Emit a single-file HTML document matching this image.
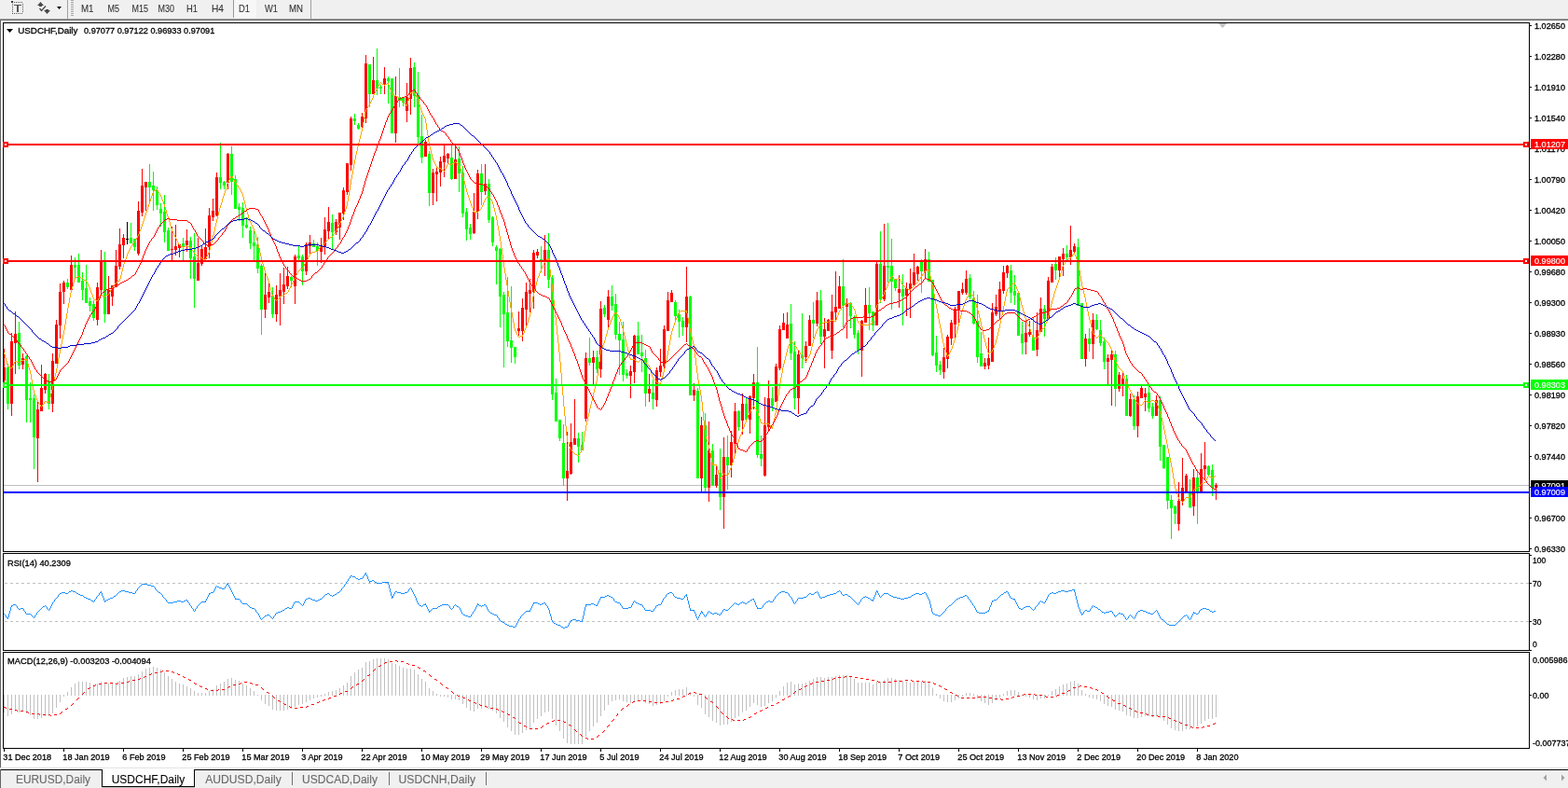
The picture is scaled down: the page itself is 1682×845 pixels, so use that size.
<!DOCTYPE html>
<html><head><meta charset="utf-8"><title>USDCHF,Daily</title>
<style>html,body{margin:0;padding:0;background:#fff;width:1682px;height:845px;overflow:hidden}svg{display:block}</style>
</head><body>
<svg width="1682" height="845" viewBox="0 0 1682 845" font-family="Liberation Sans, Arial, sans-serif">
<rect x="0" y="0" width="1682" height="845" fill="#fff"/>
<g shape-rendering="crispEdges">
<rect x="0" y="0" width="1682" height="20" fill="#f0f0f0"/>
<rect x="0" y="20" width="1682" height="1" fill="#a0a0a0"/>
<rect x="0" y="21" width="1682" height="1" fill="#6a6a6a"/>
<rect x="72" y="0" width="1" height="20" fill="#a0a0a0"/>
<rect x="333" y="0" width="1" height="20" fill="#a0a0a0"/>
<rect x="76" y="0" width="3" height="1" fill="#a8a8a8"/>
<rect x="76" y="2" width="3" height="1" fill="#a8a8a8"/>
<rect x="76" y="4" width="3" height="1" fill="#a8a8a8"/>
<rect x="76" y="6" width="3" height="1" fill="#a8a8a8"/>
<rect x="76" y="8" width="3" height="1" fill="#a8a8a8"/>
<rect x="76" y="10" width="3" height="1" fill="#a8a8a8"/>
<rect x="76" y="12" width="3" height="1" fill="#a8a8a8"/>
<rect x="76" y="14" width="3" height="1" fill="#a8a8a8"/>
<rect x="76" y="16" width="3" height="1" fill="#a8a8a8"/>
<rect x="250" y="0" width="25" height="19" fill="#f7f7f7"/>
<rect x="250" y="0" width="1" height="19" fill="#9a9a9a"/>
</g>
<g shape-rendering="crispEdges" fill="#555">
<rect x="13" y="2" width="1" height="1"/>
<rect x="13" y="14" width="1" height="1"/>
<rect x="15" y="2" width="1" height="1"/>
<rect x="15" y="14" width="1" height="1"/>
<rect x="17" y="2" width="1" height="1"/>
<rect x="17" y="14" width="1" height="1"/>
<rect x="19" y="2" width="1" height="1"/>
<rect x="19" y="14" width="1" height="1"/>
<rect x="21" y="2" width="1" height="1"/>
<rect x="21" y="14" width="1" height="1"/>
<rect x="23" y="2" width="1" height="1"/>
<rect x="23" y="14" width="1" height="1"/>
<rect x="13" y="4" width="1" height="1"/>
<rect x="24" y="4" width="1" height="1"/>
<rect x="13" y="6" width="1" height="1"/>
<rect x="24" y="6" width="1" height="1"/>
<rect x="13" y="8" width="1" height="1"/>
<rect x="24" y="8" width="1" height="1"/>
<rect x="13" y="10" width="1" height="1"/>
<rect x="24" y="10" width="1" height="1"/>
<rect x="13" y="12" width="1" height="1"/>
<rect x="24" y="12" width="1" height="1"/>
<rect x="12" y="1" width="2" height="2" fill="#333"/>
<rect x="15" y="5" width="8" height="1"/><rect x="18" y="5" width="2" height="8"/>
</g>
<g fill="#4a4a4a"><polygon points="40,6 43.5,2 47,6"/><rect x="42" y="6" width="3" height="1"/><polygon points="47,11 50.5,15 54,11"/><rect x="49" y="10" width="3" height="1"/></g>
<polyline points="42.5,9 44.5,11.5 49,6.5" fill="none" stroke="#4a4a4a" stroke-width="1.3"/>
<polygon points="61,7 66,7 63.5,10" fill="#000"/>
<text x="87" y="12.5" font-size="11" fill="#333" stroke="#333" stroke-width="0.1" textLength="13.5" lengthAdjust="spacingAndGlyphs">M1</text>
<text x="115.5" y="12.5" font-size="11" fill="#333" stroke="#333" stroke-width="0.1" textLength="12.5" lengthAdjust="spacingAndGlyphs">M5</text>
<text x="141.5" y="12.5" font-size="11" fill="#333" stroke="#333" stroke-width="0.1" textLength="17.5" lengthAdjust="spacingAndGlyphs">M15</text>
<text x="169.5" y="12.5" font-size="11" fill="#333" stroke="#333" stroke-width="0.1" textLength="17.5" lengthAdjust="spacingAndGlyphs">M30</text>
<text x="200" y="12.5" font-size="11" fill="#333" stroke="#333" stroke-width="0.1" textLength="12.0" lengthAdjust="spacingAndGlyphs">H1</text>
<text x="227" y="12.5" font-size="11" fill="#333" stroke="#333" stroke-width="0.1" textLength="13.0" lengthAdjust="spacingAndGlyphs">H4</text>
<text x="256" y="12.5" font-size="11" fill="#333" stroke="#333" stroke-width="0.1" textLength="12.0" lengthAdjust="spacingAndGlyphs">D1</text>
<text x="284" y="12.5" font-size="11" fill="#333" stroke="#333" stroke-width="0.1" textLength="14.0" lengthAdjust="spacingAndGlyphs">W1</text>
<text x="310" y="12.5" font-size="11" fill="#333" stroke="#333" stroke-width="0.1" textLength="15.0" lengthAdjust="spacingAndGlyphs">MN</text>
<g shape-rendering="crispEdges">
<rect x="0" y="22" width="1" height="801" fill="#646464"/>
<rect x="3" y="24" width="1638" height="1" fill="#000"/>
<rect x="3" y="591" width="1638" height="1" fill="#000"/>
<rect x="3" y="24" width="1" height="568" fill="#000"/>
<rect x="1640" y="24" width="1" height="568" fill="#000"/>
<rect x="3" y="593" width="1638" height="1" fill="#000"/>
<rect x="3" y="697" width="1638" height="1" fill="#000"/>
<rect x="3" y="593" width="1" height="105" fill="#000"/>
<rect x="1640" y="593" width="1" height="105" fill="#000"/>
<rect x="3" y="699" width="1638" height="1" fill="#000"/>
<rect x="3" y="802" width="1638" height="1" fill="#000"/>
<rect x="3" y="699" width="1" height="104" fill="#000"/>
<rect x="1640" y="699" width="1" height="104" fill="#000"/>
</g>
<polygon points="1307,25 1316,25 1311.5,30" fill="#c0c0c0"/>
<defs><clipPath id="cm"><rect x="3" y="25" width="1637" height="566"/></clipPath><clipPath id="cr"><rect x="4" y="594" width="1636" height="103"/></clipPath><clipPath id="cd"><rect x="4" y="700" width="1636" height="102"/></clipPath></defs>
<g clip-path="url(#cm)">
<rect x="4" y="520" width="1636" height="1" fill="#c0c0c0" shape-rendering="crispEdges"/>
<g shape-rendering="crispEdges">
<rect x="4" y="374" width="1" height="37" fill="#ff0000"/>
<rect x="4" y="394" width="2" height="14" fill="#ff0000"/>
<rect x="8" y="390" width="1" height="49" fill="#00ff00"/>
<rect x="7" y="394" width="3" height="39" fill="#00ff00"/>
<rect x="12" y="357" width="1" height="89" fill="#ff0000"/>
<rect x="11" y="366" width="3" height="67" fill="#ff0000"/>
<rect x="16" y="334" width="1" height="67" fill="#ff0000"/>
<rect x="15" y="358" width="3" height="10" fill="#ff0000"/>
<rect x="20" y="345" width="1" height="51" fill="#00ff00"/>
<rect x="19" y="357" width="3" height="35" fill="#00ff00"/>
<rect x="24" y="379" width="1" height="17" fill="#ff0000"/>
<rect x="23" y="384" width="3" height="7" fill="#ff0000"/>
<rect x="28" y="381" width="1" height="72" fill="#00ff00"/>
<rect x="27" y="382" width="3" height="47" fill="#00ff00"/>
<rect x="32" y="410" width="1" height="43" fill="#00ff00"/>
<rect x="31" y="427" width="3" height="2" fill="#00ff00"/>
<rect x="36" y="423" width="1" height="80" fill="#00ff00"/>
<rect x="35" y="427" width="3" height="42" fill="#00ff00"/>
<rect x="40" y="431" width="1" height="86" fill="#ff0000"/>
<rect x="39" y="439" width="3" height="31" fill="#ff0000"/>
<rect x="44" y="391" width="1" height="50" fill="#ff0000"/>
<rect x="43" y="416" width="3" height="25" fill="#ff0000"/>
<rect x="48" y="400" width="1" height="22" fill="#ff0000"/>
<rect x="47" y="401" width="3" height="17" fill="#ff0000"/>
<rect x="52" y="401" width="1" height="38" fill="#00ff00"/>
<rect x="51" y="409" width="3" height="24" fill="#00ff00"/>
<rect x="56" y="379" width="1" height="63" fill="#ff0000"/>
<rect x="55" y="387" width="3" height="46" fill="#ff0000"/>
<rect x="60" y="343" width="1" height="47" fill="#ff0000"/>
<rect x="59" y="348" width="3" height="42" fill="#ff0000"/>
<rect x="64" y="304" width="1" height="59" fill="#ff0000"/>
<rect x="63" y="313" width="3" height="36" fill="#ff0000"/>
<rect x="68" y="301" width="1" height="25" fill="#ff0000"/>
<rect x="67" y="303" width="3" height="10" fill="#ff0000"/>
<rect x="72" y="299" width="1" height="11" fill="#00ff00"/>
<rect x="71" y="303" width="3" height="5" fill="#00ff00"/>
<rect x="76" y="274" width="1" height="37" fill="#ff0000"/>
<rect x="75" y="284" width="3" height="27" fill="#ff0000"/>
<rect x="80" y="276" width="1" height="22" fill="#00ff00"/>
<rect x="79" y="284" width="3" height="3" fill="#00ff00"/>
<rect x="84" y="272" width="1" height="31" fill="#00ff00"/>
<rect x="83" y="284" width="3" height="19" fill="#00ff00"/>
<rect x="88" y="292" width="1" height="30" fill="#00ff00"/>
<rect x="87" y="301" width="3" height="10" fill="#00ff00"/>
<rect x="92" y="284" width="1" height="41" fill="#00ff00"/>
<rect x="91" y="309" width="3" height="16" fill="#00ff00"/>
<rect x="96" y="319" width="1" height="15" fill="#00ff00"/>
<rect x="95" y="323" width="3" height="5" fill="#00ff00"/>
<rect x="100" y="322" width="1" height="22" fill="#00ff00"/>
<rect x="99" y="326" width="3" height="15" fill="#00ff00"/>
<rect x="104" y="303" width="1" height="46" fill="#ff0000"/>
<rect x="103" y="308" width="3" height="35" fill="#ff0000"/>
<rect x="108" y="268" width="1" height="47" fill="#ff0000"/>
<rect x="107" y="279" width="3" height="32" fill="#ff0000"/>
<rect x="112" y="270" width="1" height="76" fill="#00ff00"/>
<rect x="111" y="281" width="3" height="56" fill="#00ff00"/>
<rect x="116" y="296" width="1" height="41" fill="#ff0000"/>
<rect x="115" y="311" width="3" height="26" fill="#ff0000"/>
<rect x="120" y="306" width="1" height="22" fill="#ff0000"/>
<rect x="119" y="306" width="3" height="12" fill="#ff0000"/>
<rect x="124" y="268" width="1" height="40" fill="#ff0000"/>
<rect x="123" y="285" width="3" height="23" fill="#ff0000"/>
<rect x="128" y="245" width="1" height="44" fill="#ff0000"/>
<rect x="127" y="262" width="3" height="24" fill="#ff0000"/>
<rect x="132" y="251" width="1" height="26" fill="#ff0000"/>
<rect x="131" y="255" width="3" height="8" fill="#ff0000"/>
<rect x="136" y="238" width="1" height="24" fill="#000000"/>
<rect x="135" y="256" width="3" height="1" fill="#000000"/>
<rect x="140" y="239" width="1" height="22" fill="#00ff00"/>
<rect x="139" y="255" width="3" height="6" fill="#00ff00"/>
<rect x="144" y="256" width="1" height="13" fill="#00ff00"/>
<rect x="143" y="256" width="3" height="9" fill="#00ff00"/>
<rect x="148" y="216" width="1" height="58" fill="#ff0000"/>
<rect x="147" y="226" width="3" height="46" fill="#ff0000"/>
<rect x="152" y="181" width="1" height="51" fill="#ff0000"/>
<rect x="151" y="199" width="3" height="29" fill="#ff0000"/>
<rect x="156" y="195" width="1" height="31" fill="#ff0000"/>
<rect x="155" y="195" width="3" height="6" fill="#ff0000"/>
<rect x="160" y="176" width="1" height="41" fill="#00ff00"/>
<rect x="159" y="195" width="3" height="6" fill="#00ff00"/>
<rect x="164" y="184" width="1" height="42" fill="#00ff00"/>
<rect x="163" y="199" width="3" height="5" fill="#00ff00"/>
<rect x="168" y="200" width="1" height="25" fill="#00ff00"/>
<rect x="167" y="204" width="3" height="16" fill="#00ff00"/>
<rect x="172" y="218" width="1" height="25" fill="#00ff00"/>
<rect x="171" y="224" width="3" height="5" fill="#00ff00"/>
<rect x="176" y="209" width="1" height="51" fill="#00ff00"/>
<rect x="175" y="227" width="3" height="22" fill="#00ff00"/>
<rect x="180" y="244" width="1" height="25" fill="#00ff00"/>
<rect x="179" y="247" width="3" height="22" fill="#00ff00"/>
<rect x="184" y="243" width="1" height="37" fill="#ff0000"/>
<rect x="183" y="267" width="3" height="1" fill="#ff0000"/>
<rect x="188" y="241" width="1" height="33" fill="#ff0000"/>
<rect x="187" y="264" width="3" height="4" fill="#ff0000"/>
<rect x="192" y="262" width="1" height="14" fill="#ff0000"/>
<rect x="191" y="262" width="3" height="4" fill="#ff0000"/>
<rect x="196" y="255" width="1" height="24" fill="#00ff00"/>
<rect x="195" y="261" width="3" height="3" fill="#00ff00"/>
<rect x="200" y="246" width="1" height="24" fill="#ff0000"/>
<rect x="199" y="258" width="3" height="5" fill="#ff0000"/>
<rect x="204" y="254" width="1" height="45" fill="#00ff00"/>
<rect x="203" y="258" width="3" height="19" fill="#00ff00"/>
<rect x="208" y="250" width="1" height="80" fill="#00ff00"/>
<rect x="207" y="275" width="3" height="24" fill="#00ff00"/>
<rect x="212" y="255" width="1" height="46" fill="#ff0000"/>
<rect x="211" y="282" width="3" height="19" fill="#ff0000"/>
<rect x="216" y="264" width="1" height="21" fill="#ff0000"/>
<rect x="215" y="267" width="3" height="16" fill="#ff0000"/>
<rect x="220" y="245" width="1" height="35" fill="#ff0000"/>
<rect x="219" y="265" width="3" height="13" fill="#ff0000"/>
<rect x="224" y="223" width="1" height="54" fill="#ff0000"/>
<rect x="223" y="231" width="3" height="34" fill="#ff0000"/>
<rect x="228" y="213" width="1" height="24" fill="#ff0000"/>
<rect x="227" y="226" width="3" height="7" fill="#ff0000"/>
<rect x="232" y="185" width="1" height="47" fill="#ff0000"/>
<rect x="231" y="190" width="3" height="41" fill="#ff0000"/>
<rect x="236" y="153" width="1" height="50" fill="#00ff00"/>
<rect x="235" y="190" width="3" height="6" fill="#00ff00"/>
<rect x="240" y="194" width="1" height="9" fill="#00ff00"/>
<rect x="239" y="195" width="3" height="4" fill="#00ff00"/>
<rect x="244" y="164" width="1" height="39" fill="#ff0000"/>
<rect x="243" y="165" width="3" height="31" fill="#ff0000"/>
<rect x="248" y="157" width="1" height="52" fill="#00ff00"/>
<rect x="247" y="165" width="3" height="30" fill="#00ff00"/>
<rect x="252" y="188" width="1" height="36" fill="#00ff00"/>
<rect x="251" y="192" width="3" height="32" fill="#00ff00"/>
<rect x="256" y="218" width="1" height="19" fill="#00ff00"/>
<rect x="255" y="222" width="3" height="3" fill="#00ff00"/>
<rect x="260" y="217" width="1" height="38" fill="#00ff00"/>
<rect x="259" y="223" width="3" height="19" fill="#00ff00"/>
<rect x="264" y="233" width="1" height="12" fill="#00ff00"/>
<rect x="263" y="241" width="3" height="3" fill="#00ff00"/>
<rect x="268" y="243" width="1" height="24" fill="#00ff00"/>
<rect x="267" y="247" width="3" height="14" fill="#00ff00"/>
<rect x="272" y="248" width="1" height="31" fill="#00ff00"/>
<rect x="271" y="260" width="3" height="4" fill="#00ff00"/>
<rect x="276" y="254" width="1" height="39" fill="#00ff00"/>
<rect x="275" y="262" width="3" height="26" fill="#00ff00"/>
<rect x="280" y="283" width="1" height="76" fill="#00ff00"/>
<rect x="279" y="285" width="3" height="47" fill="#00ff00"/>
<rect x="284" y="293" width="1" height="48" fill="#ff0000"/>
<rect x="283" y="316" width="3" height="16" fill="#ff0000"/>
<rect x="288" y="303" width="1" height="22" fill="#ff0000"/>
<rect x="287" y="313" width="3" height="6" fill="#ff0000"/>
<rect x="292" y="308" width="1" height="33" fill="#00ff00"/>
<rect x="291" y="317" width="3" height="20" fill="#00ff00"/>
<rect x="296" y="306" width="1" height="39" fill="#ff0000"/>
<rect x="295" y="316" width="3" height="21" fill="#ff0000"/>
<rect x="300" y="293" width="1" height="56" fill="#ff0000"/>
<rect x="299" y="311" width="3" height="7" fill="#ff0000"/>
<rect x="304" y="287" width="1" height="39" fill="#ff0000"/>
<rect x="303" y="305" width="3" height="8" fill="#ff0000"/>
<rect x="308" y="286" width="1" height="24" fill="#ff0000"/>
<rect x="307" y="296" width="3" height="11" fill="#ff0000"/>
<rect x="312" y="296" width="1" height="12" fill="#00ff00"/>
<rect x="311" y="297" width="3" height="4" fill="#00ff00"/>
<rect x="316" y="273" width="1" height="53" fill="#ff0000"/>
<rect x="315" y="275" width="3" height="32" fill="#ff0000"/>
<rect x="320" y="264" width="1" height="15" fill="#00ff00"/>
<rect x="319" y="274" width="3" height="3" fill="#00ff00"/>
<rect x="324" y="273" width="1" height="33" fill="#00ff00"/>
<rect x="323" y="275" width="3" height="16" fill="#00ff00"/>
<rect x="328" y="260" width="1" height="35" fill="#ff0000"/>
<rect x="327" y="262" width="3" height="29" fill="#ff0000"/>
<rect x="332" y="252" width="1" height="21" fill="#ff0000"/>
<rect x="331" y="260" width="3" height="4" fill="#ff0000"/>
<rect x="336" y="257" width="1" height="8" fill="#00ff00"/>
<rect x="335" y="261" width="3" height="4" fill="#00ff00"/>
<rect x="340" y="260" width="1" height="25" fill="#00ff00"/>
<rect x="339" y="264" width="3" height="5" fill="#00ff00"/>
<rect x="344" y="255" width="1" height="27" fill="#ff0000"/>
<rect x="343" y="263" width="3" height="7" fill="#ff0000"/>
<rect x="348" y="233" width="1" height="40" fill="#ff0000"/>
<rect x="347" y="246" width="3" height="18" fill="#ff0000"/>
<rect x="352" y="222" width="1" height="34" fill="#ff0000"/>
<rect x="351" y="238" width="3" height="10" fill="#ff0000"/>
<rect x="356" y="230" width="1" height="37" fill="#00ff00"/>
<rect x="355" y="239" width="3" height="10" fill="#00ff00"/>
<rect x="360" y="235" width="1" height="17" fill="#ff0000"/>
<rect x="359" y="238" width="3" height="11" fill="#ff0000"/>
<rect x="364" y="228" width="1" height="29" fill="#ff0000"/>
<rect x="363" y="228" width="3" height="16" fill="#ff0000"/>
<rect x="368" y="201" width="1" height="35" fill="#ff0000"/>
<rect x="367" y="204" width="3" height="25" fill="#ff0000"/>
<rect x="372" y="175" width="1" height="34" fill="#ff0000"/>
<rect x="371" y="175" width="3" height="31" fill="#ff0000"/>
<rect x="376" y="125" width="1" height="58" fill="#ff0000"/>
<rect x="375" y="127" width="3" height="50" fill="#ff0000"/>
<rect x="380" y="122" width="1" height="12" fill="#00ff00"/>
<rect x="379" y="127" width="3" height="3" fill="#00ff00"/>
<rect x="384" y="132" width="1" height="7" fill="#00ff00"/>
<rect x="383" y="134" width="3" height="4" fill="#00ff00"/>
<rect x="388" y="121" width="1" height="19" fill="#ff0000"/>
<rect x="387" y="125" width="3" height="11" fill="#ff0000"/>
<rect x="392" y="59" width="1" height="73" fill="#ff0000"/>
<rect x="391" y="68" width="3" height="59" fill="#ff0000"/>
<rect x="396" y="69" width="1" height="46" fill="#00ff00"/>
<rect x="395" y="69" width="3" height="32" fill="#00ff00"/>
<rect x="400" y="61" width="1" height="40" fill="#ff0000"/>
<rect x="399" y="86" width="3" height="15" fill="#ff0000"/>
<rect x="404" y="52" width="1" height="50" fill="#00ff00"/>
<rect x="403" y="86" width="3" height="9" fill="#00ff00"/>
<rect x="408" y="91" width="1" height="10" fill="#00ff00"/>
<rect x="407" y="93" width="3" height="2" fill="#00ff00"/>
<rect x="412" y="72" width="1" height="29" fill="#ff0000"/>
<rect x="411" y="84" width="3" height="7" fill="#ff0000"/>
<rect x="416" y="82" width="1" height="29" fill="#00ff00"/>
<rect x="415" y="84" width="3" height="3" fill="#00ff00"/>
<rect x="420" y="84" width="1" height="59" fill="#00ff00"/>
<rect x="419" y="84" width="3" height="59" fill="#00ff00"/>
<rect x="424" y="82" width="1" height="71" fill="#ff0000"/>
<rect x="423" y="103" width="3" height="40" fill="#ff0000"/>
<rect x="428" y="73" width="1" height="42" fill="#00ff00"/>
<rect x="427" y="104" width="3" height="4" fill="#00ff00"/>
<rect x="432" y="104" width="1" height="10" fill="#00ff00"/>
<rect x="431" y="105" width="3" height="5" fill="#00ff00"/>
<rect x="436" y="89" width="1" height="42" fill="#ff0000"/>
<rect x="435" y="104" width="3" height="15" fill="#ff0000"/>
<rect x="440" y="62" width="1" height="61" fill="#ff0000"/>
<rect x="439" y="73" width="3" height="33" fill="#ff0000"/>
<rect x="444" y="67" width="1" height="48" fill="#00ff00"/>
<rect x="443" y="72" width="3" height="31" fill="#00ff00"/>
<rect x="448" y="77" width="1" height="78" fill="#00ff00"/>
<rect x="447" y="102" width="3" height="45" fill="#00ff00"/>
<rect x="452" y="123" width="1" height="52" fill="#00ff00"/>
<rect x="451" y="146" width="3" height="23" fill="#00ff00"/>
<rect x="456" y="150" width="1" height="18" fill="#ff0000"/>
<rect x="455" y="152" width="3" height="16" fill="#ff0000"/>
<rect x="460" y="162" width="1" height="59" fill="#00ff00"/>
<rect x="459" y="165" width="3" height="42" fill="#00ff00"/>
<rect x="464" y="181" width="1" height="39" fill="#ff0000"/>
<rect x="463" y="185" width="3" height="22" fill="#ff0000"/>
<rect x="468" y="179" width="1" height="37" fill="#ff0000"/>
<rect x="467" y="184" width="3" height="3" fill="#ff0000"/>
<rect x="472" y="168" width="1" height="32" fill="#ff0000"/>
<rect x="471" y="173" width="3" height="12" fill="#ff0000"/>
<rect x="476" y="156" width="1" height="34" fill="#ff0000"/>
<rect x="475" y="167" width="3" height="7" fill="#ff0000"/>
<rect x="480" y="164" width="1" height="12" fill="#ff0000"/>
<rect x="479" y="165" width="3" height="5" fill="#ff0000"/>
<rect x="484" y="156" width="1" height="37" fill="#00ff00"/>
<rect x="483" y="169" width="3" height="23" fill="#00ff00"/>
<rect x="488" y="155" width="1" height="37" fill="#ff0000"/>
<rect x="487" y="171" width="3" height="21" fill="#ff0000"/>
<rect x="492" y="157" width="1" height="49" fill="#00ff00"/>
<rect x="491" y="170" width="3" height="16" fill="#00ff00"/>
<rect x="496" y="178" width="1" height="55" fill="#00ff00"/>
<rect x="495" y="185" width="3" height="44" fill="#00ff00"/>
<rect x="500" y="223" width="1" height="35" fill="#00ff00"/>
<rect x="499" y="227" width="3" height="19" fill="#00ff00"/>
<rect x="504" y="240" width="1" height="17" fill="#00ff00"/>
<rect x="503" y="244" width="3" height="7" fill="#00ff00"/>
<rect x="508" y="207" width="1" height="44" fill="#ff0000"/>
<rect x="507" y="227" width="3" height="23" fill="#ff0000"/>
<rect x="512" y="182" width="1" height="53" fill="#ff0000"/>
<rect x="511" y="186" width="3" height="41" fill="#ff0000"/>
<rect x="516" y="176" width="1" height="44" fill="#00ff00"/>
<rect x="515" y="186" width="3" height="20" fill="#00ff00"/>
<rect x="520" y="176" width="1" height="33" fill="#ff0000"/>
<rect x="519" y="197" width="3" height="8" fill="#ff0000"/>
<rect x="524" y="192" width="1" height="47" fill="#00ff00"/>
<rect x="523" y="197" width="3" height="39" fill="#00ff00"/>
<rect x="528" y="232" width="1" height="32" fill="#00ff00"/>
<rect x="527" y="233" width="3" height="27" fill="#00ff00"/>
<rect x="532" y="263" width="1" height="42" fill="#00ff00"/>
<rect x="531" y="265" width="3" height="4" fill="#00ff00"/>
<rect x="536" y="266" width="1" height="85" fill="#00ff00"/>
<rect x="535" y="267" width="3" height="51" fill="#00ff00"/>
<rect x="540" y="313" width="1" height="81" fill="#00ff00"/>
<rect x="539" y="316" width="3" height="21" fill="#00ff00"/>
<rect x="544" y="297" width="1" height="75" fill="#00ff00"/>
<rect x="543" y="335" width="3" height="31" fill="#00ff00"/>
<rect x="548" y="307" width="1" height="82" fill="#00ff00"/>
<rect x="547" y="365" width="3" height="8" fill="#00ff00"/>
<rect x="552" y="372" width="1" height="18" fill="#00ff00"/>
<rect x="551" y="372" width="3" height="11" fill="#00ff00"/>
<rect x="556" y="334" width="1" height="26" fill="#ff0000"/>
<rect x="555" y="352" width="3" height="3" fill="#ff0000"/>
<rect x="560" y="320" width="1" height="46" fill="#ff0000"/>
<rect x="559" y="330" width="3" height="25" fill="#ff0000"/>
<rect x="564" y="303" width="1" height="47" fill="#ff0000"/>
<rect x="563" y="313" width="3" height="19" fill="#ff0000"/>
<rect x="568" y="299" width="1" height="36" fill="#ff0000"/>
<rect x="567" y="311" width="3" height="4" fill="#ff0000"/>
<rect x="572" y="268" width="1" height="63" fill="#ff0000"/>
<rect x="571" y="271" width="3" height="42" fill="#ff0000"/>
<rect x="576" y="267" width="1" height="10" fill="#ff0000"/>
<rect x="575" y="270" width="3" height="4" fill="#ff0000"/>
<rect x="580" y="264" width="1" height="28" fill="#00ff00"/>
<rect x="579" y="278" width="3" height="2" fill="#00ff00"/>
<rect x="584" y="252" width="1" height="44" fill="#ff0000"/>
<rect x="583" y="268" width="3" height="13" fill="#ff0000"/>
<rect x="588" y="250" width="1" height="59" fill="#00ff00"/>
<rect x="587" y="268" width="3" height="32" fill="#00ff00"/>
<rect x="592" y="295" width="1" height="134" fill="#00ff00"/>
<rect x="591" y="298" width="3" height="125" fill="#00ff00"/>
<rect x="596" y="406" width="1" height="46" fill="#00ff00"/>
<rect x="595" y="421" width="3" height="31" fill="#00ff00"/>
<rect x="600" y="450" width="1" height="23" fill="#00ff00"/>
<rect x="599" y="450" width="3" height="20" fill="#00ff00"/>
<rect x="604" y="455" width="1" height="66" fill="#00ff00"/>
<rect x="603" y="475" width="3" height="38" fill="#00ff00"/>
<rect x="608" y="463" width="1" height="74" fill="#ff0000"/>
<rect x="607" y="505" width="3" height="8" fill="#ff0000"/>
<rect x="612" y="454" width="1" height="55" fill="#ff0000"/>
<rect x="611" y="474" width="3" height="34" fill="#ff0000"/>
<rect x="616" y="428" width="1" height="49" fill="#ff0000"/>
<rect x="615" y="470" width="3" height="7" fill="#ff0000"/>
<rect x="620" y="464" width="1" height="32" fill="#00ff00"/>
<rect x="619" y="470" width="3" height="9" fill="#00ff00"/>
<rect x="624" y="463" width="1" height="20" fill="#00ff00"/>
<rect x="623" y="477" width="3" height="6" fill="#00ff00"/>
<rect x="628" y="378" width="1" height="74" fill="#ff0000"/>
<rect x="627" y="384" width="3" height="65" fill="#ff0000"/>
<rect x="632" y="362" width="1" height="30" fill="#00ff00"/>
<rect x="631" y="384" width="3" height="5" fill="#00ff00"/>
<rect x="636" y="376" width="1" height="36" fill="#ff0000"/>
<rect x="635" y="383" width="3" height="6" fill="#ff0000"/>
<rect x="640" y="376" width="1" height="24" fill="#00ff00"/>
<rect x="639" y="383" width="3" height="13" fill="#00ff00"/>
<rect x="644" y="323" width="1" height="82" fill="#ff0000"/>
<rect x="643" y="331" width="3" height="65" fill="#ff0000"/>
<rect x="648" y="327" width="1" height="13" fill="#00ff00"/>
<rect x="647" y="330" width="3" height="7" fill="#00ff00"/>
<rect x="652" y="311" width="1" height="41" fill="#ff0000"/>
<rect x="651" y="318" width="3" height="25" fill="#ff0000"/>
<rect x="656" y="306" width="1" height="27" fill="#00ff00"/>
<rect x="655" y="318" width="3" height="10" fill="#00ff00"/>
<rect x="660" y="315" width="1" height="49" fill="#00ff00"/>
<rect x="659" y="326" width="3" height="33" fill="#00ff00"/>
<rect x="664" y="345" width="1" height="57" fill="#00ff00"/>
<rect x="663" y="358" width="3" height="7" fill="#00ff00"/>
<rect x="668" y="345" width="1" height="64" fill="#00ff00"/>
<rect x="667" y="364" width="3" height="38" fill="#00ff00"/>
<rect x="672" y="396" width="1" height="10" fill="#00ff00"/>
<rect x="671" y="400" width="3" height="3" fill="#00ff00"/>
<rect x="676" y="392" width="1" height="35" fill="#ff0000"/>
<rect x="675" y="398" width="3" height="5" fill="#ff0000"/>
<rect x="680" y="359" width="1" height="52" fill="#ff0000"/>
<rect x="679" y="360" width="3" height="39" fill="#ff0000"/>
<rect x="684" y="345" width="1" height="35" fill="#00ff00"/>
<rect x="683" y="360" width="3" height="20" fill="#00ff00"/>
<rect x="688" y="359" width="1" height="40" fill="#00ff00"/>
<rect x="687" y="378" width="3" height="4" fill="#00ff00"/>
<rect x="692" y="375" width="1" height="61" fill="#00ff00"/>
<rect x="691" y="384" width="3" height="38" fill="#00ff00"/>
<rect x="696" y="401" width="1" height="30" fill="#ff0000"/>
<rect x="695" y="417" width="3" height="5" fill="#ff0000"/>
<rect x="700" y="407" width="1" height="32" fill="#00ff00"/>
<rect x="699" y="421" width="3" height="7" fill="#00ff00"/>
<rect x="704" y="394" width="1" height="42" fill="#ff0000"/>
<rect x="703" y="397" width="3" height="32" fill="#ff0000"/>
<rect x="708" y="374" width="1" height="30" fill="#ff0000"/>
<rect x="707" y="392" width="3" height="7" fill="#ff0000"/>
<rect x="712" y="349" width="1" height="47" fill="#ff0000"/>
<rect x="711" y="353" width="3" height="40" fill="#ff0000"/>
<rect x="716" y="313" width="1" height="42" fill="#ff0000"/>
<rect x="715" y="322" width="3" height="33" fill="#ff0000"/>
<rect x="720" y="311" width="1" height="13" fill="#ff0000"/>
<rect x="719" y="314" width="3" height="10" fill="#ff0000"/>
<rect x="724" y="322" width="1" height="21" fill="#00ff00"/>
<rect x="723" y="324" width="3" height="15" fill="#00ff00"/>
<rect x="728" y="332" width="1" height="30" fill="#00ff00"/>
<rect x="727" y="337" width="3" height="8" fill="#00ff00"/>
<rect x="732" y="340" width="1" height="20" fill="#00ff00"/>
<rect x="731" y="344" width="3" height="7" fill="#00ff00"/>
<rect x="736" y="286" width="1" height="81" fill="#ff0000"/>
<rect x="735" y="318" width="3" height="33" fill="#ff0000"/>
<rect x="740" y="317" width="1" height="107" fill="#00ff00"/>
<rect x="739" y="318" width="3" height="106" fill="#00ff00"/>
<rect x="744" y="411" width="1" height="19" fill="#ff0000"/>
<rect x="743" y="418" width="3" height="6" fill="#ff0000"/>
<rect x="748" y="416" width="1" height="97" fill="#00ff00"/>
<rect x="747" y="419" width="3" height="94" fill="#00ff00"/>
<rect x="752" y="447" width="1" height="81" fill="#ff0000"/>
<rect x="751" y="456" width="3" height="57" fill="#ff0000"/>
<rect x="756" y="443" width="1" height="85" fill="#00ff00"/>
<rect x="755" y="456" width="3" height="67" fill="#00ff00"/>
<rect x="760" y="452" width="1" height="86" fill="#ff0000"/>
<rect x="759" y="483" width="3" height="40" fill="#ff0000"/>
<rect x="764" y="476" width="1" height="45" fill="#00ff00"/>
<rect x="763" y="483" width="3" height="38" fill="#00ff00"/>
<rect x="768" y="500" width="1" height="23" fill="#ff0000"/>
<rect x="767" y="509" width="3" height="12" fill="#ff0000"/>
<rect x="772" y="481" width="1" height="66" fill="#00ff00"/>
<rect x="771" y="507" width="3" height="26" fill="#00ff00"/>
<rect x="776" y="469" width="1" height="98" fill="#ff0000"/>
<rect x="775" y="490" width="3" height="43" fill="#ff0000"/>
<rect x="780" y="467" width="1" height="58" fill="#00ff00"/>
<rect x="779" y="490" width="3" height="9" fill="#00ff00"/>
<rect x="784" y="462" width="1" height="50" fill="#ff0000"/>
<rect x="783" y="474" width="3" height="25" fill="#ff0000"/>
<rect x="788" y="432" width="1" height="55" fill="#ff0000"/>
<rect x="787" y="441" width="3" height="35" fill="#ff0000"/>
<rect x="792" y="440" width="1" height="22" fill="#00ff00"/>
<rect x="791" y="441" width="3" height="17" fill="#00ff00"/>
<rect x="796" y="422" width="1" height="44" fill="#ff0000"/>
<rect x="795" y="433" width="3" height="18" fill="#ff0000"/>
<rect x="800" y="426" width="1" height="27" fill="#00ff00"/>
<rect x="799" y="433" width="3" height="17" fill="#00ff00"/>
<rect x="804" y="424" width="1" height="41" fill="#ff0000"/>
<rect x="803" y="425" width="3" height="25" fill="#ff0000"/>
<rect x="808" y="401" width="1" height="38" fill="#ff0000"/>
<rect x="807" y="410" width="3" height="17" fill="#ff0000"/>
<rect x="812" y="372" width="1" height="119" fill="#00ff00"/>
<rect x="811" y="410" width="3" height="78" fill="#00ff00"/>
<rect x="816" y="467" width="1" height="33" fill="#00ff00"/>
<rect x="815" y="487" width="3" height="5" fill="#00ff00"/>
<rect x="820" y="426" width="1" height="85" fill="#ff0000"/>
<rect x="819" y="456" width="3" height="54" fill="#ff0000"/>
<rect x="824" y="408" width="1" height="55" fill="#ff0000"/>
<rect x="823" y="427" width="3" height="31" fill="#ff0000"/>
<rect x="828" y="415" width="1" height="26" fill="#00ff00"/>
<rect x="827" y="427" width="3" height="8" fill="#00ff00"/>
<rect x="832" y="390" width="1" height="41" fill="#ff0000"/>
<rect x="831" y="393" width="3" height="38" fill="#ff0000"/>
<rect x="836" y="349" width="1" height="48" fill="#ff0000"/>
<rect x="835" y="353" width="3" height="42" fill="#ff0000"/>
<rect x="840" y="336" width="1" height="18" fill="#ff0000"/>
<rect x="839" y="346" width="3" height="8" fill="#ff0000"/>
<rect x="844" y="335" width="1" height="28" fill="#ff0000"/>
<rect x="843" y="348" width="3" height="15" fill="#ff0000"/>
<rect x="848" y="326" width="1" height="60" fill="#00ff00"/>
<rect x="847" y="347" width="3" height="32" fill="#00ff00"/>
<rect x="852" y="366" width="1" height="73" fill="#00ff00"/>
<rect x="851" y="377" width="3" height="50" fill="#00ff00"/>
<rect x="856" y="376" width="1" height="68" fill="#ff0000"/>
<rect x="855" y="380" width="3" height="47" fill="#ff0000"/>
<rect x="860" y="336" width="1" height="59" fill="#00ff00"/>
<rect x="859" y="381" width="3" height="3" fill="#00ff00"/>
<rect x="864" y="366" width="1" height="23" fill="#ff0000"/>
<rect x="863" y="371" width="3" height="12" fill="#ff0000"/>
<rect x="868" y="338" width="1" height="33" fill="#ff0000"/>
<rect x="867" y="343" width="3" height="28" fill="#ff0000"/>
<rect x="872" y="324" width="1" height="39" fill="#00ff00"/>
<rect x="871" y="343" width="3" height="4" fill="#00ff00"/>
<rect x="876" y="313" width="1" height="37" fill="#ff0000"/>
<rect x="875" y="322" width="3" height="25" fill="#ff0000"/>
<rect x="880" y="311" width="1" height="58" fill="#00ff00"/>
<rect x="879" y="322" width="3" height="39" fill="#00ff00"/>
<rect x="884" y="341" width="1" height="54" fill="#ff0000"/>
<rect x="883" y="353" width="3" height="8" fill="#ff0000"/>
<rect x="888" y="342" width="1" height="13" fill="#ff0000"/>
<rect x="887" y="343" width="3" height="12" fill="#ff0000"/>
<rect x="892" y="316" width="1" height="69" fill="#ff0000"/>
<rect x="891" y="334" width="3" height="42" fill="#ff0000"/>
<rect x="896" y="291" width="1" height="52" fill="#ff0000"/>
<rect x="895" y="329" width="3" height="6" fill="#ff0000"/>
<rect x="900" y="296" width="1" height="35" fill="#ff0000"/>
<rect x="899" y="307" width="3" height="24" fill="#ff0000"/>
<rect x="904" y="278" width="1" height="73" fill="#00ff00"/>
<rect x="903" y="307" width="3" height="21" fill="#00ff00"/>
<rect x="908" y="320" width="1" height="43" fill="#ff0000"/>
<rect x="907" y="325" width="3" height="4" fill="#ff0000"/>
<rect x="912" y="324" width="1" height="28" fill="#00ff00"/>
<rect x="911" y="325" width="3" height="14" fill="#00ff00"/>
<rect x="916" y="338" width="1" height="25" fill="#00ff00"/>
<rect x="915" y="340" width="3" height="19" fill="#00ff00"/>
<rect x="920" y="354" width="1" height="26" fill="#00ff00"/>
<rect x="919" y="357" width="3" height="19" fill="#00ff00"/>
<rect x="924" y="343" width="1" height="61" fill="#ff0000"/>
<rect x="923" y="344" width="3" height="32" fill="#ff0000"/>
<rect x="928" y="309" width="1" height="37" fill="#ff0000"/>
<rect x="927" y="327" width="3" height="19" fill="#ff0000"/>
<rect x="932" y="308" width="1" height="46" fill="#00ff00"/>
<rect x="931" y="327" width="3" height="9" fill="#00ff00"/>
<rect x="936" y="334" width="1" height="21" fill="#00ff00"/>
<rect x="935" y="334" width="3" height="15" fill="#00ff00"/>
<rect x="940" y="281" width="1" height="68" fill="#ff0000"/>
<rect x="939" y="283" width="3" height="66" fill="#ff0000"/>
<rect x="944" y="248" width="1" height="77" fill="#00ff00"/>
<rect x="943" y="283" width="3" height="38" fill="#00ff00"/>
<rect x="948" y="240" width="1" height="83" fill="#ff0000"/>
<rect x="947" y="285" width="3" height="36" fill="#ff0000"/>
<rect x="952" y="239" width="1" height="64" fill="#00ff00"/>
<rect x="951" y="285" width="3" height="2" fill="#00ff00"/>
<rect x="956" y="256" width="1" height="76" fill="#00ff00"/>
<rect x="955" y="285" width="3" height="17" fill="#00ff00"/>
<rect x="960" y="299" width="1" height="13" fill="#00ff00"/>
<rect x="959" y="300" width="3" height="9" fill="#00ff00"/>
<rect x="964" y="295" width="1" height="35" fill="#ff0000"/>
<rect x="963" y="310" width="3" height="4" fill="#ff0000"/>
<rect x="968" y="294" width="1" height="55" fill="#00ff00"/>
<rect x="967" y="310" width="3" height="8" fill="#00ff00"/>
<rect x="972" y="303" width="1" height="36" fill="#ff0000"/>
<rect x="971" y="309" width="3" height="8" fill="#ff0000"/>
<rect x="976" y="288" width="1" height="53" fill="#ff0000"/>
<rect x="975" y="304" width="3" height="6" fill="#ff0000"/>
<rect x="980" y="272" width="1" height="34" fill="#ff0000"/>
<rect x="979" y="292" width="3" height="14" fill="#ff0000"/>
<rect x="984" y="285" width="1" height="16" fill="#ff0000"/>
<rect x="983" y="286" width="3" height="8" fill="#ff0000"/>
<rect x="988" y="278" width="1" height="36" fill="#00ff00"/>
<rect x="987" y="279" width="3" height="12" fill="#00ff00"/>
<rect x="992" y="267" width="1" height="31" fill="#ff0000"/>
<rect x="991" y="278" width="3" height="13" fill="#ff0000"/>
<rect x="996" y="270" width="1" height="32" fill="#00ff00"/>
<rect x="995" y="278" width="3" height="24" fill="#00ff00"/>
<rect x="1000" y="300" width="1" height="82" fill="#00ff00"/>
<rect x="999" y="300" width="3" height="81" fill="#00ff00"/>
<rect x="1004" y="360" width="1" height="39" fill="#00ff00"/>
<rect x="1003" y="378" width="3" height="14" fill="#00ff00"/>
<rect x="1008" y="387" width="1" height="15" fill="#00ff00"/>
<rect x="1007" y="391" width="3" height="6" fill="#00ff00"/>
<rect x="1012" y="373" width="1" height="33" fill="#ff0000"/>
<rect x="1011" y="383" width="3" height="16" fill="#ff0000"/>
<rect x="1016" y="359" width="1" height="36" fill="#ff0000"/>
<rect x="1015" y="361" width="3" height="24" fill="#ff0000"/>
<rect x="1020" y="343" width="1" height="27" fill="#ff0000"/>
<rect x="1019" y="346" width="3" height="17" fill="#ff0000"/>
<rect x="1024" y="329" width="1" height="33" fill="#ff0000"/>
<rect x="1023" y="331" width="3" height="17" fill="#ff0000"/>
<rect x="1028" y="312" width="1" height="34" fill="#ff0000"/>
<rect x="1027" y="312" width="3" height="20" fill="#ff0000"/>
<rect x="1032" y="303" width="1" height="13" fill="#ff0000"/>
<rect x="1031" y="310" width="3" height="4" fill="#ff0000"/>
<rect x="1036" y="290" width="1" height="26" fill="#ff0000"/>
<rect x="1035" y="299" width="3" height="15" fill="#ff0000"/>
<rect x="1040" y="294" width="1" height="27" fill="#00ff00"/>
<rect x="1039" y="298" width="3" height="21" fill="#00ff00"/>
<rect x="1044" y="312" width="1" height="36" fill="#00ff00"/>
<rect x="1043" y="320" width="3" height="27" fill="#00ff00"/>
<rect x="1048" y="316" width="1" height="73" fill="#00ff00"/>
<rect x="1047" y="344" width="3" height="39" fill="#00ff00"/>
<rect x="1052" y="356" width="1" height="37" fill="#00ff00"/>
<rect x="1051" y="379" width="3" height="14" fill="#00ff00"/>
<rect x="1056" y="384" width="1" height="12" fill="#ff0000"/>
<rect x="1055" y="389" width="3" height="4" fill="#ff0000"/>
<rect x="1060" y="362" width="1" height="34" fill="#ff0000"/>
<rect x="1059" y="384" width="3" height="8" fill="#ff0000"/>
<rect x="1064" y="325" width="1" height="63" fill="#ff0000"/>
<rect x="1063" y="335" width="3" height="53" fill="#ff0000"/>
<rect x="1068" y="316" width="1" height="23" fill="#ff0000"/>
<rect x="1067" y="329" width="3" height="8" fill="#ff0000"/>
<rect x="1072" y="302" width="1" height="41" fill="#ff0000"/>
<rect x="1071" y="310" width="3" height="23" fill="#ff0000"/>
<rect x="1076" y="285" width="1" height="30" fill="#ff0000"/>
<rect x="1075" y="292" width="3" height="20" fill="#ff0000"/>
<rect x="1080" y="284" width="1" height="14" fill="#ff0000"/>
<rect x="1079" y="285" width="3" height="8" fill="#ff0000"/>
<rect x="1084" y="284" width="1" height="41" fill="#00ff00"/>
<rect x="1083" y="290" width="3" height="24" fill="#00ff00"/>
<rect x="1088" y="295" width="1" height="32" fill="#00ff00"/>
<rect x="1087" y="312" width="3" height="5" fill="#00ff00"/>
<rect x="1092" y="313" width="1" height="47" fill="#00ff00"/>
<rect x="1091" y="314" width="3" height="46" fill="#00ff00"/>
<rect x="1096" y="345" width="1" height="35" fill="#00ff00"/>
<rect x="1095" y="358" width="3" height="10" fill="#00ff00"/>
<rect x="1100" y="343" width="1" height="37" fill="#ff0000"/>
<rect x="1099" y="357" width="3" height="10" fill="#ff0000"/>
<rect x="1104" y="344" width="1" height="17" fill="#ff0000"/>
<rect x="1103" y="356" width="3" height="3" fill="#ff0000"/>
<rect x="1108" y="340" width="1" height="36" fill="#00ff00"/>
<rect x="1107" y="362" width="3" height="14" fill="#00ff00"/>
<rect x="1112" y="335" width="1" height="47" fill="#ff0000"/>
<rect x="1111" y="354" width="3" height="21" fill="#ff0000"/>
<rect x="1116" y="319" width="1" height="37" fill="#ff0000"/>
<rect x="1115" y="331" width="3" height="25" fill="#ff0000"/>
<rect x="1120" y="327" width="1" height="34" fill="#00ff00"/>
<rect x="1119" y="331" width="3" height="11" fill="#00ff00"/>
<rect x="1124" y="297" width="1" height="45" fill="#ff0000"/>
<rect x="1123" y="301" width="3" height="41" fill="#ff0000"/>
<rect x="1128" y="283" width="1" height="20" fill="#ff0000"/>
<rect x="1127" y="286" width="3" height="17" fill="#ff0000"/>
<rect x="1132" y="276" width="1" height="24" fill="#00ff00"/>
<rect x="1131" y="283" width="3" height="7" fill="#00ff00"/>
<rect x="1136" y="275" width="1" height="23" fill="#ff0000"/>
<rect x="1135" y="275" width="3" height="15" fill="#ff0000"/>
<rect x="1140" y="266" width="1" height="30" fill="#ff0000"/>
<rect x="1139" y="272" width="3" height="6" fill="#ff0000"/>
<rect x="1144" y="263" width="1" height="17" fill="#00ff00"/>
<rect x="1143" y="272" width="3" height="4" fill="#00ff00"/>
<rect x="1148" y="242" width="1" height="42" fill="#ff0000"/>
<rect x="1147" y="268" width="3" height="8" fill="#ff0000"/>
<rect x="1152" y="261" width="1" height="11" fill="#ff0000"/>
<rect x="1151" y="264" width="3" height="6" fill="#ff0000"/>
<rect x="1156" y="256" width="1" height="72" fill="#00ff00"/>
<rect x="1155" y="265" width="3" height="63" fill="#00ff00"/>
<rect x="1160" y="325" width="1" height="60" fill="#00ff00"/>
<rect x="1159" y="325" width="3" height="60" fill="#00ff00"/>
<rect x="1164" y="358" width="1" height="35" fill="#ff0000"/>
<rect x="1163" y="363" width="3" height="22" fill="#ff0000"/>
<rect x="1168" y="352" width="1" height="25" fill="#00ff00"/>
<rect x="1167" y="363" width="3" height="6" fill="#00ff00"/>
<rect x="1172" y="336" width="1" height="49" fill="#ff0000"/>
<rect x="1171" y="343" width="3" height="26" fill="#ff0000"/>
<rect x="1176" y="337" width="1" height="17" fill="#00ff00"/>
<rect x="1175" y="343" width="3" height="10" fill="#00ff00"/>
<rect x="1180" y="343" width="1" height="28" fill="#00ff00"/>
<rect x="1179" y="354" width="3" height="14" fill="#00ff00"/>
<rect x="1184" y="362" width="1" height="34" fill="#00ff00"/>
<rect x="1183" y="366" width="3" height="22" fill="#00ff00"/>
<rect x="1188" y="380" width="1" height="33" fill="#ff0000"/>
<rect x="1187" y="384" width="3" height="4" fill="#ff0000"/>
<rect x="1192" y="375" width="1" height="60" fill="#ff0000"/>
<rect x="1191" y="380" width="3" height="6" fill="#ff0000"/>
<rect x="1196" y="376" width="1" height="60" fill="#00ff00"/>
<rect x="1195" y="380" width="3" height="37" fill="#00ff00"/>
<rect x="1200" y="399" width="1" height="21" fill="#ff0000"/>
<rect x="1199" y="402" width="3" height="15" fill="#ff0000"/>
<rect x="1204" y="398" width="1" height="27" fill="#ff0000"/>
<rect x="1203" y="406" width="3" height="8" fill="#ff0000"/>
<rect x="1208" y="402" width="1" height="44" fill="#00ff00"/>
<rect x="1207" y="406" width="3" height="40" fill="#00ff00"/>
<rect x="1212" y="422" width="1" height="25" fill="#ff0000"/>
<rect x="1211" y="428" width="3" height="18" fill="#ff0000"/>
<rect x="1216" y="424" width="1" height="37" fill="#00ff00"/>
<rect x="1215" y="428" width="3" height="29" fill="#00ff00"/>
<rect x="1220" y="420" width="1" height="49" fill="#ff0000"/>
<rect x="1219" y="425" width="3" height="32" fill="#ff0000"/>
<rect x="1224" y="414" width="1" height="13" fill="#ff0000"/>
<rect x="1223" y="416" width="3" height="11" fill="#ff0000"/>
<rect x="1228" y="416" width="1" height="25" fill="#ff0000"/>
<rect x="1227" y="422" width="3" height="4" fill="#ff0000"/>
<rect x="1232" y="414" width="1" height="28" fill="#00ff00"/>
<rect x="1231" y="421" width="3" height="17" fill="#00ff00"/>
<rect x="1236" y="432" width="1" height="17" fill="#00ff00"/>
<rect x="1235" y="436" width="3" height="10" fill="#00ff00"/>
<rect x="1240" y="424" width="1" height="22" fill="#ff0000"/>
<rect x="1239" y="429" width="3" height="17" fill="#ff0000"/>
<rect x="1244" y="425" width="1" height="69" fill="#00ff00"/>
<rect x="1243" y="429" width="3" height="50" fill="#00ff00"/>
<rect x="1248" y="477" width="1" height="26" fill="#00ff00"/>
<rect x="1247" y="477" width="3" height="25" fill="#00ff00"/>
<rect x="1252" y="490" width="1" height="56" fill="#00ff00"/>
<rect x="1251" y="490" width="3" height="47" fill="#00ff00"/>
<rect x="1256" y="531" width="1" height="47" fill="#00ff00"/>
<rect x="1255" y="536" width="3" height="9" fill="#00ff00"/>
<rect x="1260" y="542" width="1" height="20" fill="#00ff00"/>
<rect x="1259" y="543" width="3" height="8" fill="#00ff00"/>
<rect x="1264" y="517" width="1" height="52" fill="#ff0000"/>
<rect x="1263" y="537" width="3" height="25" fill="#ff0000"/>
<rect x="1268" y="491" width="1" height="51" fill="#ff0000"/>
<rect x="1267" y="523" width="3" height="15" fill="#ff0000"/>
<rect x="1272" y="508" width="1" height="19" fill="#ff0000"/>
<rect x="1271" y="510" width="3" height="17" fill="#ff0000"/>
<rect x="1276" y="514" width="1" height="31" fill="#00ff00"/>
<rect x="1275" y="527" width="3" height="17" fill="#00ff00"/>
<rect x="1280" y="503" width="1" height="50" fill="#ff0000"/>
<rect x="1279" y="512" width="3" height="31" fill="#ff0000"/>
<rect x="1284" y="504" width="1" height="58" fill="#00ff00"/>
<rect x="1283" y="512" width="3" height="16" fill="#00ff00"/>
<rect x="1288" y="486" width="1" height="42" fill="#ff0000"/>
<rect x="1287" y="503" width="3" height="25" fill="#ff0000"/>
<rect x="1292" y="474" width="1" height="41" fill="#ff0000"/>
<rect x="1291" y="499" width="3" height="4" fill="#ff0000"/>
<rect x="1296" y="499" width="1" height="12" fill="#00ff00"/>
<rect x="1295" y="500" width="3" height="9" fill="#00ff00"/>
<rect x="1300" y="498" width="1" height="34" fill="#00ff00"/>
<rect x="1299" y="504" width="3" height="19" fill="#00ff00"/>
<rect x="1304" y="518" width="1" height="18" fill="#ff0000"/>
<rect x="1303" y="520" width="3" height="3" fill="#ff0000"/>
</g>
<path d="M408 88h1v1h-1zM407 89h1v1h-1zM409 89h1v1h-1zM415 89h2v1h-2zM407 90h1v1h-1zM410 90h2v1h-2zM413 90h2v1h-2zM416 90h1v1h-1zM406 91h1v1h-1zM412 91h1v1h-1zM417 91h1v1h-1zM405 92h1v1h-1zM417 92h1v1h-1zM405 93h1v1h-1zM417 93h1v1h-1zM404 94h1v1h-1zM418 94h1v1h-1zM404 95h1v1h-1zM418 95h1v1h-1zM403 96h1v1h-1zM419 96h1v1h-1zM403 97h1v1h-1zM419 97h1v1h-1zM402 98h1v1h-1zM419 98h1v1h-1zM402 99h1v1h-1zM420 99h1v1h-1zM440 99h5v1h-5zM401 100h1v1h-1zM420 100h1v1h-1zM440 100h1v1h-1zM445 100h1v1h-1zM401 101h1v1h-1zM421 101h2v1h-2zM439 101h1v1h-1zM445 101h1v1h-1zM400 102h1v1h-1zM423 102h2v1h-2zM439 102h1v1h-1zM446 102h1v1h-1zM400 103h1v1h-1zM425 103h2v1h-2zM439 103h1v1h-1zM446 103h1v1h-1zM400 104h1v1h-1zM427 104h2v1h-2zM439 104h1v1h-1zM447 104h1v1h-1zM399 105h1v1h-1zM429 105h1v1h-1zM438 105h1v1h-1zM447 105h1v1h-1zM399 106h1v1h-1zM430 106h1v1h-1zM438 106h1v1h-1zM448 106h1v1h-1zM398 107h1v1h-1zM430 107h1v1h-1zM438 107h1v1h-1zM448 107h1v1h-1zM398 108h1v1h-1zM431 108h1v1h-1zM437 108h1v1h-1zM448 108h1v1h-1zM397 109h1v1h-1zM432 109h1v1h-1zM437 109h1v1h-1zM449 109h1v1h-1zM397 110h1v1h-1zM433 110h1v1h-1zM437 110h1v1h-1zM449 110h1v1h-1zM396 111h1v1h-1zM434 111h1v1h-1zM437 111h1v1h-1zM449 111h1v1h-1zM396 112h1v1h-1zM435 112h2v1h-2zM450 112h1v1h-1zM395 113h1v1h-1zM436 113h1v1h-1zM450 113h1v1h-1zM394 114h1v1h-1zM450 114h1v1h-1zM394 115h1v1h-1zM451 115h1v1h-1zM393 116h1v1h-1zM451 116h1v1h-1zM392 117h1v1h-1zM451 117h1v1h-1zM392 118h1v1h-1zM452 118h1v1h-1zM392 119h1v1h-1zM452 119h1v1h-1zM391 120h1v1h-1zM452 120h1v1h-1zM391 121h1v1h-1zM453 121h1v1h-1zM391 122h1v1h-1zM453 122h1v1h-1zM391 123h1v1h-1zM454 123h1v1h-1zM391 124h1v1h-1zM454 124h1v1h-1zM391 125h1v1h-1zM455 125h1v1h-1zM390 126h1v1h-1zM455 126h1v1h-1zM390 127h1v1h-1zM456 127h1v1h-1zM390 128h1v1h-1zM456 128h1v1h-1zM390 129h1v1h-1zM456 129h1v1h-1zM390 130h1v1h-1zM456 130h1v1h-1zM389 131h1v1h-1zM456 131h1v1h-1zM389 132h1v1h-1zM457 132h1v1h-1zM389 133h1v1h-1zM457 133h1v1h-1zM389 134h1v1h-1zM457 134h1v1h-1zM389 135h1v1h-1zM457 135h1v1h-1zM389 136h1v1h-1zM457 136h1v1h-1zM388 137h1v1h-1zM457 137h1v1h-1zM388 138h1v1h-1zM457 138h1v1h-1zM388 139h1v1h-1zM458 139h1v1h-1zM388 140h1v1h-1zM458 140h1v1h-1zM387 141h1v1h-1zM458 141h1v1h-1zM387 142h1v1h-1zM458 142h1v1h-1zM387 143h1v1h-1zM458 143h1v1h-1zM387 144h1v1h-1zM458 144h1v1h-1zM386 145h1v1h-1zM459 145h1v1h-1zM386 146h1v1h-1zM459 146h1v1h-1zM386 147h1v1h-1zM459 147h1v1h-1zM386 148h1v1h-1zM459 148h1v1h-1zM385 149h1v1h-1zM459 149h1v1h-1zM385 150h1v1h-1zM459 150h1v1h-1zM385 151h1v1h-1zM459 151h1v1h-1zM385 152h1v1h-1zM460 152h1v1h-1zM384 153h1v1h-1zM460 153h1v1h-1zM384 154h1v1h-1zM460 154h1v1h-1zM384 155h1v1h-1zM460 155h1v1h-1zM384 156h1v1h-1zM460 156h1v1h-1zM383 157h1v1h-1zM461 157h1v1h-1zM383 158h1v1h-1zM461 158h1v1h-1zM383 159h1v1h-1zM461 159h1v1h-1zM383 160h1v1h-1zM461 160h1v1h-1zM383 161h1v1h-1zM462 161h1v1h-1zM382 162h1v1h-1zM462 162h1v1h-1zM382 163h1v1h-1zM462 163h1v1h-1zM382 164h1v1h-1zM462 164h1v1h-1zM382 165h1v1h-1zM463 165h1v1h-1zM381 166h1v1h-1zM463 166h1v1h-1zM381 167h1v1h-1zM463 167h1v1h-1zM381 168h1v1h-1zM463 168h1v1h-1zM381 169h1v1h-1zM464 169h1v1h-1zM381 170h1v1h-1zM464 170h1v1h-1zM380 171h1v1h-1zM464 171h1v1h-1zM380 172h1v1h-1zM465 172h1v1h-1zM380 173h1v1h-1zM465 173h1v1h-1zM488 173h1v1h-1zM380 174h1v1h-1zM466 174h1v1h-1zM486 174h2v1h-2zM489 174h1v1h-1zM380 175h1v1h-1zM466 175h1v1h-1zM480 175h2v1h-2zM485 175h1v1h-1zM490 175h2v1h-2zM379 176h1v1h-1zM467 176h1v1h-1zM480 176h1v1h-1zM482 176h3v1h-3zM492 176h1v1h-1zM379 177h1v1h-1zM467 177h1v1h-1zM479 177h1v1h-1zM492 177h1v1h-1zM379 178h1v1h-1zM468 178h1v1h-1zM479 178h1v1h-1zM493 178h1v1h-1zM379 179h1v1h-1zM468 179h2v1h-2zM478 179h1v1h-1zM493 179h1v1h-1zM379 180h1v1h-1zM470 180h3v1h-3zM478 180h1v1h-1zM493 180h1v1h-1zM378 181h1v1h-1zM473 181h1v1h-1zM477 181h1v1h-1zM494 181h1v1h-1zM378 182h1v1h-1zM474 182h2v1h-2zM477 182h1v1h-1zM494 182h1v1h-1zM378 183h1v1h-1zM476 183h1v1h-1zM494 183h1v1h-1zM378 184h1v1h-1zM495 184h1v1h-1zM378 185h1v1h-1zM495 185h1v1h-1zM378 186h1v1h-1zM495 186h1v1h-1zM377 187h1v1h-1zM496 187h1v1h-1zM248 188h1v1h-1zM377 188h1v1h-1zM496 188h1v1h-1zM247 189h1v1h-1zM249 189h1v1h-1zM377 189h1v1h-1zM496 189h1v1h-1zM247 190h1v1h-1zM249 190h1v1h-1zM377 190h1v1h-1zM497 190h1v1h-1zM246 191h1v1h-1zM250 191h1v1h-1zM377 191h1v1h-1zM497 191h1v1h-1zM246 192h1v1h-1zM250 192h1v1h-1zM376 192h1v1h-1zM497 192h1v1h-1zM245 193h1v1h-1zM251 193h1v1h-1zM376 193h1v1h-1zM497 193h1v1h-1zM245 194h1v1h-1zM251 194h1v1h-1zM376 194h1v1h-1zM498 194h1v1h-1zM244 195h1v1h-1zM252 195h1v1h-1zM376 195h1v1h-1zM498 195h1v1h-1zM244 196h1v1h-1zM253 196h1v1h-1zM376 196h1v1h-1zM498 196h1v1h-1zM243 197h1v1h-1zM253 197h1v1h-1zM376 197h1v1h-1zM498 197h1v1h-1zM243 198h1v1h-1zM254 198h1v1h-1zM375 198h1v1h-1zM499 198h1v1h-1zM243 199h1v1h-1zM255 199h1v1h-1zM375 199h1v1h-1zM499 199h1v1h-1zM242 200h1v1h-1zM255 200h1v1h-1zM375 200h1v1h-1zM499 200h1v1h-1zM242 201h1v1h-1zM256 201h1v1h-1zM375 201h1v1h-1zM499 201h1v1h-1zM242 202h1v1h-1zM257 202h1v1h-1zM375 202h1v1h-1zM500 202h1v1h-1zM167 203h2v1h-2zM242 203h1v1h-1zM257 203h1v1h-1zM375 203h1v1h-1zM500 203h1v1h-1zM165 204h2v1h-2zM169 204h1v1h-1zM241 204h1v1h-1zM258 204h1v1h-1zM374 204h1v1h-1zM500 204h1v1h-1zM164 205h1v1h-1zM169 205h1v1h-1zM241 205h1v1h-1zM258 205h1v1h-1zM374 205h1v1h-1zM500 205h1v1h-1zM164 206h1v1h-1zM170 206h1v1h-1zM241 206h1v1h-1zM259 206h1v1h-1zM374 206h1v1h-1zM501 206h1v1h-1zM163 207h1v1h-1zM171 207h1v1h-1zM240 207h1v1h-1zM259 207h1v1h-1zM374 207h1v1h-1zM501 207h1v1h-1zM163 208h1v1h-1zM171 208h1v1h-1zM240 208h1v1h-1zM260 208h1v1h-1zM374 208h1v1h-1zM501 208h1v1h-1zM163 209h1v1h-1zM172 209h1v1h-1zM240 209h1v1h-1zM260 209h1v1h-1zM374 209h1v1h-1zM502 209h1v1h-1zM162 210h1v1h-1zM172 210h1v1h-1zM239 210h1v1h-1zM260 210h1v1h-1zM373 210h1v1h-1zM502 210h1v1h-1zM524 210h1v1h-1zM162 211h1v1h-1zM173 211h1v1h-1zM239 211h1v1h-1zM261 211h1v1h-1zM373 211h1v1h-1zM502 211h1v1h-1zM522 211h2v1h-2zM525 211h1v1h-1zM162 212h1v1h-1zM173 212h1v1h-1zM239 212h1v1h-1zM261 212h1v1h-1zM373 212h1v1h-1zM503 212h1v1h-1zM521 212h1v1h-1zM525 212h1v1h-1zM161 213h1v1h-1zM173 213h1v1h-1zM238 213h1v1h-1zM261 213h1v1h-1zM373 213h1v1h-1zM503 213h1v1h-1zM520 213h1v1h-1zM526 213h1v1h-1zM161 214h1v1h-1zM174 214h1v1h-1zM238 214h1v1h-1zM261 214h1v1h-1zM373 214h1v1h-1zM503 214h1v1h-1zM520 214h1v1h-1zM527 214h1v1h-1zM161 215h1v1h-1zM174 215h1v1h-1zM238 215h1v1h-1zM262 215h1v1h-1zM373 215h1v1h-1zM504 215h1v1h-1zM519 215h1v1h-1zM527 215h1v1h-1zM160 216h1v1h-1zM175 216h1v1h-1zM238 216h1v1h-1zM262 216h1v1h-1zM372 216h1v1h-1zM504 216h1v1h-1zM519 216h1v1h-1zM528 216h1v1h-1zM160 217h1v1h-1zM175 217h1v1h-1zM237 217h1v1h-1zM262 217h1v1h-1zM372 217h1v1h-1zM504 217h1v1h-1zM518 217h1v1h-1zM528 217h1v1h-1zM160 218h1v1h-1zM175 218h1v1h-1zM237 218h1v1h-1zM262 218h1v1h-1zM372 218h1v1h-1zM505 218h1v1h-1zM518 218h1v1h-1zM528 218h1v1h-1zM159 219h1v1h-1zM176 219h1v1h-1zM237 219h1v1h-1zM263 219h1v1h-1zM372 219h1v1h-1zM505 219h1v1h-1zM518 219h1v1h-1zM529 219h1v1h-1zM159 220h1v1h-1zM176 220h1v1h-1zM236 220h1v1h-1zM263 220h1v1h-1zM372 220h1v1h-1zM505 220h1v1h-1zM517 220h1v1h-1zM529 220h1v1h-1zM159 221h1v1h-1zM176 221h1v1h-1zM236 221h1v1h-1zM263 221h1v1h-1zM371 221h1v1h-1zM506 221h1v1h-1zM517 221h1v1h-1zM529 221h1v1h-1zM158 222h1v1h-1zM177 222h1v1h-1zM236 222h1v1h-1zM263 222h1v1h-1zM371 222h1v1h-1zM506 222h1v1h-1zM516 222h1v1h-1zM529 222h1v1h-1zM158 223h1v1h-1zM177 223h1v1h-1zM235 223h1v1h-1zM264 223h1v1h-1zM371 223h1v1h-1zM507 223h1v1h-1zM516 223h1v1h-1zM530 223h1v1h-1zM158 224h1v1h-1zM177 224h1v1h-1zM235 224h1v1h-1zM264 224h1v1h-1zM370 224h1v1h-1zM507 224h1v1h-1zM515 224h1v1h-1zM530 224h1v1h-1zM157 225h1v1h-1zM178 225h1v1h-1zM235 225h1v1h-1zM264 225h1v1h-1zM370 225h1v1h-1zM507 225h1v1h-1zM514 225h1v1h-1zM530 225h1v1h-1zM157 226h1v1h-1zM178 226h1v1h-1zM235 226h1v1h-1zM264 226h1v1h-1zM370 226h1v1h-1zM508 226h1v1h-1zM513 226h1v1h-1zM530 226h1v1h-1zM157 227h1v1h-1zM178 227h1v1h-1zM234 227h1v1h-1zM265 227h1v1h-1zM369 227h1v1h-1zM508 227h5v1h-5zM531 227h1v1h-1zM156 228h1v1h-1zM178 228h1v1h-1zM234 228h1v1h-1zM265 228h1v1h-1zM369 228h1v1h-1zM531 228h1v1h-1zM156 229h1v1h-1zM179 229h1v1h-1zM234 229h1v1h-1zM265 229h1v1h-1zM369 229h1v1h-1zM531 229h1v1h-1zM156 230h1v1h-1zM179 230h1v1h-1zM234 230h1v1h-1zM266 230h1v1h-1zM368 230h1v1h-1zM531 230h1v1h-1zM155 231h1v1h-1zM179 231h1v1h-1zM233 231h1v1h-1zM266 231h1v1h-1zM368 231h1v1h-1zM532 231h1v1h-1zM155 232h1v1h-1zM180 232h1v1h-1zM233 232h1v1h-1zM266 232h1v1h-1zM368 232h1v1h-1zM532 232h1v1h-1zM155 233h1v1h-1zM180 233h1v1h-1zM233 233h1v1h-1zM266 233h1v1h-1zM367 233h1v1h-1zM532 233h1v1h-1zM154 234h1v1h-1zM180 234h1v1h-1zM233 234h1v1h-1zM267 234h1v1h-1zM367 234h1v1h-1zM532 234h1v1h-1zM154 235h1v1h-1zM181 235h1v1h-1zM232 235h1v1h-1zM267 235h1v1h-1zM366 235h1v1h-1zM532 235h1v1h-1zM154 236h1v1h-1zM181 236h1v1h-1zM232 236h1v1h-1zM267 236h1v1h-1zM366 236h1v1h-1zM533 236h1v1h-1zM153 237h1v1h-1zM181 237h1v1h-1zM232 237h1v1h-1zM268 237h1v1h-1zM365 237h1v1h-1zM533 237h1v1h-1zM153 238h1v1h-1zM182 238h1v1h-1zM232 238h1v1h-1zM268 238h1v1h-1zM365 238h1v1h-1zM533 238h1v1h-1zM153 239h1v1h-1zM182 239h1v1h-1zM231 239h1v1h-1zM269 239h1v1h-1zM364 239h1v1h-1zM533 239h1v1h-1zM152 240h1v1h-1zM182 240h1v1h-1zM231 240h1v1h-1zM269 240h1v1h-1zM364 240h1v1h-1zM533 240h1v1h-1zM152 241h1v1h-1zM182 241h1v1h-1zM231 241h1v1h-1zM270 241h1v1h-1zM363 241h1v1h-1zM533 241h1v1h-1zM152 242h1v1h-1zM183 242h1v1h-1zM231 242h1v1h-1zM270 242h1v1h-1zM363 242h1v1h-1zM534 242h1v1h-1zM151 243h1v1h-1zM183 243h1v1h-1zM230 243h1v1h-1zM271 243h1v1h-1zM362 243h1v1h-1zM534 243h1v1h-1zM151 244h1v1h-1zM183 244h1v1h-1zM230 244h1v1h-1zM271 244h1v1h-1zM362 244h1v1h-1zM534 244h1v1h-1zM151 245h1v1h-1zM184 245h1v1h-1zM230 245h1v1h-1zM272 245h1v1h-1zM361 245h1v1h-1zM534 245h1v1h-1zM150 246h1v1h-1zM184 246h1v1h-1zM230 246h1v1h-1zM272 246h1v1h-1zM361 246h1v1h-1zM534 246h1v1h-1zM150 247h1v1h-1zM184 247h1v1h-1zM230 247h1v1h-1zM272 247h1v1h-1zM360 247h1v1h-1zM535 247h1v1h-1zM149 248h1v1h-1zM185 248h1v1h-1zM229 248h1v1h-1zM273 248h1v1h-1zM359 248h1v1h-1zM535 248h1v1h-1zM149 249h1v1h-1zM185 249h1v1h-1zM229 249h1v1h-1zM273 249h1v1h-1zM359 249h1v1h-1zM535 249h1v1h-1zM149 250h1v1h-1zM186 250h1v1h-1zM229 250h1v1h-1zM273 250h1v1h-1zM358 250h1v1h-1zM535 250h1v1h-1zM148 251h1v1h-1zM186 251h1v1h-1zM229 251h1v1h-1zM274 251h1v1h-1zM357 251h1v1h-1zM535 251h1v1h-1zM148 252h1v1h-1zM187 252h1v1h-1zM228 252h1v1h-1zM274 252h1v1h-1zM357 252h1v1h-1zM535 252h1v1h-1zM147 253h1v1h-1zM187 253h1v1h-1zM228 253h1v1h-1zM274 253h1v1h-1zM356 253h1v1h-1zM536 253h1v1h-1zM147 254h1v1h-1zM188 254h1v1h-1zM228 254h1v1h-1zM274 254h1v1h-1zM354 254h2v1h-2zM536 254h1v1h-1zM146 255h1v1h-1zM188 255h1v1h-1zM228 255h1v1h-1zM275 255h1v1h-1zM353 255h1v1h-1zM536 255h1v1h-1zM146 256h1v1h-1zM189 256h1v1h-1zM227 256h1v1h-1zM275 256h1v1h-1zM352 256h1v1h-1zM536 256h1v1h-1zM145 257h1v1h-1zM189 257h1v1h-1zM227 257h1v1h-1zM275 257h1v1h-1zM351 257h1v1h-1zM536 257h1v1h-1zM145 258h1v1h-1zM190 258h1v1h-1zM227 258h1v1h-1zM276 258h1v1h-1zM350 258h1v1h-1zM536 258h1v1h-1zM144 259h1v1h-1zM190 259h1v1h-1zM227 259h1v1h-1zM276 259h1v1h-1zM349 259h1v1h-1zM537 259h1v1h-1zM143 260h1v1h-1zM191 260h1v1h-1zM226 260h1v1h-1zM276 260h1v1h-1zM348 260h1v1h-1zM537 260h1v1h-1zM142 261h1v1h-1zM191 261h1v1h-1zM226 261h1v1h-1zM276 261h1v1h-1zM346 261h2v1h-2zM537 261h1v1h-1zM142 262h1v1h-1zM192 262h1v1h-1zM226 262h1v1h-1zM277 262h1v1h-1zM345 262h1v1h-1zM537 262h1v1h-1zM141 263h1v1h-1zM193 263h1v1h-1zM199 263h2v1h-2zM226 263h1v1h-1zM277 263h1v1h-1zM344 263h1v1h-1zM537 263h1v1h-1zM140 264h1v1h-1zM194 264h2v1h-2zM197 264h2v1h-2zM201 264h2v1h-2zM225 264h1v1h-1zM277 264h1v1h-1zM343 264h1v1h-1zM537 264h1v1h-1zM140 265h1v1h-1zM196 265h1v1h-1zM203 265h2v1h-2zM225 265h1v1h-1zM277 265h1v1h-1zM343 265h1v1h-1zM537 265h1v1h-1zM139 266h1v1h-1zM205 266h1v1h-1zM225 266h1v1h-1zM278 266h1v1h-1zM342 266h1v1h-1zM538 266h1v1h-1zM139 267h1v1h-1zM205 267h1v1h-1zM225 267h1v1h-1zM278 267h1v1h-1zM341 267h1v1h-1zM538 267h1v1h-1zM138 268h1v1h-1zM206 268h1v1h-1zM224 268h1v1h-1zM278 268h1v1h-1zM341 268h1v1h-1zM538 268h1v1h-1zM138 269h1v1h-1zM207 269h1v1h-1zM224 269h1v1h-1zM278 269h1v1h-1zM338 269h3v1h-3zM538 269h1v1h-1zM137 270h1v1h-1zM207 270h1v1h-1zM224 270h1v1h-1zM278 270h1v1h-1zM335 270h3v1h-3zM538 270h1v1h-1zM137 271h1v1h-1zM208 271h1v1h-1zM223 271h1v1h-1zM279 271h1v1h-1zM333 271h2v1h-2zM538 271h1v1h-1zM1152 271h1v1h-1zM136 272h1v1h-1zM209 272h1v1h-1zM223 272h1v1h-1zM279 272h1v1h-1zM332 272h1v1h-1zM538 272h1v1h-1zM1151 272h2v1h-2zM136 273h1v1h-1zM210 273h1v1h-1zM222 273h1v1h-1zM279 273h1v1h-1zM332 273h1v1h-1zM539 273h1v1h-1zM1150 273h1v1h-1zM1153 273h1v1h-1zM136 274h1v1h-1zM211 274h1v1h-1zM222 274h1v1h-1zM279 274h1v1h-1zM331 274h1v1h-1zM539 274h1v1h-1zM1150 274h1v1h-1zM1153 274h1v1h-1zM135 275h1v1h-1zM212 275h2v1h-2zM221 275h1v1h-1zM280 275h1v1h-1zM331 275h1v1h-1zM539 275h1v1h-1zM1149 275h1v1h-1zM1154 275h1v1h-1zM135 276h1v1h-1zM214 276h3v1h-3zM221 276h1v1h-1zM280 276h1v1h-1zM330 276h1v1h-1zM539 276h1v1h-1zM1148 276h1v1h-1zM1154 276h1v1h-1zM135 277h1v1h-1zM217 277h2v1h-2zM220 277h1v1h-1zM280 277h1v1h-1zM330 277h1v1h-1zM539 277h1v1h-1zM588 277h1v1h-1zM1146 277h2v1h-2zM1154 277h1v1h-1zM134 278h1v1h-1zM219 278h2v1h-2zM280 278h1v1h-1zM329 278h1v1h-1zM539 278h1v1h-1zM586 278h3v1h-3zM1145 278h1v1h-1zM1155 278h1v1h-1zM134 279h1v1h-1zM281 279h1v1h-1zM329 279h1v1h-1zM539 279h1v1h-1zM585 279h1v1h-1zM588 279h1v1h-1zM1144 279h1v1h-1zM1155 279h1v1h-1zM133 280h1v1h-1zM281 280h1v1h-1zM328 280h1v1h-1zM540 280h1v1h-1zM584 280h1v1h-1zM588 280h1v1h-1zM1143 280h1v1h-1zM1156 280h1v1h-1zM133 281h1v1h-1zM281 281h1v1h-1zM327 281h1v1h-1zM540 281h1v1h-1zM584 281h1v1h-1zM589 281h1v1h-1zM1142 281h1v1h-1zM1156 281h1v1h-1zM133 282h1v1h-1zM281 282h1v1h-1zM327 282h1v1h-1zM540 282h1v1h-1zM583 282h1v1h-1zM589 282h1v1h-1zM1142 282h1v1h-1zM1156 282h1v1h-1zM132 283h1v1h-1zM282 283h1v1h-1zM326 283h1v1h-1zM540 283h1v1h-1zM583 283h1v1h-1zM589 283h1v1h-1zM1141 283h1v1h-1zM1156 283h1v1h-1zM132 284h1v1h-1zM282 284h1v1h-1zM326 284h1v1h-1zM540 284h1v1h-1zM582 284h1v1h-1zM589 284h1v1h-1zM1140 284h1v1h-1zM1157 284h1v1h-1zM132 285h1v1h-1zM282 285h1v1h-1zM325 285h1v1h-1zM540 285h1v1h-1zM582 285h1v1h-1zM589 285h1v1h-1zM1140 285h1v1h-1zM1157 285h1v1h-1zM132 286h1v1h-1zM283 286h1v1h-1zM325 286h1v1h-1zM540 286h1v1h-1zM581 286h1v1h-1zM589 286h1v1h-1zM1139 286h1v1h-1zM1157 286h1v1h-1zM131 287h1v1h-1zM283 287h1v1h-1zM324 287h1v1h-1zM541 287h1v1h-1zM581 287h1v1h-1zM589 287h1v1h-1zM1139 287h1v1h-1zM1157 287h1v1h-1zM131 288h1v1h-1zM283 288h1v1h-1zM322 288h2v1h-2zM541 288h1v1h-1zM580 288h1v1h-1zM589 288h1v1h-1zM1139 288h1v1h-1zM1157 288h1v1h-1zM131 289h1v1h-1zM283 289h1v1h-1zM321 289h1v1h-1zM541 289h1v1h-1zM580 289h1v1h-1zM590 289h1v1h-1zM994 289h3v1h-3zM1139 289h1v1h-1zM1157 289h1v1h-1zM131 290h1v1h-1zM284 290h1v1h-1zM320 290h1v1h-1zM541 290h1v1h-1zM580 290h1v1h-1zM590 290h1v1h-1zM992 290h2v1h-2zM996 290h1v1h-1zM1138 290h1v1h-1zM1158 290h1v1h-1zM130 291h1v1h-1zM284 291h1v1h-1zM319 291h1v1h-1zM541 291h1v1h-1zM579 291h1v1h-1zM590 291h1v1h-1zM991 291h1v1h-1zM996 291h1v1h-1zM1138 291h1v1h-1zM1158 291h1v1h-1zM130 292h1v1h-1zM284 292h1v1h-1zM319 292h1v1h-1zM541 292h1v1h-1zM579 292h1v1h-1zM590 292h1v1h-1zM991 292h1v1h-1zM997 292h1v1h-1zM1138 292h1v1h-1zM1158 292h1v1h-1zM130 293h1v1h-1zM285 293h1v1h-1zM318 293h1v1h-1zM542 293h1v1h-1zM578 293h1v1h-1zM590 293h1v1h-1zM990 293h1v1h-1zM997 293h1v1h-1zM1137 293h1v1h-1zM1158 293h1v1h-1zM130 294h1v1h-1zM285 294h1v1h-1zM318 294h1v1h-1zM542 294h1v1h-1zM578 294h1v1h-1zM590 294h1v1h-1zM989 294h1v1h-1zM997 294h1v1h-1zM1137 294h1v1h-1zM1158 294h1v1h-1zM129 295h1v1h-1zM285 295h1v1h-1zM317 295h1v1h-1zM542 295h1v1h-1zM578 295h1v1h-1zM590 295h1v1h-1zM956 295h1v1h-1zM989 295h1v1h-1zM997 295h1v1h-1zM1137 295h1v1h-1zM1158 295h1v1h-1zM83 296h2v1h-2zM129 296h1v1h-1zM286 296h1v1h-1zM317 296h1v1h-1zM542 296h1v1h-1zM577 296h1v1h-1zM590 296h1v1h-1zM956 296h2v1h-2zM988 296h1v1h-1zM998 296h1v1h-1zM1137 296h1v1h-1zM1159 296h1v1h-1zM81 297h2v1h-2zM85 297h2v1h-2zM129 297h1v1h-1zM286 297h1v1h-1zM316 297h1v1h-1zM542 297h1v1h-1zM577 297h1v1h-1zM591 297h1v1h-1zM955 297h1v1h-1zM958 297h1v1h-1zM987 297h1v1h-1zM998 297h1v1h-1zM1136 297h1v1h-1zM1159 297h1v1h-1zM80 298h1v1h-1zM87 298h2v1h-2zM129 298h1v1h-1zM287 298h1v1h-1zM316 298h1v1h-1zM542 298h1v1h-1zM576 298h1v1h-1zM591 298h1v1h-1zM955 298h1v1h-1zM958 298h1v1h-1zM963 298h2v1h-2zM987 298h1v1h-1zM998 298h1v1h-1zM1136 298h1v1h-1zM1159 298h1v1h-1zM80 299h1v1h-1zM89 299h1v1h-1zM128 299h1v1h-1zM287 299h1v1h-1zM315 299h1v1h-1zM542 299h1v1h-1zM576 299h1v1h-1zM591 299h1v1h-1zM954 299h1v1h-1zM959 299h1v1h-1zM961 299h2v1h-2zM965 299h1v1h-1zM986 299h1v1h-1zM998 299h1v1h-1zM1136 299h1v1h-1zM1159 299h1v1h-1zM79 300h1v1h-1zM90 300h2v1h-2zM128 300h1v1h-1zM287 300h1v1h-1zM315 300h1v1h-1zM543 300h1v1h-1zM576 300h1v1h-1zM591 300h1v1h-1zM954 300h1v1h-1zM960 300h1v1h-1zM965 300h1v1h-1zM985 300h1v1h-1zM998 300h1v1h-1zM1135 300h1v1h-1zM1159 300h1v1h-1zM79 301h1v1h-1zM92 301h1v1h-1zM126 301h2v1h-2zM288 301h1v1h-1zM314 301h1v1h-1zM543 301h1v1h-1zM576 301h1v1h-1zM591 301h1v1h-1zM954 301h1v1h-1zM966 301h1v1h-1zM985 301h1v1h-1zM999 301h1v1h-1zM1135 301h1v1h-1zM1159 301h1v1h-1zM79 302h1v1h-1zM93 302h1v1h-1zM125 302h1v1h-1zM288 302h1v1h-1zM314 302h1v1h-1zM543 302h1v1h-1zM575 302h1v1h-1zM591 302h1v1h-1zM953 302h1v1h-1zM966 302h1v1h-1zM984 302h1v1h-1zM999 302h1v1h-1zM1135 302h1v1h-1zM1160 302h1v1h-1zM78 303h1v1h-1zM93 303h1v1h-1zM124 303h1v1h-1zM288 303h1v1h-1zM313 303h1v1h-1zM543 303h1v1h-1zM575 303h1v1h-1zM591 303h1v1h-1zM953 303h1v1h-1zM967 303h1v1h-1zM983 303h1v1h-1zM999 303h1v1h-1zM1088 303h1v1h-1zM1134 303h1v1h-1zM1160 303h1v1h-1zM78 304h1v1h-1zM94 304h1v1h-1zM123 304h1v1h-1zM289 304h1v1h-1zM313 304h1v1h-1zM543 304h1v1h-1zM575 304h1v1h-1zM591 304h1v1h-1zM952 304h1v1h-1zM967 304h1v1h-1zM982 304h1v1h-1zM999 304h1v1h-1zM1086 304h3v1h-3zM1134 304h1v1h-1zM1160 304h1v1h-1zM78 305h1v1h-1zM94 305h1v1h-1zM122 305h1v1h-1zM289 305h1v1h-1zM312 305h1v1h-1zM543 305h1v1h-1zM575 305h1v1h-1zM592 305h1v1h-1zM952 305h1v1h-1zM968 305h1v1h-1zM981 305h1v1h-1zM1000 305h1v1h-1zM1085 305h1v1h-1zM1089 305h1v1h-1zM1134 305h1v1h-1zM1160 305h1v1h-1zM78 306h1v1h-1zM95 306h1v1h-1zM122 306h1v1h-1zM289 306h1v1h-1zM312 306h1v1h-1zM544 306h1v1h-1zM574 306h1v1h-1zM592 306h1v1h-1zM952 306h1v1h-1zM969 306h1v1h-1zM980 306h1v1h-1zM1000 306h1v1h-1zM1084 306h1v1h-1zM1089 306h1v1h-1zM1133 306h1v1h-1zM1160 306h1v1h-1zM77 307h1v1h-1zM95 307h1v1h-1zM121 307h1v1h-1zM289 307h1v1h-1zM311 307h1v1h-1zM544 307h1v1h-1zM574 307h1v1h-1zM592 307h1v1h-1zM951 307h1v1h-1zM970 307h1v1h-1zM979 307h1v1h-1zM1000 307h1v1h-1zM1083 307h1v1h-1zM1090 307h1v1h-1zM1133 307h1v1h-1zM1161 307h1v1h-1zM77 308h1v1h-1zM96 308h1v1h-1zM120 308h1v1h-1zM290 308h1v1h-1zM311 308h1v1h-1zM544 308h1v1h-1zM574 308h1v1h-1zM592 308h1v1h-1zM951 308h1v1h-1zM971 308h1v1h-1zM978 308h1v1h-1zM1000 308h1v1h-1zM1082 308h1v1h-1zM1090 308h1v1h-1zM1133 308h1v1h-1zM1161 308h1v1h-1zM77 309h1v1h-1zM96 309h1v1h-1zM119 309h1v1h-1zM290 309h1v1h-1zM310 309h1v1h-1zM544 309h1v1h-1zM574 309h1v1h-1zM592 309h1v1h-1zM950 309h1v1h-1zM972 309h2v1h-2zM977 309h1v1h-1zM1000 309h1v1h-1zM1081 309h1v1h-1zM1090 309h1v1h-1zM1132 309h1v1h-1zM1161 309h1v1h-1zM76 310h1v1h-1zM96 310h1v1h-1zM119 310h1v1h-1zM290 310h1v1h-1zM310 310h1v1h-1zM544 310h1v1h-1zM573 310h1v1h-1zM592 310h1v1h-1zM950 310h1v1h-1zM974 310h3v1h-3zM1001 310h1v1h-1zM1080 310h1v1h-1zM1091 310h1v1h-1zM1132 310h1v1h-1zM1161 310h1v1h-1zM76 311h1v1h-1zM97 311h1v1h-1zM118 311h1v1h-1zM290 311h1v1h-1zM309 311h1v1h-1zM544 311h1v1h-1zM573 311h1v1h-1zM592 311h1v1h-1zM949 311h1v1h-1zM1001 311h1v1h-1zM1080 311h1v1h-1zM1091 311h1v1h-1zM1132 311h1v1h-1zM1162 311h1v1h-1zM76 312h1v1h-1zM97 312h1v1h-1zM118 312h1v1h-1zM291 312h1v1h-1zM309 312h1v1h-1zM545 312h1v1h-1zM573 312h1v1h-1zM592 312h1v1h-1zM949 312h1v1h-1zM1001 312h1v1h-1zM1080 312h1v1h-1zM1092 312h1v1h-1zM1131 312h1v1h-1zM1162 312h1v1h-1zM76 313h1v1h-1zM97 313h1v1h-1zM117 313h1v1h-1zM291 313h1v1h-1zM308 313h1v1h-1zM545 313h1v1h-1zM573 313h1v1h-1zM593 313h1v1h-1zM948 313h1v1h-1zM1001 313h1v1h-1zM1079 313h1v1h-1zM1092 313h1v1h-1zM1131 313h1v1h-1zM1162 313h1v1h-1zM75 314h1v1h-1zM98 314h1v1h-1zM117 314h1v1h-1zM291 314h1v1h-1zM306 314h2v1h-2zM545 314h1v1h-1zM572 314h1v1h-1zM593 314h1v1h-1zM948 314h1v1h-1zM1001 314h1v1h-1zM1040 314h1v1h-1zM1079 314h1v1h-1zM1092 314h1v1h-1zM1131 314h1v1h-1zM1162 314h1v1h-1zM75 315h1v1h-1zM98 315h1v1h-1zM108 315h1v1h-1zM116 315h1v1h-1zM291 315h1v1h-1zM305 315h1v1h-1zM545 315h1v1h-1zM572 315h1v1h-1zM593 315h1v1h-1zM948 315h1v1h-1zM1002 315h1v1h-1zM1039 315h1v1h-1zM1041 315h1v1h-1zM1079 315h1v1h-1zM1093 315h1v1h-1zM1130 315h1v1h-1zM1163 315h1v1h-1zM75 316h1v1h-1zM99 316h1v1h-1zM107 316h1v1h-1zM109 316h1v1h-1zM114 316h2v1h-2zM292 316h1v1h-1zM303 316h2v1h-2zM545 316h1v1h-1zM572 316h1v1h-1zM593 316h1v1h-1zM947 316h1v1h-1zM1002 316h1v1h-1zM1039 316h1v1h-1zM1042 316h2v1h-2zM1079 316h1v1h-1zM1093 316h1v1h-1zM1130 316h1v1h-1zM1163 316h1v1h-1zM75 317h1v1h-1zM99 317h1v1h-1zM107 317h1v1h-1zM110 317h2v1h-2zM113 317h1v1h-1zM292 317h1v1h-1zM301 317h2v1h-2zM545 317h1v1h-1zM572 317h1v1h-1zM593 317h1v1h-1zM947 317h1v1h-1zM1002 317h1v1h-1zM1038 317h1v1h-1zM1044 317h1v1h-1zM1079 317h1v1h-1zM1093 317h1v1h-1zM1130 317h1v1h-1zM1163 317h1v1h-1zM75 318h1v1h-1zM99 318h1v1h-1zM106 318h1v1h-1zM112 318h1v1h-1zM293 318h1v1h-1zM300 318h1v1h-1zM546 318h1v1h-1zM571 318h1v1h-1zM593 318h1v1h-1zM946 318h1v1h-1zM1002 318h1v1h-1zM1037 318h1v1h-1zM1044 318h1v1h-1zM1078 318h1v1h-1zM1093 318h1v1h-1zM1130 318h1v1h-1zM1163 318h1v1h-1zM74 319h1v1h-1zM100 319h1v1h-1zM106 319h1v1h-1zM294 319h1v1h-1zM299 319h1v1h-1zM546 319h1v1h-1zM571 319h1v1h-1zM593 319h1v1h-1zM946 319h1v1h-1zM1002 319h1v1h-1zM1037 319h1v1h-1zM1045 319h1v1h-1zM1078 319h1v1h-1zM1094 319h1v1h-1zM1129 319h1v1h-1zM1164 319h1v1h-1zM74 320h1v1h-1zM100 320h1v1h-1zM105 320h1v1h-1zM294 320h1v1h-1zM298 320h1v1h-1zM546 320h1v1h-1zM571 320h1v1h-1zM593 320h1v1h-1zM945 320h1v1h-1zM1002 320h1v1h-1zM1036 320h1v1h-1zM1045 320h1v1h-1zM1078 320h1v1h-1zM1094 320h1v1h-1zM1129 320h1v1h-1zM1164 320h1v1h-1zM74 321h1v1h-1zM101 321h2v1h-2zM105 321h1v1h-1zM295 321h1v1h-1zM297 321h1v1h-1zM546 321h1v1h-1zM571 321h1v1h-1zM593 321h1v1h-1zM945 321h1v1h-1zM1003 321h1v1h-1zM1036 321h1v1h-1zM1045 321h1v1h-1zM1078 321h1v1h-1zM1094 321h1v1h-1zM1129 321h1v1h-1zM1164 321h1v1h-1zM74 322h1v1h-1zM103 322h2v1h-2zM296 322h1v1h-1zM546 322h1v1h-1zM571 322h1v1h-1zM594 322h1v1h-1zM944 322h1v1h-1zM1003 322h1v1h-1zM1035 322h1v1h-1zM1045 322h1v1h-1zM1078 322h1v1h-1zM1094 322h1v1h-1zM1128 322h1v1h-1zM1164 322h1v1h-1zM74 323h1v1h-1zM546 323h1v1h-1zM571 323h1v1h-1zM594 323h1v1h-1zM944 323h1v1h-1zM1003 323h1v1h-1zM1035 323h1v1h-1zM1046 323h1v1h-1zM1077 323h1v1h-1zM1095 323h1v1h-1zM1128 323h1v1h-1zM1164 323h1v1h-1zM74 324h1v1h-1zM547 324h1v1h-1zM570 324h1v1h-1zM594 324h1v1h-1zM943 324h1v1h-1zM1003 324h1v1h-1zM1035 324h1v1h-1zM1046 324h1v1h-1zM1077 324h1v1h-1zM1095 324h1v1h-1zM1128 324h1v1h-1zM1165 324h1v1h-1zM73 325h1v1h-1zM547 325h1v1h-1zM570 325h1v1h-1zM594 325h1v1h-1zM908 325h5v1h-5zM942 325h1v1h-1zM1003 325h1v1h-1zM1034 325h1v1h-1zM1046 325h1v1h-1zM1077 325h1v1h-1zM1095 325h1v1h-1zM1128 325h1v1h-1zM1165 325h1v1h-1zM73 326h1v1h-1zM547 326h1v1h-1zM570 326h1v1h-1zM594 326h1v1h-1zM906 326h2v1h-2zM913 326h1v1h-1zM941 326h1v1h-1zM1004 326h1v1h-1zM1034 326h1v1h-1zM1047 326h1v1h-1zM1077 326h1v1h-1zM1095 326h1v1h-1zM1127 326h1v1h-1zM1165 326h1v1h-1zM73 327h1v1h-1zM547 327h1v1h-1zM570 327h1v1h-1zM594 327h1v1h-1zM905 327h1v1h-1zM913 327h1v1h-1zM940 327h1v1h-1zM1004 327h1v1h-1zM1034 327h1v1h-1zM1047 327h1v1h-1zM1077 327h1v1h-1zM1096 327h1v1h-1zM1127 327h1v1h-1zM1165 327h1v1h-1zM73 328h1v1h-1zM547 328h1v1h-1zM570 328h1v1h-1zM594 328h1v1h-1zM904 328h1v1h-1zM914 328h1v1h-1zM940 328h1v1h-1zM1004 328h1v1h-1zM1033 328h1v1h-1zM1047 328h1v1h-1zM1076 328h1v1h-1zM1096 328h1v1h-1zM1127 328h1v1h-1zM1165 328h1v1h-1zM73 329h1v1h-1zM547 329h1v1h-1zM570 329h1v1h-1zM594 329h1v1h-1zM903 329h1v1h-1zM915 329h1v1h-1zM940 329h1v1h-1zM1004 329h1v1h-1zM1033 329h1v1h-1zM1047 329h1v1h-1zM1076 329h1v1h-1zM1096 329h1v1h-1zM1127 329h1v1h-1zM1166 329h1v1h-1zM72 330h1v1h-1zM548 330h1v1h-1zM569 330h1v1h-1zM594 330h1v1h-1zM902 330h1v1h-1zM915 330h1v1h-1zM939 330h1v1h-1zM1004 330h1v1h-1zM1033 330h1v1h-1zM1048 330h1v1h-1zM1076 330h1v1h-1zM1097 330h1v1h-1zM1126 330h1v1h-1zM1166 330h1v1h-1zM72 331h1v1h-1zM548 331h1v1h-1zM569 331h1v1h-1zM595 331h1v1h-1zM902 331h1v1h-1zM916 331h1v1h-1zM939 331h1v1h-1zM1005 331h1v1h-1zM1032 331h1v1h-1zM1048 331h1v1h-1zM1076 331h1v1h-1zM1097 331h1v1h-1zM1126 331h1v1h-1zM1166 331h1v1h-1zM72 332h1v1h-1zM548 332h1v1h-1zM569 332h1v1h-1zM595 332h1v1h-1zM901 332h1v1h-1zM916 332h1v1h-1zM939 332h1v1h-1zM1005 332h1v1h-1zM1032 332h1v1h-1zM1048 332h1v1h-1zM1076 332h1v1h-1zM1097 332h1v1h-1zM1126 332h1v1h-1zM1166 332h1v1h-1zM72 333h1v1h-1zM548 333h1v1h-1zM569 333h1v1h-1zM595 333h1v1h-1zM730 333h7v1h-7zM900 333h1v1h-1zM917 333h1v1h-1zM939 333h1v1h-1zM1005 333h1v1h-1zM1032 333h1v1h-1zM1049 333h1v1h-1zM1075 333h1v1h-1zM1097 333h1v1h-1zM1126 333h1v1h-1zM1166 333h1v1h-1zM72 334h1v1h-1zM548 334h1v1h-1zM569 334h1v1h-1zM595 334h1v1h-1zM660 334h1v1h-1zM728 334h2v1h-2zM736 334h1v1h-1zM900 334h1v1h-1zM917 334h1v1h-1zM939 334h1v1h-1zM1005 334h1v1h-1zM1031 334h1v1h-1zM1049 334h1v1h-1zM1075 334h1v1h-1zM1098 334h1v1h-1zM1125 334h1v1h-1zM1167 334h1v1h-1zM72 335h1v1h-1zM549 335h1v1h-1zM569 335h1v1h-1zM595 335h1v1h-1zM659 335h1v1h-1zM661 335h1v1h-1zM728 335h1v1h-1zM736 335h1v1h-1zM899 335h1v1h-1zM917 335h1v1h-1zM938 335h1v1h-1zM1005 335h1v1h-1zM1031 335h1v1h-1zM1049 335h1v1h-1zM1075 335h1v1h-1zM1098 335h1v1h-1zM1125 335h1v1h-1zM1167 335h1v1h-1zM71 336h1v1h-1zM549 336h1v1h-1zM568 336h1v1h-1zM595 336h1v1h-1zM659 336h1v1h-1zM661 336h1v1h-1zM727 336h1v1h-1zM737 336h1v1h-1zM899 336h1v1h-1zM917 336h1v1h-1zM938 336h1v1h-1zM1006 336h1v1h-1zM1031 336h1v1h-1zM1049 336h1v1h-1zM1075 336h1v1h-1zM1098 336h1v1h-1zM1125 336h1v1h-1zM1167 336h1v1h-1zM71 337h1v1h-1zM549 337h1v1h-1zM568 337h1v1h-1zM595 337h1v1h-1zM658 337h1v1h-1zM662 337h1v1h-1zM727 337h1v1h-1zM737 337h1v1h-1zM899 337h1v1h-1zM918 337h1v1h-1zM938 337h1v1h-1zM1006 337h1v1h-1zM1031 337h1v1h-1zM1050 337h1v1h-1zM1075 337h1v1h-1zM1099 337h1v1h-1zM1125 337h1v1h-1zM1167 337h1v1h-1zM71 338h1v1h-1zM549 338h1v1h-1zM568 338h1v1h-1zM595 338h1v1h-1zM658 338h1v1h-1zM663 338h1v1h-1zM726 338h1v1h-1zM737 338h1v1h-1zM898 338h1v1h-1zM918 338h1v1h-1zM938 338h1v1h-1zM1006 338h1v1h-1zM1030 338h1v1h-1zM1050 338h1v1h-1zM1074 338h1v1h-1zM1099 338h1v1h-1zM1124 338h1v1h-1zM1167 338h1v1h-1zM71 339h1v1h-1zM549 339h1v1h-1zM568 339h1v1h-1zM595 339h1v1h-1zM657 339h1v1h-1zM663 339h1v1h-1zM726 339h1v1h-1zM737 339h1v1h-1zM898 339h1v1h-1zM918 339h1v1h-1zM937 339h1v1h-1zM1006 339h1v1h-1zM1030 339h1v1h-1zM1050 339h1v1h-1zM1074 339h1v1h-1zM1099 339h1v1h-1zM1124 339h1v1h-1zM1168 339h1v1h-1zM71 340h1v1h-1zM549 340h1v1h-1zM567 340h1v1h-1zM596 340h1v1h-1zM657 340h1v1h-1zM664 340h1v1h-1zM726 340h1v1h-1zM737 340h1v1h-1zM897 340h1v1h-1zM919 340h1v1h-1zM937 340h1v1h-1zM1006 340h1v1h-1zM1030 340h1v1h-1zM1050 340h1v1h-1zM1074 340h1v1h-1zM1099 340h1v1h-1zM1124 340h1v1h-1zM1168 340h1v1h-1zM71 341h1v1h-1zM550 341h1v1h-1zM567 341h1v1h-1zM596 341h1v1h-1zM656 341h1v1h-1zM664 341h1v1h-1zM725 341h1v1h-1zM738 341h1v1h-1zM897 341h1v1h-1zM919 341h1v1h-1zM937 341h1v1h-1zM1006 341h1v1h-1zM1030 341h1v1h-1zM1051 341h1v1h-1zM1074 341h1v1h-1zM1100 341h1v1h-1zM1124 341h1v1h-1zM1168 341h1v1h-1zM70 342h1v1h-1zM550 342h1v1h-1zM567 342h1v1h-1zM596 342h1v1h-1zM656 342h1v1h-1zM665 342h1v1h-1zM725 342h1v1h-1zM738 342h1v1h-1zM897 342h1v1h-1zM919 342h1v1h-1zM937 342h1v1h-1zM1007 342h1v1h-1zM1029 342h1v1h-1zM1051 342h1v1h-1zM1073 342h1v1h-1zM1100 342h1v1h-1zM1123 342h1v1h-1zM1168 342h1v1h-1zM70 343h1v1h-1zM550 343h1v1h-1zM566 343h1v1h-1zM596 343h1v1h-1zM655 343h1v1h-1zM665 343h1v1h-1zM724 343h1v1h-1zM738 343h1v1h-1zM891 343h3v1h-3zM896 343h1v1h-1zM919 343h1v1h-1zM937 343h1v1h-1zM1007 343h1v1h-1zM1029 343h1v1h-1zM1051 343h1v1h-1zM1073 343h1v1h-1zM1100 343h1v1h-1zM1123 343h1v1h-1zM1169 343h1v1h-1zM70 344h1v1h-1zM550 344h1v1h-1zM566 344h1v1h-1zM596 344h1v1h-1zM655 344h1v1h-1zM665 344h1v1h-1zM724 344h1v1h-1zM738 344h1v1h-1zM889 344h2v1h-2zM894 344h3v1h-3zM920 344h1v1h-1zM936 344h1v1h-1zM1007 344h1v1h-1zM1029 344h1v1h-1zM1051 344h1v1h-1zM1073 344h1v1h-1zM1101 344h1v1h-1zM1123 344h1v1h-1zM1169 344h1v1h-1zM70 345h1v1h-1zM550 345h1v1h-1zM566 345h1v1h-1zM596 345h1v1h-1zM655 345h1v1h-1zM666 345h1v1h-1zM724 345h1v1h-1zM738 345h1v1h-1zM884 345h5v1h-5zM920 345h1v1h-1zM936 345h1v1h-1zM1007 345h1v1h-1zM1029 345h1v1h-1zM1052 345h1v1h-1zM1073 345h1v1h-1zM1101 345h1v1h-1zM1122 345h1v1h-1zM1169 345h1v1h-1zM70 346h1v1h-1zM551 346h1v1h-1zM565 346h1v1h-1zM596 346h1v1h-1zM654 346h1v1h-1zM666 346h1v1h-1zM723 346h1v1h-1zM738 346h1v1h-1zM882 346h2v1h-2zM921 346h1v1h-1zM935 346h2v1h-2zM1007 346h1v1h-1zM1028 346h1v1h-1zM1052 346h1v1h-1zM1073 346h1v1h-1zM1102 346h1v1h-1zM1122 346h1v1h-1zM1169 346h1v1h-1zM70 347h1v1h-1zM551 347h1v1h-1zM565 347h1v1h-1zM596 347h1v1h-1zM654 347h1v1h-1zM666 347h1v1h-1zM723 347h1v1h-1zM739 347h1v1h-1zM881 347h1v1h-1zM922 347h2v1h-2zM933 347h2v1h-2zM1008 347h1v1h-1zM1028 347h1v1h-1zM1052 347h1v1h-1zM1072 347h1v1h-1zM1102 347h1v1h-1zM1121 347h1v1h-1zM1170 347h1v1h-1zM69 348h1v1h-1zM551 348h1v1h-1zM565 348h1v1h-1zM596 348h1v1h-1zM653 348h1v1h-1zM666 348h1v1h-1zM723 348h1v1h-1zM739 348h1v1h-1zM880 348h1v1h-1zM924 348h9v1h-9zM1008 348h1v1h-1zM1028 348h1v1h-1zM1052 348h1v1h-1zM1072 348h1v1h-1zM1103 348h1v1h-1zM1121 348h1v1h-1zM1170 348h1v1h-1zM69 349h1v1h-1zM551 349h1v1h-1zM564 349h1v1h-1zM597 349h1v1h-1zM653 349h1v1h-1zM667 349h1v1h-1zM722 349h1v1h-1zM739 349h1v1h-1zM879 349h1v1h-1zM1008 349h1v1h-1zM1028 349h1v1h-1zM1052 349h1v1h-1zM1072 349h1v1h-1zM1103 349h1v1h-1zM1121 349h1v1h-1zM1170 349h1v1h-1zM69 350h1v1h-1zM551 350h1v1h-1zM564 350h1v1h-1zM597 350h1v1h-1zM653 350h1v1h-1zM667 350h1v1h-1zM722 350h1v1h-1zM739 350h1v1h-1zM878 350h1v1h-1zM1008 350h1v1h-1zM1027 350h1v1h-1zM1053 350h1v1h-1zM1072 350h1v1h-1zM1104 350h1v1h-1zM1120 350h1v1h-1zM1170 350h1v1h-1zM69 351h1v1h-1zM551 351h1v1h-1zM564 351h1v1h-1zM597 351h1v1h-1zM652 351h1v1h-1zM667 351h1v1h-1zM722 351h1v1h-1zM739 351h1v1h-1zM878 351h1v1h-1zM1008 351h1v1h-1zM1027 351h1v1h-1zM1053 351h1v1h-1zM1072 351h1v1h-1zM1104 351h1v1h-1zM1120 351h1v1h-1zM1171 351h1v1h-1zM69 352h1v1h-1zM552 352h1v1h-1zM563 352h1v1h-1zM597 352h1v1h-1zM652 352h1v1h-1zM668 352h1v1h-1zM721 352h1v1h-1zM740 352h1v1h-1zM877 352h1v1h-1zM1009 352h1v1h-1zM1027 352h1v1h-1zM1053 352h1v1h-1zM1071 352h1v1h-1zM1104 352h1v1h-1zM1118 352h2v1h-2zM1171 352h1v1h-1zM69 353h1v1h-1zM552 353h1v1h-1zM563 353h1v1h-1zM597 353h1v1h-1zM652 353h1v1h-1zM668 353h1v1h-1zM721 353h1v1h-1zM740 353h1v1h-1zM876 353h1v1h-1zM1009 353h1v1h-1zM1027 353h1v1h-1zM1053 353h1v1h-1zM1071 353h1v1h-1zM1105 353h1v1h-1zM1117 353h1v1h-1zM1171 353h1v1h-1zM68 354h1v1h-1zM552 354h1v1h-1zM562 354h1v1h-1zM597 354h1v1h-1zM651 354h1v1h-1zM668 354h1v1h-1zM721 354h1v1h-1zM740 354h1v1h-1zM876 354h1v1h-1zM1009 354h1v1h-1zM1026 354h1v1h-1zM1054 354h1v1h-1zM1071 354h1v1h-1zM1105 354h1v1h-1zM1116 354h1v1h-1zM1171 354h1v1h-1zM68 355h1v1h-1zM553 355h1v1h-1zM562 355h1v1h-1zM597 355h1v1h-1zM651 355h1v1h-1zM668 355h1v1h-1zM720 355h1v1h-1zM740 355h1v1h-1zM875 355h1v1h-1zM1009 355h1v1h-1zM1026 355h1v1h-1zM1054 355h1v1h-1zM1071 355h1v1h-1zM1105 355h1v1h-1zM1116 355h1v1h-1zM1172 355h1v1h-1zM68 356h1v1h-1zM553 356h1v1h-1zM562 356h1v1h-1zM597 356h1v1h-1zM651 356h1v1h-1zM669 356h1v1h-1zM720 356h1v1h-1zM740 356h1v1h-1zM875 356h1v1h-1zM1009 356h1v1h-1zM1026 356h1v1h-1zM1054 356h1v1h-1zM1070 356h1v1h-1zM1106 356h1v1h-1zM1115 356h1v1h-1zM1172 356h1v1h-1zM68 357h1v1h-1zM554 357h1v1h-1zM561 357h1v1h-1zM597 357h1v1h-1zM651 357h1v1h-1zM669 357h1v1h-1zM720 357h1v1h-1zM741 357h1v1h-1zM875 357h1v1h-1zM1010 357h1v1h-1zM1026 357h1v1h-1zM1054 357h1v1h-1zM1070 357h1v1h-1zM1106 357h1v1h-1zM1115 357h1v1h-1zM1172 357h1v1h-1zM68 358h1v1h-1zM554 358h1v1h-1zM561 358h1v1h-1zM597 358h1v1h-1zM650 358h1v1h-1zM669 358h1v1h-1zM720 358h1v1h-1zM741 358h1v1h-1zM874 358h1v1h-1zM1010 358h1v1h-1zM1025 358h1v1h-1zM1054 358h1v1h-1zM1070 358h1v1h-1zM1106 358h1v1h-1zM1114 358h1v1h-1zM1173 358h1v1h-1zM67 359h1v1h-1zM555 359h1v1h-1zM560 359h1v1h-1zM598 359h1v1h-1zM650 359h1v1h-1zM669 359h1v1h-1zM719 359h1v1h-1zM741 359h1v1h-1zM874 359h1v1h-1zM1010 359h1v1h-1zM1025 359h1v1h-1zM1055 359h1v1h-1zM1070 359h1v1h-1zM1107 359h1v1h-1zM1114 359h1v1h-1zM1174 359h1v1h-1zM1180 359h1v1h-1zM67 360h1v1h-1zM555 360h1v1h-1zM558 360h3v1h-3zM598 360h1v1h-1zM650 360h1v1h-1zM670 360h1v1h-1zM719 360h1v1h-1zM741 360h1v1h-1zM874 360h1v1h-1zM1010 360h1v1h-1zM1025 360h1v1h-1zM1055 360h1v1h-1zM1069 360h1v1h-1zM1107 360h1v1h-1zM1113 360h1v1h-1zM1174 360h1v1h-1zM1178 360h2v1h-2zM1181 360h1v1h-1zM67 361h1v1h-1zM556 361h2v1h-2zM598 361h1v1h-1zM649 361h1v1h-1zM670 361h1v1h-1zM719 361h1v1h-1zM742 361h1v1h-1zM873 361h1v1h-1zM1010 361h1v1h-1zM1025 361h1v1h-1zM1055 361h1v1h-1zM1069 361h1v1h-1zM1107 361h1v1h-1zM1113 361h1v1h-1zM1175 361h1v1h-1zM1177 361h1v1h-1zM1182 361h1v1h-1zM67 362h1v1h-1zM598 362h1v1h-1zM649 362h1v1h-1zM670 362h1v1h-1zM719 362h1v1h-1zM742 362h1v1h-1zM873 362h1v1h-1zM1010 362h1v1h-1zM1024 362h1v1h-1zM1055 362h1v1h-1zM1069 362h1v1h-1zM1108 362h1v1h-1zM1110 362h3v1h-3zM1176 362h1v1h-1zM1183 362h1v1h-1zM67 363h1v1h-1zM598 363h1v1h-1zM649 363h1v1h-1zM670 363h1v1h-1zM719 363h1v1h-1zM742 363h1v1h-1zM873 363h1v1h-1zM1011 363h1v1h-1zM1024 363h1v1h-1zM1056 363h1v1h-1zM1069 363h1v1h-1zM1108 363h2v1h-2zM1184 363h1v1h-1zM66 364h1v1h-1zM598 364h1v1h-1zM649 364h1v1h-1zM671 364h1v1h-1zM719 364h1v1h-1zM742 364h1v1h-1zM848 364h1v1h-1zM872 364h1v1h-1zM1011 364h1v1h-1zM1024 364h1v1h-1zM1056 364h1v1h-1zM1068 364h1v1h-1zM1185 364h1v1h-1zM66 365h1v1h-1zM598 365h1v1h-1zM648 365h1v1h-1zM671 365h1v1h-1zM718 365h1v1h-1zM743 365h1v1h-1zM848 365h2v1h-2zM872 365h1v1h-1zM1011 365h1v1h-1zM1023 365h1v1h-1zM1056 365h1v1h-1zM1068 365h1v1h-1zM1186 365h1v1h-1zM66 366h1v1h-1zM598 366h1v1h-1zM648 366h1v1h-1zM671 366h1v1h-1zM718 366h1v1h-1zM743 366h1v1h-1zM847 366h1v1h-1zM849 366h1v1h-1zM872 366h1v1h-1zM1011 366h1v1h-1zM1023 366h1v1h-1zM1056 366h1v1h-1zM1068 366h1v1h-1zM1187 366h1v1h-1zM66 367h1v1h-1zM598 367h1v1h-1zM648 367h1v1h-1zM671 367h1v1h-1zM718 367h1v1h-1zM743 367h1v1h-1zM847 367h1v1h-1zM850 367h1v1h-1zM872 367h1v1h-1zM1011 367h1v1h-1zM1023 367h1v1h-1zM1057 367h1v1h-1zM1068 367h1v1h-1zM1188 367h1v1h-1zM66 368h1v1h-1zM599 368h1v1h-1zM647 368h1v1h-1zM672 368h1v1h-1zM718 368h1v1h-1zM743 368h1v1h-1zM847 368h1v1h-1zM851 368h1v1h-1zM871 368h1v1h-1zM1012 368h1v1h-1zM1022 368h1v1h-1zM1057 368h1v1h-1zM1067 368h1v1h-1zM1189 368h1v1h-1zM65 369h1v1h-1zM599 369h1v1h-1zM647 369h1v1h-1zM672 369h1v1h-1zM718 369h1v1h-1zM744 369h1v1h-1zM846 369h1v1h-1zM851 369h1v1h-1zM871 369h1v1h-1zM1012 369h1v1h-1zM1022 369h1v1h-1zM1057 369h1v1h-1zM1067 369h1v1h-1zM1189 369h1v1h-1zM65 370h1v1h-1zM599 370h1v1h-1zM646 370h1v1h-1zM672 370h1v1h-1zM717 370h1v1h-1zM744 370h1v1h-1zM846 370h1v1h-1zM852 370h1v1h-1zM871 370h1v1h-1zM1012 370h1v1h-1zM1022 370h1v1h-1zM1057 370h1v1h-1zM1066 370h1v1h-1zM1190 370h1v1h-1zM65 371h1v1h-1zM599 371h1v1h-1zM646 371h1v1h-1zM672 371h1v1h-1zM717 371h1v1h-1zM744 371h1v1h-1zM845 371h1v1h-1zM853 371h1v1h-1zM871 371h1v1h-1zM1012 371h1v1h-1zM1021 371h1v1h-1zM1058 371h1v1h-1zM1066 371h1v1h-1zM1190 371h1v1h-1zM65 372h1v1h-1zM599 372h1v1h-1zM646 372h1v1h-1zM673 372h1v1h-1zM717 372h1v1h-1zM744 372h1v1h-1zM845 372h1v1h-1zM854 372h1v1h-1zM870 372h1v1h-1zM1013 372h1v1h-1zM1021 372h1v1h-1zM1058 372h1v1h-1zM1066 372h1v1h-1zM1191 372h1v1h-1zM65 373h1v1h-1zM599 373h1v1h-1zM645 373h1v1h-1zM673 373h1v1h-1zM717 373h1v1h-1zM744 373h1v1h-1zM845 373h1v1h-1zM854 373h1v1h-1zM870 373h1v1h-1zM1013 373h1v1h-1zM1021 373h1v1h-1zM1058 373h1v1h-1zM1065 373h1v1h-1zM1191 373h1v1h-1zM64 374h1v1h-1zM599 374h1v1h-1zM645 374h1v1h-1zM673 374h1v1h-1zM717 374h1v1h-1zM744 374h1v1h-1zM844 374h1v1h-1zM855 374h1v1h-1zM870 374h1v1h-1zM1013 374h1v1h-1zM1020 374h1v1h-1zM1059 374h1v1h-1zM1065 374h1v1h-1zM1192 374h1v1h-1zM64 375h1v1h-1zM599 375h1v1h-1zM644 375h1v1h-1zM673 375h1v1h-1zM717 375h1v1h-1zM744 375h1v1h-1zM844 375h1v1h-1zM856 375h1v1h-1zM870 375h1v1h-1zM1014 375h1v1h-1zM1020 375h1v1h-1zM1059 375h1v1h-1zM1064 375h1v1h-1zM1192 375h1v1h-1zM64 376h1v1h-1zM599 376h1v1h-1zM644 376h1v1h-1zM674 376h1v1h-1zM716 376h1v1h-1zM745 376h1v1h-1zM844 376h1v1h-1zM857 376h1v1h-1zM869 376h1v1h-1zM1014 376h1v1h-1zM1019 376h1v1h-1zM1059 376h1v1h-1zM1064 376h1v1h-1zM1193 376h1v1h-1zM64 377h1v1h-1zM599 377h1v1h-1zM644 377h1v1h-1zM674 377h1v1h-1zM716 377h1v1h-1zM745 377h1v1h-1zM844 377h1v1h-1zM857 377h1v1h-1zM869 377h1v1h-1zM1014 377h1v1h-1zM1019 377h1v1h-1zM1059 377h1v1h-1zM1062 377h2v1h-2zM1193 377h1v1h-1zM4 378h1v1h-1zM64 378h1v1h-1zM600 378h1v1h-1zM644 378h1v1h-1zM674 378h1v1h-1zM716 378h1v1h-1zM745 378h1v1h-1zM843 378h1v1h-1zM858 378h1v1h-1zM869 378h1v1h-1zM1015 378h1v1h-1zM1018 378h1v1h-1zM1060 378h2v1h-2zM1193 378h1v1h-1zM4 379h1v1h-1zM63 379h1v1h-1zM600 379h1v1h-1zM644 379h1v1h-1zM674 379h1v1h-1zM716 379h1v1h-1zM745 379h1v1h-1zM843 379h1v1h-1zM858 379h1v1h-1zM869 379h1v1h-1zM1015 379h1v1h-1zM1018 379h1v1h-1zM1060 379h1v1h-1zM1194 379h1v1h-1zM5 380h1v1h-1zM63 380h1v1h-1zM600 380h1v1h-1zM643 380h1v1h-1zM675 380h1v1h-1zM716 380h1v1h-1zM745 380h1v1h-1zM843 380h1v1h-1zM859 380h1v1h-1zM868 380h1v1h-1zM1015 380h1v1h-1zM1017 380h1v1h-1zM1194 380h1v1h-1zM5 381h1v1h-1zM63 381h1v1h-1zM600 381h1v1h-1zM643 381h1v1h-1zM675 381h1v1h-1zM715 381h1v1h-1zM745 381h1v1h-1zM843 381h1v1h-1zM859 381h1v1h-1zM868 381h1v1h-1zM1016 381h2v1h-2zM1194 381h1v1h-1zM5 382h1v1h-1zM63 382h1v1h-1zM600 382h1v1h-1zM643 382h1v1h-1zM675 382h1v1h-1zM715 382h1v1h-1zM745 382h1v1h-1zM842 382h1v1h-1zM860 382h1v1h-1zM867 382h1v1h-1zM1016 382h1v1h-1zM1194 382h1v1h-1zM5 383h1v1h-1zM63 383h1v1h-1zM600 383h1v1h-1zM643 383h1v1h-1zM675 383h1v1h-1zM715 383h1v1h-1zM745 383h1v1h-1zM842 383h1v1h-1zM860 383h1v1h-1zM867 383h1v1h-1zM1195 383h1v1h-1zM6 384h1v1h-1zM62 384h1v1h-1zM600 384h1v1h-1zM643 384h1v1h-1zM676 384h1v1h-1zM688 384h1v1h-1zM715 384h1v1h-1zM746 384h1v1h-1zM842 384h1v1h-1zM861 384h1v1h-1zM866 384h1v1h-1zM1195 384h1v1h-1zM6 385h1v1h-1zM26 385h3v1h-3zM62 385h1v1h-1zM600 385h1v1h-1zM643 385h1v1h-1zM676 385h5v1h-5zM687 385h1v1h-1zM689 385h1v1h-1zM715 385h1v1h-1zM746 385h1v1h-1zM842 385h1v1h-1zM862 385h1v1h-1zM865 385h1v1h-1zM1195 385h1v1h-1zM6 386h1v1h-1zM23 386h3v1h-3zM28 386h1v1h-1zM62 386h1v1h-1zM600 386h1v1h-1zM643 386h1v1h-1zM681 386h1v1h-1zM686 386h1v1h-1zM690 386h1v1h-1zM714 386h1v1h-1zM746 386h1v1h-1zM841 386h1v1h-1zM863 386h1v1h-1zM865 386h1v1h-1zM1196 386h1v1h-1zM7 387h1v1h-1zM16 387h2v1h-2zM21 387h2v1h-2zM29 387h1v1h-1zM62 387h1v1h-1zM600 387h1v1h-1zM643 387h1v1h-1zM682 387h2v1h-2zM685 387h1v1h-1zM691 387h1v1h-1zM714 387h1v1h-1zM746 387h1v1h-1zM841 387h1v1h-1zM864 387h1v1h-1zM1196 387h1v1h-1zM7 388h1v1h-1zM15 388h1v1h-1zM18 388h3v1h-3zM29 388h1v1h-1zM62 388h1v1h-1zM601 388h1v1h-1zM642 388h1v1h-1zM684 388h1v1h-1zM692 388h1v1h-1zM714 388h1v1h-1zM746 388h1v1h-1zM841 388h1v1h-1zM1197 388h1v1h-1zM7 389h1v1h-1zM15 389h1v1h-1zM29 389h1v1h-1zM62 389h1v1h-1zM601 389h1v1h-1zM642 389h1v1h-1zM693 389h1v1h-1zM714 389h1v1h-1zM746 389h1v1h-1zM841 389h1v1h-1zM1197 389h1v1h-1zM7 390h1v1h-1zM14 390h1v1h-1zM30 390h1v1h-1zM61 390h1v1h-1zM601 390h1v1h-1zM642 390h1v1h-1zM694 390h1v1h-1zM713 390h1v1h-1zM746 390h1v1h-1zM840 390h1v1h-1zM1198 390h1v1h-1zM8 391h1v1h-1zM14 391h1v1h-1zM30 391h1v1h-1zM61 391h1v1h-1zM601 391h1v1h-1zM642 391h1v1h-1zM695 391h1v1h-1zM713 391h1v1h-1zM746 391h1v1h-1zM840 391h1v1h-1zM1198 391h1v1h-1zM8 392h1v1h-1zM13 392h1v1h-1zM30 392h1v1h-1zM61 392h1v1h-1zM601 392h1v1h-1zM642 392h1v1h-1zM696 392h1v1h-1zM713 392h1v1h-1zM747 392h1v1h-1zM840 392h1v1h-1zM1199 392h1v1h-1zM9 393h2v1h-2zM13 393h1v1h-1zM30 393h1v1h-1zM61 393h1v1h-1zM601 393h1v1h-1zM642 393h1v1h-1zM696 393h1v1h-1zM713 393h1v1h-1zM747 393h1v1h-1zM840 393h1v1h-1zM1199 393h1v1h-1zM11 394h2v1h-2zM31 394h1v1h-1zM61 394h1v1h-1zM601 394h1v1h-1zM642 394h1v1h-1zM697 394h1v1h-1zM713 394h1v1h-1zM747 394h1v1h-1zM839 394h1v1h-1zM1200 394h1v1h-1zM31 395h1v1h-1zM60 395h1v1h-1zM601 395h1v1h-1zM641 395h1v1h-1zM697 395h1v1h-1zM712 395h1v1h-1zM747 395h1v1h-1zM839 395h1v1h-1zM1201 395h1v1h-1zM31 396h1v1h-1zM60 396h1v1h-1zM601 396h1v1h-1zM641 396h1v1h-1zM697 396h1v1h-1zM712 396h1v1h-1zM747 396h1v1h-1zM839 396h1v1h-1zM1202 396h1v1h-1zM32 397h1v1h-1zM60 397h1v1h-1zM601 397h1v1h-1zM641 397h1v1h-1zM698 397h1v1h-1zM712 397h1v1h-1zM747 397h1v1h-1zM839 397h1v1h-1zM1203 397h1v1h-1zM32 398h1v1h-1zM60 398h1v1h-1zM601 398h1v1h-1zM641 398h1v1h-1zM698 398h1v1h-1zM712 398h1v1h-1zM747 398h1v1h-1zM839 398h1v1h-1zM1204 398h1v1h-1zM32 399h1v1h-1zM60 399h1v1h-1zM601 399h1v1h-1zM641 399h1v1h-1zM698 399h1v1h-1zM711 399h1v1h-1zM747 399h1v1h-1zM839 399h1v1h-1zM1204 399h1v1h-1zM32 400h1v1h-1zM59 400h1v1h-1zM602 400h1v1h-1zM641 400h1v1h-1zM698 400h1v1h-1zM711 400h1v1h-1zM748 400h1v1h-1zM838 400h1v1h-1zM1205 400h1v1h-1zM33 401h1v1h-1zM59 401h1v1h-1zM602 401h1v1h-1zM641 401h1v1h-1zM699 401h1v1h-1zM711 401h1v1h-1zM748 401h1v1h-1zM838 401h1v1h-1zM1205 401h1v1h-1zM33 402h1v1h-1zM59 402h1v1h-1zM602 402h1v1h-1zM641 402h1v1h-1zM699 402h1v1h-1zM711 402h1v1h-1zM748 402h1v1h-1zM838 402h1v1h-1zM1205 402h1v1h-1zM33 403h1v1h-1zM59 403h1v1h-1zM602 403h1v1h-1zM640 403h1v1h-1zM699 403h1v1h-1zM710 403h1v1h-1zM748 403h1v1h-1zM838 403h1v1h-1zM1206 403h1v1h-1zM33 404h1v1h-1zM58 404h1v1h-1zM602 404h1v1h-1zM640 404h1v1h-1zM700 404h1v1h-1zM710 404h1v1h-1zM748 404h1v1h-1zM838 404h1v1h-1zM1206 404h1v1h-1zM33 405h1v1h-1zM58 405h1v1h-1zM602 405h1v1h-1zM640 405h1v1h-1zM700 405h1v1h-1zM710 405h1v1h-1zM748 405h1v1h-1zM837 405h1v1h-1zM1206 405h1v1h-1zM33 406h1v1h-1zM58 406h1v1h-1zM602 406h1v1h-1zM640 406h1v1h-1zM701 406h1v1h-1zM709 406h1v1h-1zM748 406h1v1h-1zM837 406h1v1h-1zM1207 406h1v1h-1zM34 407h1v1h-1zM58 407h1v1h-1zM602 407h1v1h-1zM640 407h1v1h-1zM702 407h1v1h-1zM709 407h1v1h-1zM749 407h1v1h-1zM837 407h1v1h-1zM1207 407h1v1h-1zM34 408h1v1h-1zM58 408h1v1h-1zM602 408h1v1h-1zM640 408h1v1h-1zM703 408h1v1h-1zM709 408h1v1h-1zM749 408h1v1h-1zM837 408h1v1h-1zM1207 408h1v1h-1zM34 409h1v1h-1zM57 409h1v1h-1zM602 409h1v1h-1zM639 409h1v1h-1zM704 409h1v1h-1zM709 409h1v1h-1zM749 409h1v1h-1zM837 409h1v1h-1zM1208 409h1v1h-1zM34 410h1v1h-1zM57 410h1v1h-1zM602 410h1v1h-1zM639 410h1v1h-1zM705 410h2v1h-2zM708 410h1v1h-1zM749 410h1v1h-1zM837 410h1v1h-1zM1208 410h1v1h-1zM34 411h1v1h-1zM57 411h1v1h-1zM602 411h1v1h-1zM639 411h1v1h-1zM707 411h2v1h-2zM749 411h1v1h-1zM836 411h1v1h-1zM1208 411h1v1h-1zM35 412h1v1h-1zM57 412h1v1h-1zM603 412h1v1h-1zM639 412h1v1h-1zM749 412h1v1h-1zM836 412h1v1h-1zM1209 412h1v1h-1zM35 413h1v1h-1zM56 413h1v1h-1zM603 413h1v1h-1zM638 413h1v1h-1zM750 413h1v1h-1zM836 413h1v1h-1zM1209 413h1v1h-1zM35 414h1v1h-1zM56 414h1v1h-1zM603 414h1v1h-1zM638 414h1v1h-1zM750 414h1v1h-1zM836 414h1v1h-1zM1210 414h1v1h-1zM35 415h1v1h-1zM56 415h1v1h-1zM603 415h1v1h-1zM638 415h1v1h-1zM750 415h1v1h-1zM836 415h1v1h-1zM1210 415h1v1h-1zM35 416h1v1h-1zM56 416h1v1h-1zM603 416h1v1h-1zM638 416h1v1h-1zM750 416h1v1h-1zM836 416h1v1h-1zM1211 416h1v1h-1zM35 417h1v1h-1zM56 417h1v1h-1zM603 417h1v1h-1zM637 417h1v1h-1zM750 417h1v1h-1zM835 417h1v1h-1zM1211 417h1v1h-1zM36 418h1v1h-1zM55 418h1v1h-1zM603 418h1v1h-1zM637 418h1v1h-1zM751 418h1v1h-1zM835 418h1v1h-1zM1212 418h1v1h-1zM36 419h1v1h-1zM55 419h1v1h-1zM603 419h1v1h-1zM637 419h1v1h-1zM751 419h1v1h-1zM835 419h1v1h-1zM1212 419h1v1h-1zM36 420h1v1h-1zM55 420h1v1h-1zM603 420h1v1h-1zM637 420h1v1h-1zM751 420h1v1h-1zM835 420h1v1h-1zM1213 420h1v1h-1zM36 421h1v1h-1zM55 421h1v1h-1zM603 421h1v1h-1zM636 421h1v1h-1zM751 421h1v1h-1zM835 421h1v1h-1zM1213 421h1v1h-1zM37 422h1v1h-1zM54 422h1v1h-1zM603 422h1v1h-1zM636 422h1v1h-1zM751 422h1v1h-1zM835 422h1v1h-1zM1214 422h1v1h-1zM37 423h1v1h-1zM54 423h1v1h-1zM603 423h1v1h-1zM636 423h1v1h-1zM751 423h1v1h-1zM835 423h1v1h-1zM1214 423h1v1h-1zM38 424h1v1h-1zM54 424h1v1h-1zM604 424h1v1h-1zM636 424h1v1h-1zM752 424h1v1h-1zM834 424h1v1h-1zM1215 424h1v1h-1zM38 425h1v1h-1zM54 425h1v1h-1zM604 425h1v1h-1zM636 425h1v1h-1zM752 425h1v1h-1zM834 425h1v1h-1zM1215 425h1v1h-1zM38 426h1v1h-1zM53 426h1v1h-1zM604 426h1v1h-1zM635 426h1v1h-1zM752 426h1v1h-1zM834 426h1v1h-1zM1216 426h1v1h-1zM39 427h1v1h-1zM53 427h1v1h-1zM604 427h1v1h-1zM635 427h1v1h-1zM752 427h1v1h-1zM834 427h1v1h-1zM1216 427h1v1h-1zM39 428h1v1h-1zM53 428h1v1h-1zM604 428h1v1h-1zM635 428h1v1h-1zM752 428h1v1h-1zM834 428h1v1h-1zM1217 428h1v1h-1zM40 429h1v1h-1zM53 429h1v1h-1zM604 429h1v1h-1zM635 429h1v1h-1zM752 429h1v1h-1zM834 429h1v1h-1zM1218 429h1v1h-1zM1228 429h1v1h-1zM1235 429h3v1h-3zM40 430h1v1h-1zM48 430h2v1h-2zM52 430h1v1h-1zM604 430h1v1h-1zM634 430h1v1h-1zM752 430h1v1h-1zM833 430h1v1h-1zM1218 430h1v1h-1zM1227 430h1v1h-1zM1229 430h2v1h-2zM1233 430h2v1h-2zM1238 430h3v1h-3zM41 431h1v1h-1zM47 431h1v1h-1zM50 431h3v1h-3zM604 431h1v1h-1zM634 431h1v1h-1zM753 431h1v1h-1zM833 431h1v1h-1zM1219 431h1v1h-1zM1226 431h1v1h-1zM1231 431h2v1h-2zM1240 431h1v1h-1zM41 432h1v1h-1zM47 432h1v1h-1zM604 432h1v1h-1zM634 432h1v1h-1zM753 432h1v1h-1zM833 432h1v1h-1zM1220 432h1v1h-1zM1226 432h1v1h-1zM1241 432h1v1h-1zM42 433h1v1h-1zM46 433h1v1h-1zM604 433h1v1h-1zM634 433h1v1h-1zM753 433h1v1h-1zM833 433h1v1h-1zM1221 433h2v1h-2zM1225 433h1v1h-1zM1241 433h1v1h-1zM43 434h1v1h-1zM45 434h1v1h-1zM604 434h1v1h-1zM633 434h1v1h-1zM753 434h1v1h-1zM833 434h1v1h-1zM1223 434h2v1h-2zM1241 434h1v1h-1zM43 435h1v1h-1zM45 435h1v1h-1zM604 435h1v1h-1zM633 435h1v1h-1zM753 435h1v1h-1zM808 435h1v1h-1zM833 435h1v1h-1zM1242 435h1v1h-1zM44 436h1v1h-1zM605 436h1v1h-1zM633 436h1v1h-1zM753 436h1v1h-1zM807 436h1v1h-1zM809 436h1v1h-1zM833 436h1v1h-1zM1242 436h1v1h-1zM605 437h1v1h-1zM633 437h1v1h-1zM753 437h1v1h-1zM807 437h1v1h-1zM809 437h1v1h-1zM832 437h1v1h-1zM1242 437h1v1h-1zM605 438h1v1h-1zM632 438h1v1h-1zM753 438h1v1h-1zM806 438h1v1h-1zM810 438h1v1h-1zM832 438h1v1h-1zM1243 438h1v1h-1zM605 439h1v1h-1zM632 439h1v1h-1zM753 439h1v1h-1zM805 439h1v1h-1zM811 439h1v1h-1zM832 439h1v1h-1zM1243 439h1v1h-1zM605 440h1v1h-1zM632 440h1v1h-1zM753 440h1v1h-1zM805 440h1v1h-1zM811 440h1v1h-1zM832 440h1v1h-1zM1243 440h1v1h-1zM605 441h1v1h-1zM632 441h1v1h-1zM754 441h1v1h-1zM804 441h1v1h-1zM812 441h1v1h-1zM832 441h1v1h-1zM1244 441h1v1h-1zM605 442h1v1h-1zM632 442h1v1h-1zM754 442h1v1h-1zM804 442h1v1h-1zM812 442h1v1h-1zM832 442h1v1h-1zM1244 442h1v1h-1zM605 443h1v1h-1zM631 443h1v1h-1zM754 443h1v1h-1zM803 443h1v1h-1zM813 443h1v1h-1zM831 443h1v1h-1zM1244 443h1v1h-1zM605 444h1v1h-1zM631 444h1v1h-1zM754 444h1v1h-1zM803 444h1v1h-1zM813 444h1v1h-1zM831 444h1v1h-1zM1245 444h1v1h-1zM605 445h1v1h-1zM631 445h1v1h-1zM754 445h1v1h-1zM802 445h1v1h-1zM813 445h1v1h-1zM831 445h1v1h-1zM1245 445h1v1h-1zM606 446h1v1h-1zM631 446h1v1h-1zM754 446h1v1h-1zM802 446h1v1h-1zM814 446h1v1h-1zM831 446h1v1h-1zM1245 446h1v1h-1zM606 447h1v1h-1zM630 447h1v1h-1zM754 447h1v1h-1zM802 447h1v1h-1zM814 447h1v1h-1zM831 447h1v1h-1zM1245 447h1v1h-1zM606 448h1v1h-1zM630 448h1v1h-1zM754 448h1v1h-1zM801 448h1v1h-1zM814 448h1v1h-1zM830 448h1v1h-1zM1246 448h1v1h-1zM606 449h1v1h-1zM630 449h1v1h-1zM754 449h1v1h-1zM801 449h1v1h-1zM815 449h1v1h-1zM830 449h1v1h-1zM1246 449h1v1h-1zM606 450h1v1h-1zM630 450h1v1h-1zM754 450h1v1h-1zM800 450h1v1h-1zM815 450h1v1h-1zM830 450h1v1h-1zM1246 450h1v1h-1zM606 451h1v1h-1zM630 451h1v1h-1zM755 451h1v1h-1zM800 451h1v1h-1zM815 451h1v1h-1zM830 451h1v1h-1zM1246 451h1v1h-1zM606 452h1v1h-1zM629 452h1v1h-1zM755 452h1v1h-1zM800 452h1v1h-1zM816 452h1v1h-1zM829 452h1v1h-1zM1247 452h1v1h-1zM606 453h1v1h-1zM629 453h1v1h-1zM755 453h1v1h-1zM799 453h1v1h-1zM816 453h2v1h-2zM829 453h1v1h-1zM1247 453h1v1h-1zM606 454h1v1h-1zM629 454h1v1h-1zM755 454h1v1h-1zM799 454h1v1h-1zM818 454h7v1h-7zM829 454h1v1h-1zM1247 454h1v1h-1zM606 455h1v1h-1zM629 455h1v1h-1zM755 455h1v1h-1zM798 455h1v1h-1zM825 455h1v1h-1zM829 455h1v1h-1zM1247 455h1v1h-1zM606 456h1v1h-1zM628 456h1v1h-1zM755 456h1v1h-1zM798 456h1v1h-1zM826 456h1v1h-1zM829 456h1v1h-1zM1248 456h1v1h-1zM607 457h1v1h-1zM628 457h1v1h-1zM755 457h1v1h-1zM798 457h1v1h-1zM826 457h1v1h-1zM828 457h1v1h-1zM1248 457h1v1h-1zM607 458h1v1h-1zM628 458h1v1h-1zM755 458h1v1h-1zM797 458h1v1h-1zM827 458h2v1h-2zM1248 458h1v1h-1zM607 459h1v1h-1zM628 459h1v1h-1zM755 459h1v1h-1zM797 459h1v1h-1zM828 459h1v1h-1zM1248 459h1v1h-1zM607 460h1v1h-1zM628 460h1v1h-1zM755 460h1v1h-1zM796 460h1v1h-1zM1248 460h1v1h-1zM607 461h1v1h-1zM628 461h1v1h-1zM756 461h1v1h-1zM796 461h1v1h-1zM1249 461h1v1h-1zM607 462h1v1h-1zM627 462h1v1h-1zM756 462h1v1h-1zM796 462h1v1h-1zM1249 462h1v1h-1zM607 463h1v1h-1zM627 463h1v1h-1zM756 463h1v1h-1zM795 463h1v1h-1zM1249 463h1v1h-1zM607 464h1v1h-1zM627 464h1v1h-1zM756 464h1v1h-1zM795 464h1v1h-1zM1249 464h1v1h-1zM607 465h1v1h-1zM627 465h1v1h-1zM756 465h1v1h-1zM795 465h1v1h-1zM1249 465h1v1h-1zM607 466h1v1h-1zM627 466h1v1h-1zM756 466h1v1h-1zM794 466h1v1h-1zM1250 466h1v1h-1zM608 467h1v1h-1zM627 467h1v1h-1zM756 467h1v1h-1zM794 467h1v1h-1zM1250 467h1v1h-1zM608 468h1v1h-1zM626 468h1v1h-1zM757 468h1v1h-1zM793 468h1v1h-1zM1250 468h1v1h-1zM608 469h1v1h-1zM626 469h1v1h-1zM757 469h1v1h-1zM793 469h1v1h-1zM1250 469h1v1h-1zM608 470h1v1h-1zM626 470h1v1h-1zM757 470h1v1h-1zM793 470h1v1h-1zM1250 470h1v1h-1zM608 471h1v1h-1zM626 471h1v1h-1zM758 471h1v1h-1zM792 471h1v1h-1zM1251 471h1v1h-1zM608 472h1v1h-1zM626 472h1v1h-1zM758 472h1v1h-1zM792 472h1v1h-1zM1251 472h1v1h-1zM608 473h1v1h-1zM626 473h1v1h-1zM758 473h1v1h-1zM792 473h1v1h-1zM1251 473h1v1h-1zM609 474h1v1h-1zM625 474h1v1h-1zM759 474h1v1h-1zM791 474h1v1h-1zM1251 474h1v1h-1zM609 475h1v1h-1zM625 475h1v1h-1zM759 475h1v1h-1zM791 475h1v1h-1zM1251 475h1v1h-1zM610 476h1v1h-1zM625 476h1v1h-1zM759 476h1v1h-1zM791 476h1v1h-1zM1252 476h1v1h-1zM610 477h1v1h-1zM625 477h1v1h-1zM760 477h1v1h-1zM791 477h1v1h-1zM1252 477h1v1h-1zM610 478h1v1h-1zM625 478h1v1h-1zM760 478h1v1h-1zM790 478h1v1h-1zM1252 478h1v1h-1zM611 479h1v1h-1zM625 479h1v1h-1zM760 479h1v1h-1zM790 479h1v1h-1zM1252 479h1v1h-1zM611 480h1v1h-1zM624 480h1v1h-1zM760 480h1v1h-1zM790 480h1v1h-1zM1252 480h1v1h-1zM612 481h1v1h-1zM624 481h1v1h-1zM761 481h1v1h-1zM790 481h1v1h-1zM1253 481h1v1h-1zM612 482h1v1h-1zM624 482h1v1h-1zM761 482h1v1h-1zM789 482h1v1h-1zM1253 482h1v1h-1zM613 483h1v1h-1zM623 483h1v1h-1zM761 483h1v1h-1zM789 483h1v1h-1zM1253 483h1v1h-1zM614 484h1v1h-1zM623 484h1v1h-1zM761 484h1v1h-1zM789 484h1v1h-1zM1253 484h1v1h-1zM615 485h1v1h-1zM622 485h1v1h-1zM761 485h1v1h-1zM789 485h1v1h-1zM1253 485h1v1h-1zM616 486h1v1h-1zM621 486h1v1h-1zM762 486h1v1h-1zM788 486h1v1h-1zM1254 486h1v1h-1zM617 487h2v1h-2zM621 487h1v1h-1zM762 487h1v1h-1zM788 487h1v1h-1zM1254 487h1v1h-1zM619 488h2v1h-2zM762 488h1v1h-1zM788 488h1v1h-1zM1254 488h1v1h-1zM762 489h1v1h-1zM787 489h1v1h-1zM1254 489h1v1h-1zM762 490h1v1h-1zM787 490h1v1h-1zM1254 490h1v1h-1zM763 491h1v1h-1zM787 491h1v1h-1zM1255 491h1v1h-1zM763 492h1v1h-1zM786 492h1v1h-1zM1255 492h1v1h-1zM763 493h1v1h-1zM786 493h1v1h-1zM1255 493h1v1h-1zM763 494h1v1h-1zM786 494h1v1h-1zM1255 494h1v1h-1zM763 495h1v1h-1zM786 495h1v1h-1zM1255 495h1v1h-1zM764 496h1v1h-1zM785 496h1v1h-1zM1256 496h1v1h-1zM764 497h1v1h-1zM785 497h1v1h-1zM1256 497h1v1h-1zM764 498h5v1h-5zM785 498h1v1h-1zM1256 498h1v1h-1zM768 499h1v1h-1zM784 499h1v1h-1zM1256 499h1v1h-1zM769 500h1v1h-1zM784 500h1v1h-1zM1256 500h1v1h-1zM769 501h1v1h-1zM784 501h1v1h-1zM1257 501h1v1h-1zM769 502h1v1h-1zM783 502h1v1h-1zM1257 502h1v1h-1zM769 503h1v1h-1zM783 503h1v1h-1zM1257 503h1v1h-1zM770 504h1v1h-1zM782 504h1v1h-1zM1257 504h1v1h-1zM770 505h1v1h-1zM782 505h1v1h-1zM1257 505h1v1h-1zM770 506h1v1h-1zM782 506h1v1h-1zM1257 506h1v1h-1zM770 507h1v1h-1zM776 507h1v1h-1zM781 507h1v1h-1zM1258 507h1v1h-1zM771 508h1v1h-1zM775 508h1v1h-1zM777 508h1v1h-1zM781 508h1v1h-1zM1258 508h1v1h-1zM771 509h1v1h-1zM775 509h1v1h-1zM778 509h3v1h-3zM1258 509h1v1h-1zM771 510h1v1h-1zM774 510h1v1h-1zM780 510h1v1h-1zM1258 510h1v1h-1zM1296 510h1v1h-1zM1303 510h1v1h-1zM771 511h1v1h-1zM773 511h1v1h-1zM1258 511h1v1h-1zM1295 511h1v1h-1zM1297 511h2v1h-2zM1301 511h2v1h-2zM772 512h2v1h-2zM1258 512h1v1h-1zM1295 512h1v1h-1zM1299 512h2v1h-2zM772 513h1v1h-1zM1259 513h1v1h-1zM1294 513h1v1h-1zM1259 514h1v1h-1zM1294 514h1v1h-1zM1259 515h1v1h-1zM1293 515h1v1h-1zM1259 516h1v1h-1zM1293 516h1v1h-1zM1259 517h1v1h-1zM1291 517h2v1h-2zM1259 518h1v1h-1zM1289 518h2v1h-2zM1260 519h1v1h-1zM1288 519h1v1h-1zM1260 520h1v1h-1zM1287 520h1v1h-1zM1260 521h1v1h-1zM1286 521h1v1h-1zM1260 522h1v1h-1zM1285 522h1v1h-1zM1260 523h1v1h-1zM1283 523h2v1h-2zM1261 524h1v1h-1zM1281 524h2v1h-2zM1261 525h1v1h-1zM1280 525h1v1h-1zM1261 526h1v1h-1zM1280 526h1v1h-1zM1262 527h1v1h-1zM1279 527h1v1h-1zM1262 528h1v1h-1zM1279 528h1v1h-1zM1262 529h1v1h-1zM1278 529h1v1h-1zM1263 530h1v1h-1zM1278 530h1v1h-1zM1263 531h1v1h-1zM1277 531h1v1h-1zM1263 532h1v1h-1zM1277 532h1v1h-1zM1264 533h1v1h-1zM1272 533h5v1h-5zM1264 534h1v1h-1zM1271 534h1v1h-1zM1265 535h1v1h-1zM1270 535h1v1h-1zM1266 536h1v1h-1zM1270 536h1v1h-1zM1267 537h1v1h-1zM1269 537h1v1h-1zM1268 538h1v1h-1z" fill="#ffa500" shape-rendering="crispEdges"/>
<path d="M443 96h2v1h-2zM441 97h2v1h-2zM445 97h1v1h-1zM440 98h1v1h-1zM445 98h1v1h-1zM439 99h1v1h-1zM446 99h1v1h-1zM438 100h1v1h-1zM447 100h1v1h-1zM438 101h1v1h-1zM447 101h1v1h-1zM437 102h1v1h-1zM448 102h1v1h-1zM434 103h3v1h-3zM449 103h1v1h-1zM431 104h3v1h-3zM450 104h1v1h-1zM429 105h2v1h-2zM450 105h1v1h-1zM428 106h1v1h-1zM451 106h1v1h-1zM427 107h1v1h-1zM452 107h1v1h-1zM426 108h1v1h-1zM453 108h1v1h-1zM426 109h1v1h-1zM454 109h1v1h-1zM425 110h1v1h-1zM454 110h1v1h-1zM424 111h1v1h-1zM455 111h1v1h-1zM423 112h1v1h-1zM456 112h1v1h-1zM423 113h1v1h-1zM457 113h1v1h-1zM422 114h1v1h-1zM457 114h1v1h-1zM422 115h1v1h-1zM458 115h1v1h-1zM421 116h1v1h-1zM458 116h1v1h-1zM421 117h1v1h-1zM459 117h1v1h-1zM420 118h1v1h-1zM459 118h1v1h-1zM419 119h1v1h-1zM460 119h1v1h-1zM419 120h1v1h-1zM460 120h1v1h-1zM418 121h1v1h-1zM461 121h1v1h-1zM417 122h1v1h-1zM461 122h1v1h-1zM417 123h1v1h-1zM462 123h1v1h-1zM416 124h1v1h-1zM463 124h1v1h-1zM416 125h1v1h-1zM463 125h1v1h-1zM415 126h1v1h-1zM464 126h1v1h-1zM415 127h1v1h-1zM465 127h1v1h-1zM415 128h1v1h-1zM465 128h1v1h-1zM414 129h1v1h-1zM466 129h1v1h-1zM414 130h1v1h-1zM466 130h1v1h-1zM413 131h1v1h-1zM467 131h1v1h-1zM413 132h1v1h-1zM467 132h1v1h-1zM413 133h1v1h-1zM468 133h1v1h-1zM412 134h1v1h-1zM469 134h1v1h-1zM412 135h1v1h-1zM469 135h1v1h-1zM412 136h1v1h-1zM470 136h1v1h-1zM411 137h1v1h-1zM471 137h1v1h-1zM411 138h1v1h-1zM471 138h1v1h-1zM411 139h1v1h-1zM472 139h1v1h-1zM410 140h1v1h-1zM473 140h2v1h-2zM410 141h1v1h-1zM475 141h2v1h-2zM410 142h1v1h-1zM477 142h1v1h-1zM409 143h1v1h-1zM478 143h1v1h-1zM409 144h1v1h-1zM478 144h1v1h-1zM409 145h1v1h-1zM479 145h1v1h-1zM408 146h1v1h-1zM480 146h1v1h-1zM408 147h1v1h-1zM481 147h1v1h-1zM408 148h1v1h-1zM481 148h1v1h-1zM407 149h1v1h-1zM482 149h1v1h-1zM407 150h1v1h-1zM483 150h1v1h-1zM406 151h1v1h-1zM483 151h1v1h-1zM406 152h1v1h-1zM484 152h1v1h-1zM406 153h1v1h-1zM485 153h1v1h-1zM405 154h1v1h-1zM486 154h1v1h-1zM405 155h1v1h-1zM487 155h1v1h-1zM404 156h1v1h-1zM488 156h1v1h-1zM404 157h1v1h-1zM489 157h1v1h-1zM404 158h1v1h-1zM489 158h1v1h-1zM403 159h1v1h-1zM490 159h1v1h-1zM403 160h1v1h-1zM491 160h1v1h-1zM403 161h1v1h-1zM491 161h1v1h-1zM402 162h1v1h-1zM492 162h1v1h-1zM402 163h1v1h-1zM492 163h1v1h-1zM401 164h1v1h-1zM493 164h1v1h-1zM401 165h1v1h-1zM493 165h1v1h-1zM401 166h1v1h-1zM493 166h1v1h-1zM400 167h1v1h-1zM494 167h1v1h-1zM400 168h1v1h-1zM494 168h1v1h-1zM400 169h1v1h-1zM495 169h1v1h-1zM399 170h1v1h-1zM495 170h1v1h-1zM399 171h1v1h-1zM495 171h1v1h-1zM399 172h1v1h-1zM496 172h1v1h-1zM398 173h1v1h-1zM496 173h1v1h-1zM398 174h1v1h-1zM496 174h1v1h-1zM398 175h1v1h-1zM497 175h1v1h-1zM397 176h1v1h-1zM497 176h1v1h-1zM397 177h1v1h-1zM498 177h1v1h-1zM397 178h1v1h-1zM498 178h1v1h-1zM396 179h1v1h-1zM498 179h1v1h-1zM396 180h1v1h-1zM499 180h1v1h-1zM396 181h1v1h-1zM499 181h1v1h-1zM395 182h1v1h-1zM500 182h1v1h-1zM395 183h1v1h-1zM500 183h1v1h-1zM395 184h1v1h-1zM501 184h1v1h-1zM394 185h1v1h-1zM501 185h1v1h-1zM394 186h1v1h-1zM502 186h1v1h-1zM394 187h1v1h-1zM502 187h1v1h-1zM393 188h1v1h-1zM503 188h1v1h-1zM393 189h1v1h-1zM503 189h1v1h-1zM393 190h1v1h-1zM504 190h1v1h-1zM392 191h1v1h-1zM504 191h1v1h-1zM392 192h1v1h-1zM505 192h1v1h-1zM392 193h1v1h-1zM506 193h1v1h-1zM391 194h1v1h-1zM507 194h1v1h-1zM391 195h1v1h-1zM508 195h1v1h-1zM391 196h1v1h-1zM509 196h2v1h-2zM391 197h1v1h-1zM511 197h7v1h-7zM390 198h1v1h-1zM518 198h3v1h-3zM390 199h1v1h-1zM521 199h1v1h-1zM390 200h1v1h-1zM522 200h1v1h-1zM389 201h1v1h-1zM523 201h1v1h-1zM389 202h1v1h-1zM524 202h1v1h-1zM389 203h1v1h-1zM525 203h1v1h-1zM389 204h1v1h-1zM525 204h1v1h-1zM388 205h1v1h-1zM526 205h1v1h-1zM388 206h1v1h-1zM527 206h1v1h-1zM388 207h1v1h-1zM527 207h1v1h-1zM387 208h1v1h-1zM528 208h1v1h-1zM387 209h1v1h-1zM529 209h1v1h-1zM386 210h1v1h-1zM529 210h1v1h-1zM386 211h1v1h-1zM530 211h1v1h-1zM386 212h1v1h-1zM530 212h1v1h-1zM385 213h1v1h-1zM531 213h1v1h-1zM385 214h1v1h-1zM531 214h1v1h-1zM384 215h1v1h-1zM532 215h1v1h-1zM384 216h1v1h-1zM532 216h1v1h-1zM384 217h1v1h-1zM533 217h1v1h-1zM383 218h1v1h-1zM533 218h1v1h-1zM383 219h1v1h-1zM533 219h1v1h-1zM382 220h1v1h-1zM534 220h1v1h-1zM382 221h1v1h-1zM534 221h1v1h-1zM381 222h1v1h-1zM535 222h1v1h-1zM267 223h7v1h-7zM381 223h1v1h-1zM535 223h1v1h-1zM265 224h2v1h-2zM274 224h3v1h-3zM380 224h1v1h-1zM535 224h1v1h-1zM264 225h1v1h-1zM277 225h1v1h-1zM380 225h1v1h-1zM536 225h1v1h-1zM262 226h2v1h-2zM277 226h1v1h-1zM380 226h1v1h-1zM536 226h1v1h-1zM261 227h1v1h-1zM278 227h1v1h-1zM379 227h1v1h-1zM536 227h1v1h-1zM260 228h1v1h-1zM278 228h1v1h-1zM379 228h1v1h-1zM537 228h1v1h-1zM258 229h2v1h-2zM279 229h1v1h-1zM379 229h1v1h-1zM537 229h1v1h-1zM257 230h1v1h-1zM279 230h1v1h-1zM378 230h1v1h-1zM538 230h1v1h-1zM255 231h2v1h-2zM280 231h1v1h-1zM378 231h1v1h-1zM538 231h1v1h-1zM253 232h2v1h-2zM281 232h1v1h-1zM377 232h1v1h-1zM538 232h1v1h-1zM252 233h1v1h-1zM281 233h1v1h-1zM377 233h1v1h-1zM539 233h1v1h-1zM179 234h3v1h-3zM250 234h2v1h-2zM282 234h1v1h-1zM377 234h1v1h-1zM539 234h1v1h-1zM177 235h2v1h-2zM182 235h8v1h-8zM249 235h1v1h-1zM282 235h1v1h-1zM376 235h1v1h-1zM540 235h1v1h-1zM176 236h1v1h-1zM190 236h11v1h-11zM248 236h1v1h-1zM283 236h1v1h-1zM376 236h1v1h-1zM540 236h1v1h-1zM175 237h1v1h-1zM201 237h1v1h-1zM247 237h1v1h-1zM283 237h1v1h-1zM376 237h1v1h-1zM540 237h1v1h-1zM174 238h1v1h-1zM202 238h2v1h-2zM246 238h1v1h-1zM284 238h1v1h-1zM375 238h1v1h-1zM541 238h1v1h-1zM173 239h1v1h-1zM204 239h1v1h-1zM246 239h1v1h-1zM284 239h1v1h-1zM375 239h1v1h-1zM541 239h1v1h-1zM172 240h1v1h-1zM205 240h1v1h-1zM245 240h1v1h-1zM285 240h1v1h-1zM375 240h1v1h-1zM541 240h1v1h-1zM171 241h1v1h-1zM205 241h1v1h-1zM244 241h1v1h-1zM285 241h1v1h-1zM374 241h1v1h-1zM541 241h1v1h-1zM171 242h1v1h-1zM206 242h1v1h-1zM243 242h1v1h-1zM286 242h1v1h-1zM374 242h1v1h-1zM542 242h1v1h-1zM170 243h1v1h-1zM206 243h1v1h-1zM243 243h1v1h-1zM286 243h1v1h-1zM373 243h1v1h-1zM542 243h1v1h-1zM169 244h1v1h-1zM207 244h1v1h-1zM242 244h1v1h-1zM287 244h1v1h-1zM373 244h1v1h-1zM542 244h1v1h-1zM169 245h1v1h-1zM207 245h1v1h-1zM242 245h1v1h-1zM287 245h1v1h-1zM373 245h1v1h-1zM543 245h1v1h-1zM168 246h1v1h-1zM208 246h1v1h-1zM241 246h1v1h-1zM288 246h1v1h-1zM372 246h1v1h-1zM543 246h1v1h-1zM168 247h1v1h-1zM209 247h1v1h-1zM241 247h1v1h-1zM288 247h1v1h-1zM372 247h1v1h-1zM543 247h1v1h-1zM167 248h1v1h-1zM209 248h1v1h-1zM240 248h1v1h-1zM288 248h1v1h-1zM371 248h1v1h-1zM543 248h1v1h-1zM167 249h1v1h-1zM210 249h1v1h-1zM239 249h1v1h-1zM289 249h1v1h-1zM371 249h1v1h-1zM544 249h1v1h-1zM166 250h1v1h-1zM210 250h1v1h-1zM238 250h1v1h-1zM289 250h1v1h-1zM370 250h1v1h-1zM544 250h1v1h-1zM166 251h1v1h-1zM211 251h1v1h-1zM238 251h1v1h-1zM290 251h1v1h-1zM370 251h1v1h-1zM544 251h1v1h-1zM165 252h1v1h-1zM211 252h1v1h-1zM237 252h1v1h-1zM290 252h1v1h-1zM369 252h1v1h-1zM545 252h1v1h-1zM165 253h1v1h-1zM212 253h1v1h-1zM236 253h1v1h-1zM290 253h1v1h-1zM369 253h1v1h-1zM545 253h1v1h-1zM164 254h1v1h-1zM213 254h1v1h-1zM235 254h1v1h-1zM291 254h1v1h-1zM368 254h1v1h-1zM545 254h1v1h-1zM163 255h1v1h-1zM214 255h1v1h-1zM234 255h1v1h-1zM291 255h1v1h-1zM367 255h1v1h-1zM545 255h1v1h-1zM162 256h1v1h-1zM215 256h1v1h-1zM234 256h1v1h-1zM292 256h1v1h-1zM367 256h1v1h-1zM546 256h1v1h-1zM162 257h1v1h-1zM216 257h1v1h-1zM233 257h1v1h-1zM292 257h1v1h-1zM366 257h1v1h-1zM546 257h1v1h-1zM161 258h1v1h-1zM217 258h1v1h-1zM232 258h1v1h-1zM293 258h1v1h-1zM366 258h1v1h-1zM546 258h1v1h-1zM160 259h1v1h-1zM218 259h1v1h-1zM231 259h1v1h-1zM293 259h1v1h-1zM365 259h1v1h-1zM547 259h1v1h-1zM160 260h1v1h-1zM218 260h1v1h-1zM230 260h1v1h-1zM294 260h1v1h-1zM365 260h1v1h-1zM547 260h1v1h-1zM159 261h1v1h-1zM219 261h1v1h-1zM229 261h1v1h-1zM294 261h1v1h-1zM364 261h1v1h-1zM547 261h1v1h-1zM159 262h1v1h-1zM220 262h2v1h-2zM226 262h3v1h-3zM295 262h1v1h-1zM363 262h1v1h-1zM547 262h1v1h-1zM158 263h1v1h-1zM222 263h4v1h-4zM295 263h1v1h-1zM362 263h1v1h-1zM548 263h1v1h-1zM158 264h1v1h-1zM296 264h1v1h-1zM362 264h1v1h-1zM548 264h1v1h-1zM157 265h1v1h-1zM296 265h1v1h-1zM361 265h1v1h-1zM548 265h1v1h-1zM157 266h1v1h-1zM296 266h1v1h-1zM360 266h1v1h-1zM549 266h1v1h-1zM156 267h1v1h-1zM297 267h1v1h-1zM359 267h1v1h-1zM549 267h1v1h-1zM156 268h1v1h-1zM297 268h1v1h-1zM358 268h1v1h-1zM549 268h1v1h-1zM155 269h1v1h-1zM297 269h1v1h-1zM358 269h1v1h-1zM550 269h1v1h-1zM155 270h1v1h-1zM298 270h1v1h-1zM357 270h1v1h-1zM550 270h1v1h-1zM155 271h1v1h-1zM298 271h1v1h-1zM356 271h1v1h-1zM551 271h1v1h-1zM154 272h1v1h-1zM299 272h1v1h-1zM355 272h1v1h-1zM551 272h1v1h-1zM154 273h1v1h-1zM299 273h1v1h-1zM354 273h1v1h-1zM551 273h1v1h-1zM153 274h1v1h-1zM299 274h1v1h-1zM353 274h1v1h-1zM552 274h1v1h-1zM153 275h1v1h-1zM300 275h1v1h-1zM352 275h1v1h-1zM552 275h1v1h-1zM153 276h1v1h-1zM300 276h1v1h-1zM351 276h1v1h-1zM553 276h1v1h-1zM152 277h1v1h-1zM301 277h1v1h-1zM351 277h1v1h-1zM553 277h1v1h-1zM152 278h1v1h-1zM301 278h1v1h-1zM350 278h1v1h-1zM554 278h1v1h-1zM152 279h1v1h-1zM302 279h1v1h-1zM349 279h1v1h-1zM554 279h1v1h-1zM151 280h1v1h-1zM302 280h1v1h-1zM349 280h1v1h-1zM555 280h1v1h-1zM151 281h1v1h-1zM303 281h1v1h-1zM348 281h1v1h-1zM555 281h1v1h-1zM150 282h1v1h-1zM303 282h1v1h-1zM347 282h1v1h-1zM556 282h1v1h-1zM150 283h1v1h-1zM304 283h1v1h-1zM347 283h1v1h-1zM557 283h1v1h-1zM149 284h1v1h-1zM304 284h1v1h-1zM346 284h1v1h-1zM557 284h1v1h-1zM149 285h1v1h-1zM305 285h1v1h-1zM345 285h1v1h-1zM558 285h1v1h-1zM148 286h1v1h-1zM306 286h1v1h-1zM345 286h1v1h-1zM559 286h1v1h-1zM148 287h1v1h-1zM306 287h1v1h-1zM344 287h1v1h-1zM559 287h1v1h-1zM147 288h1v1h-1zM307 288h1v1h-1zM343 288h1v1h-1zM560 288h1v1h-1zM147 289h1v1h-1zM308 289h1v1h-1zM342 289h1v1h-1zM561 289h1v1h-1zM146 290h1v1h-1zM309 290h1v1h-1zM341 290h1v1h-1zM561 290h1v1h-1zM146 291h1v1h-1zM310 291h1v1h-1zM340 291h1v1h-1zM562 291h1v1h-1zM145 292h1v1h-1zM310 292h1v1h-1zM338 292h2v1h-2zM563 292h1v1h-1zM145 293h1v1h-1zM311 293h1v1h-1zM337 293h1v1h-1zM563 293h1v1h-1zM144 294h1v1h-1zM312 294h1v1h-1zM336 294h1v1h-1zM564 294h1v1h-1zM142 295h2v1h-2zM313 295h1v1h-1zM335 295h1v1h-1zM564 295h1v1h-1zM141 296h1v1h-1zM314 296h2v1h-2zM334 296h1v1h-1zM565 296h1v1h-1zM140 297h1v1h-1zM316 297h1v1h-1zM334 297h1v1h-1zM565 297h1v1h-1zM138 298h2v1h-2zM317 298h2v1h-2zM333 298h1v1h-1zM566 298h1v1h-1zM992 298h2v1h-2zM137 299h1v1h-1zM319 299h2v1h-2zM331 299h2v1h-2zM566 299h1v1h-1zM991 299h1v1h-1zM994 299h3v1h-3zM135 300h2v1h-2zM321 300h2v1h-2zM329 300h2v1h-2zM567 300h1v1h-1zM990 300h1v1h-1zM997 300h1v1h-1zM133 301h2v1h-2zM323 301h6v1h-6zM567 301h1v1h-1zM990 301h1v1h-1zM998 301h1v1h-1zM131 302h2v1h-2zM568 302h1v1h-1zM989 302h1v1h-1zM999 302h1v1h-1zM129 303h2v1h-2zM568 303h1v1h-1zM988 303h1v1h-1zM1000 303h1v1h-1zM128 304h1v1h-1zM569 304h1v1h-1zM986 304h2v1h-2zM1001 304h1v1h-1zM126 305h2v1h-2zM570 305h1v1h-1zM985 305h1v1h-1zM1001 305h1v1h-1zM125 306h1v1h-1zM570 306h1v1h-1zM984 306h1v1h-1zM1002 306h1v1h-1zM123 307h2v1h-2zM571 307h1v1h-1zM982 307h2v1h-2zM1002 307h1v1h-1zM121 308h2v1h-2zM572 308h1v1h-1zM981 308h1v1h-1zM1003 308h1v1h-1zM1155 308h2v1h-2zM116 309h5v1h-5zM573 309h1v1h-1zM980 309h1v1h-1zM1003 309h1v1h-1zM1153 309h2v1h-2zM1157 309h2v1h-2zM1162 309h4v1h-4zM114 310h2v1h-2zM574 310h1v1h-1zM979 310h1v1h-1zM1004 310h1v1h-1zM1152 310h1v1h-1zM1159 310h3v1h-3zM1166 310h4v1h-4zM113 311h1v1h-1zM574 311h1v1h-1zM978 311h1v1h-1zM1004 311h1v1h-1zM1152 311h1v1h-1zM1170 311h4v1h-4zM112 312h1v1h-1zM575 312h1v1h-1zM977 312h1v1h-1zM1005 312h1v1h-1zM1151 312h1v1h-1zM1174 312h3v1h-3zM110 313h2v1h-2zM576 313h1v1h-1zM976 313h1v1h-1zM1005 313h1v1h-1zM1151 313h1v1h-1zM1177 313h1v1h-1zM109 314h1v1h-1zM577 314h1v1h-1zM975 314h1v1h-1zM1006 314h1v1h-1zM1150 314h1v1h-1zM1178 314h1v1h-1zM108 315h1v1h-1zM578 315h2v1h-2zM974 315h1v1h-1zM1006 315h1v1h-1zM1150 315h1v1h-1zM1178 315h1v1h-1zM108 316h1v1h-1zM580 316h2v1h-2zM974 316h1v1h-1zM1007 316h1v1h-1zM1149 316h1v1h-1zM1179 316h1v1h-1zM107 317h1v1h-1zM582 317h3v1h-3zM973 317h1v1h-1zM1007 317h1v1h-1zM1149 317h1v1h-1zM1180 317h1v1h-1zM107 318h1v1h-1zM585 318h2v1h-2zM972 318h1v1h-1zM1008 318h1v1h-1zM1148 318h1v1h-1zM1181 318h1v1h-1zM107 319h1v1h-1zM587 319h2v1h-2zM970 319h2v1h-2zM1008 319h1v1h-1zM1147 319h1v1h-1zM1181 319h1v1h-1zM106 320h1v1h-1zM589 320h1v1h-1zM969 320h1v1h-1zM1009 320h1v1h-1zM1147 320h1v1h-1zM1182 320h1v1h-1zM106 321h1v1h-1zM589 321h1v1h-1zM967 321h2v1h-2zM1009 321h1v1h-1zM1146 321h1v1h-1zM1182 321h1v1h-1zM105 322h1v1h-1zM590 322h1v1h-1zM965 322h2v1h-2zM1010 322h1v1h-1zM1145 322h1v1h-1zM1183 322h1v1h-1zM105 323h1v1h-1zM590 323h1v1h-1zM962 323h3v1h-3zM1011 323h1v1h-1zM1145 323h1v1h-1zM1183 323h1v1h-1zM105 324h1v1h-1zM591 324h1v1h-1zM958 324h4v1h-4zM1011 324h1v1h-1zM1144 324h1v1h-1zM1184 324h1v1h-1zM104 325h1v1h-1zM591 325h1v1h-1zM954 325h4v1h-4zM1012 325h1v1h-1zM1142 325h2v1h-2zM1185 325h1v1h-1zM104 326h1v1h-1zM592 326h1v1h-1zM952 326h2v1h-2zM1013 326h1v1h-1zM1141 326h1v1h-1zM1185 326h1v1h-1zM103 327h1v1h-1zM592 327h1v1h-1zM950 327h2v1h-2zM1014 327h2v1h-2zM1140 327h1v1h-1zM1186 327h1v1h-1zM103 328h1v1h-1zM593 328h1v1h-1zM949 328h1v1h-1zM1016 328h1v1h-1zM1138 328h2v1h-2zM1186 328h1v1h-1zM102 329h1v1h-1zM593 329h1v1h-1zM948 329h1v1h-1zM1017 329h1v1h-1zM1137 329h1v1h-1zM1187 329h1v1h-1zM102 330h1v1h-1zM594 330h1v1h-1zM946 330h2v1h-2zM1018 330h2v1h-2zM1134 330h3v1h-3zM1187 330h1v1h-1zM101 331h1v1h-1zM594 331h1v1h-1zM945 331h1v1h-1zM1020 331h2v1h-2zM1127 331h7v1h-7zM1188 331h1v1h-1zM101 332h1v1h-1zM595 332h1v1h-1zM943 332h2v1h-2zM1022 332h8v1h-8zM1125 332h2v1h-2zM1189 332h1v1h-1zM100 333h1v1h-1zM595 333h1v1h-1zM941 333h2v1h-2zM1030 333h7v1h-7zM1123 333h2v1h-2zM1189 333h1v1h-1zM99 334h1v1h-1zM596 334h1v1h-1zM940 334h1v1h-1zM1037 334h2v1h-2zM1116 334h2v1h-2zM1121 334h2v1h-2zM1190 334h1v1h-1zM98 335h1v1h-1zM596 335h1v1h-1zM939 335h1v1h-1zM1039 335h2v1h-2zM1080 335h9v1h-9zM1115 335h1v1h-1zM1118 335h3v1h-3zM1190 335h1v1h-1zM98 336h1v1h-1zM597 336h1v1h-1zM938 336h1v1h-1zM1041 336h1v1h-1zM1078 336h2v1h-2zM1089 336h1v1h-1zM1114 336h1v1h-1zM1191 336h1v1h-1zM97 337h1v1h-1zM597 337h1v1h-1zM938 337h1v1h-1zM1042 337h1v1h-1zM1077 337h1v1h-1zM1090 337h1v1h-1zM1113 337h1v1h-1zM1191 337h1v1h-1zM96 338h1v1h-1zM598 338h1v1h-1zM937 338h1v1h-1zM1043 338h1v1h-1zM1076 338h1v1h-1zM1091 338h1v1h-1zM1111 338h2v1h-2zM1192 338h1v1h-1zM96 339h1v1h-1zM598 339h1v1h-1zM926 339h4v1h-4zM934 339h3v1h-3zM1044 339h1v1h-1zM1075 339h1v1h-1zM1092 339h1v1h-1zM1109 339h2v1h-2zM1192 339h1v1h-1zM95 340h1v1h-1zM599 340h1v1h-1zM915 340h11v1h-11zM930 340h4v1h-4zM1045 340h1v1h-1zM1074 340h1v1h-1zM1093 340h1v1h-1zM1107 340h2v1h-2zM1193 340h1v1h-1zM95 341h1v1h-1zM599 341h1v1h-1zM913 341h2v1h-2zM1045 341h1v1h-1zM1073 341h1v1h-1zM1094 341h1v1h-1zM1105 341h2v1h-2zM1193 341h1v1h-1zM94 342h1v1h-1zM600 342h1v1h-1zM912 342h1v1h-1zM1046 342h1v1h-1zM1072 342h1v1h-1zM1095 342h1v1h-1zM1103 342h2v1h-2zM1194 342h1v1h-1zM94 343h1v1h-1zM600 343h1v1h-1zM910 343h2v1h-2zM1046 343h1v1h-1zM1070 343h2v1h-2zM1096 343h2v1h-2zM1101 343h2v1h-2zM1194 343h1v1h-1zM93 344h1v1h-1zM601 344h1v1h-1zM909 344h1v1h-1zM1047 344h1v1h-1zM1069 344h1v1h-1zM1098 344h3v1h-3zM1194 344h1v1h-1zM93 345h1v1h-1zM601 345h1v1h-1zM908 345h1v1h-1zM1047 345h1v1h-1zM1068 345h1v1h-1zM1195 345h1v1h-1zM92 346h1v1h-1zM602 346h1v1h-1zM907 346h1v1h-1zM1048 346h1v1h-1zM1067 346h1v1h-1zM1195 346h1v1h-1zM92 347h1v1h-1zM602 347h1v1h-1zM907 347h1v1h-1zM1048 347h1v1h-1zM1066 347h1v1h-1zM1196 347h1v1h-1zM4 348h1v1h-1zM91 348h1v1h-1zM602 348h1v1h-1zM906 348h1v1h-1zM1049 348h1v1h-1zM1065 348h1v1h-1zM1196 348h1v1h-1zM5 349h1v1h-1zM91 349h1v1h-1zM603 349h1v1h-1zM906 349h1v1h-1zM1049 349h1v1h-1zM1064 349h1v1h-1zM1196 349h1v1h-1zM5 350h1v1h-1zM91 350h1v1h-1zM603 350h1v1h-1zM905 350h1v1h-1zM1050 350h1v1h-1zM1063 350h1v1h-1zM1197 350h1v1h-1zM6 351h1v1h-1zM90 351h1v1h-1zM604 351h1v1h-1zM905 351h1v1h-1zM1051 351h1v1h-1zM1062 351h1v1h-1zM1197 351h1v1h-1zM6 352h1v1h-1zM90 352h1v1h-1zM604 352h1v1h-1zM904 352h1v1h-1zM1051 352h1v1h-1zM1061 352h1v1h-1zM1198 352h1v1h-1zM7 353h1v1h-1zM89 353h1v1h-1zM604 353h1v1h-1zM902 353h2v1h-2zM1052 353h2v1h-2zM1058 353h3v1h-3zM1198 353h1v1h-1zM7 354h1v1h-1zM89 354h1v1h-1zM605 354h1v1h-1zM901 354h1v1h-1zM1054 354h4v1h-4zM1198 354h1v1h-1zM8 355h1v1h-1zM89 355h1v1h-1zM605 355h1v1h-1zM900 355h1v1h-1zM1199 355h1v1h-1zM8 356h1v1h-1zM88 356h1v1h-1zM606 356h1v1h-1zM898 356h2v1h-2zM1199 356h1v1h-1zM9 357h1v1h-1zM88 357h1v1h-1zM606 357h1v1h-1zM897 357h1v1h-1zM1200 357h1v1h-1zM10 358h2v1h-2zM88 358h1v1h-1zM607 358h1v1h-1zM895 358h2v1h-2zM1200 358h1v1h-1zM12 359h1v1h-1zM87 359h1v1h-1zM607 359h1v1h-1zM893 359h2v1h-2zM1200 359h1v1h-1zM13 360h1v1h-1zM87 360h1v1h-1zM608 360h1v1h-1zM890 360h3v1h-3zM1201 360h1v1h-1zM14 361h1v1h-1zM86 361h1v1h-1zM608 361h1v1h-1zM888 361h2v1h-2zM1201 361h1v1h-1zM15 362h1v1h-1zM86 362h1v1h-1zM608 362h1v1h-1zM886 362h2v1h-2zM1202 362h1v1h-1zM16 363h1v1h-1zM85 363h1v1h-1zM609 363h1v1h-1zM885 363h1v1h-1zM1202 363h1v1h-1zM17 364h1v1h-1zM85 364h1v1h-1zM609 364h1v1h-1zM884 364h1v1h-1zM1203 364h1v1h-1zM18 365h1v1h-1zM84 365h1v1h-1zM610 365h1v1h-1zM883 365h1v1h-1zM1203 365h1v1h-1zM18 366h1v1h-1zM84 366h1v1h-1zM610 366h1v1h-1zM883 366h1v1h-1zM1204 366h1v1h-1zM19 367h1v1h-1zM83 367h1v1h-1zM611 367h1v1h-1zM680 367h9v1h-9zM882 367h1v1h-1zM1204 367h1v1h-1zM20 368h1v1h-1zM83 368h1v1h-1zM611 368h1v1h-1zM680 368h1v1h-1zM689 368h2v1h-2zM736 368h1v1h-1zM881 368h1v1h-1zM1204 368h1v1h-1zM21 369h1v1h-1zM82 369h1v1h-1zM612 369h1v1h-1zM679 369h1v1h-1zM691 369h2v1h-2zM734 369h2v1h-2zM737 369h1v1h-1zM881 369h1v1h-1zM1205 369h1v1h-1zM22 370h1v1h-1zM82 370h1v1h-1zM612 370h1v1h-1zM679 370h1v1h-1zM693 370h2v1h-2zM733 370h1v1h-1zM738 370h2v1h-2zM880 370h1v1h-1zM1205 370h1v1h-1zM22 371h1v1h-1zM81 371h1v1h-1zM612 371h1v1h-1zM678 371h1v1h-1zM695 371h2v1h-2zM732 371h1v1h-1zM740 371h1v1h-1zM879 371h1v1h-1zM1205 371h1v1h-1zM23 372h1v1h-1zM81 372h1v1h-1zM613 372h1v1h-1zM678 372h1v1h-1zM697 372h1v1h-1zM731 372h1v1h-1zM741 372h1v1h-1zM878 372h1v1h-1zM1206 372h1v1h-1zM24 373h1v1h-1zM80 373h1v1h-1zM613 373h1v1h-1zM677 373h1v1h-1zM697 373h1v1h-1zM730 373h1v1h-1zM742 373h2v1h-2zM878 373h1v1h-1zM1206 373h1v1h-1zM25 374h1v1h-1zM80 374h1v1h-1zM614 374h1v1h-1zM677 374h1v1h-1zM698 374h1v1h-1zM729 374h1v1h-1zM744 374h1v1h-1zM877 374h1v1h-1zM1206 374h1v1h-1zM25 375h1v1h-1zM79 375h1v1h-1zM614 375h1v1h-1zM676 375h1v1h-1zM698 375h1v1h-1zM728 375h1v1h-1zM745 375h1v1h-1zM876 375h1v1h-1zM1206 375h1v1h-1zM26 376h1v1h-1zM79 376h1v1h-1zM614 376h1v1h-1zM676 376h1v1h-1zM699 376h1v1h-1zM727 376h1v1h-1zM745 376h1v1h-1zM876 376h1v1h-1zM1207 376h1v1h-1zM27 377h1v1h-1zM78 377h1v1h-1zM615 377h1v1h-1zM675 377h1v1h-1zM699 377h1v1h-1zM726 377h1v1h-1zM746 377h1v1h-1zM875 377h1v1h-1zM1207 377h1v1h-1zM27 378h1v1h-1zM78 378h1v1h-1zM615 378h1v1h-1zM675 378h1v1h-1zM700 378h1v1h-1zM725 378h1v1h-1zM747 378h1v1h-1zM875 378h1v1h-1zM1207 378h1v1h-1zM28 379h1v1h-1zM77 379h1v1h-1zM616 379h1v1h-1zM674 379h1v1h-1zM701 379h1v1h-1zM724 379h1v1h-1zM747 379h1v1h-1zM874 379h1v1h-1zM1208 379h1v1h-1zM29 380h1v1h-1zM77 380h1v1h-1zM616 380h1v1h-1zM673 380h1v1h-1zM702 380h1v1h-1zM723 380h1v1h-1zM748 380h1v1h-1zM874 380h1v1h-1zM1208 380h1v1h-1zM29 381h1v1h-1zM76 381h1v1h-1zM616 381h1v1h-1zM673 381h1v1h-1zM703 381h1v1h-1zM722 381h1v1h-1zM749 381h1v1h-1zM874 381h1v1h-1zM1209 381h1v1h-1zM30 382h1v1h-1zM76 382h1v1h-1zM617 382h1v1h-1zM672 382h1v1h-1zM704 382h1v1h-1zM721 382h1v1h-1zM750 382h2v1h-2zM873 382h1v1h-1zM1209 382h1v1h-1zM31 383h1v1h-1zM75 383h1v1h-1zM617 383h1v1h-1zM671 383h1v1h-1zM705 383h1v1h-1zM720 383h1v1h-1zM752 383h1v1h-1zM873 383h1v1h-1zM1210 383h1v1h-1zM31 384h1v1h-1zM75 384h1v1h-1zM617 384h1v1h-1zM670 384h1v1h-1zM706 384h1v1h-1zM719 384h1v1h-1zM753 384h1v1h-1zM872 384h1v1h-1zM1210 384h1v1h-1zM32 385h1v1h-1zM74 385h1v1h-1zM618 385h1v1h-1zM670 385h1v1h-1zM706 385h1v1h-1zM718 385h1v1h-1zM753 385h1v1h-1zM872 385h1v1h-1zM1211 385h1v1h-1zM33 386h1v1h-1zM74 386h1v1h-1zM618 386h1v1h-1zM669 386h1v1h-1zM707 386h1v1h-1zM717 386h1v1h-1zM754 386h1v1h-1zM872 386h1v1h-1zM1211 386h1v1h-1zM33 387h1v1h-1zM73 387h1v1h-1zM619 387h1v1h-1zM668 387h1v1h-1zM708 387h1v1h-1zM715 387h2v1h-2zM754 387h1v1h-1zM871 387h1v1h-1zM1212 387h1v1h-1zM34 388h1v1h-1zM73 388h1v1h-1zM619 388h1v1h-1zM667 388h1v1h-1zM709 388h2v1h-2zM713 388h2v1h-2zM755 388h1v1h-1zM871 388h1v1h-1zM1212 388h1v1h-1zM34 389h1v1h-1zM72 389h1v1h-1zM619 389h1v1h-1zM666 389h1v1h-1zM711 389h2v1h-2zM755 389h1v1h-1zM870 389h1v1h-1zM1213 389h1v1h-1zM35 390h1v1h-1zM71 390h1v1h-1zM620 390h1v1h-1zM666 390h1v1h-1zM756 390h1v1h-1zM870 390h1v1h-1zM1214 390h1v1h-1zM35 391h1v1h-1zM70 391h1v1h-1zM620 391h1v1h-1zM665 391h1v1h-1zM757 391h1v1h-1zM870 391h1v1h-1zM1214 391h1v1h-1zM36 392h1v1h-1zM69 392h1v1h-1zM620 392h1v1h-1zM664 392h1v1h-1zM757 392h1v1h-1zM869 392h1v1h-1zM1215 392h1v1h-1zM36 393h1v1h-1zM68 393h1v1h-1zM621 393h1v1h-1zM664 393h1v1h-1zM758 393h1v1h-1zM869 393h1v1h-1zM1216 393h1v1h-1zM37 394h1v1h-1zM67 394h1v1h-1zM621 394h1v1h-1zM663 394h1v1h-1zM759 394h1v1h-1zM868 394h1v1h-1zM1217 394h1v1h-1zM37 395h1v1h-1zM66 395h1v1h-1zM621 395h1v1h-1zM663 395h1v1h-1zM759 395h1v1h-1zM868 395h1v1h-1zM1218 395h1v1h-1zM38 396h1v1h-1zM65 396h1v1h-1zM622 396h1v1h-1zM662 396h1v1h-1zM760 396h1v1h-1zM868 396h1v1h-1zM1219 396h1v1h-1zM39 397h1v1h-1zM64 397h1v1h-1zM622 397h1v1h-1zM662 397h1v1h-1zM760 397h1v1h-1zM867 397h1v1h-1zM1220 397h1v1h-1zM39 398h1v1h-1zM64 398h1v1h-1zM622 398h1v1h-1zM662 398h1v1h-1zM761 398h1v1h-1zM867 398h1v1h-1zM1221 398h1v1h-1zM40 399h1v1h-1zM63 399h1v1h-1zM623 399h1v1h-1zM661 399h1v1h-1zM761 399h1v1h-1zM866 399h1v1h-1zM1222 399h2v1h-2zM41 400h1v1h-1zM63 400h1v1h-1zM623 400h1v1h-1zM661 400h1v1h-1zM762 400h1v1h-1zM866 400h1v1h-1zM1224 400h1v1h-1zM42 401h1v1h-1zM62 401h1v1h-1zM623 401h1v1h-1zM660 401h1v1h-1zM762 401h1v1h-1zM866 401h1v1h-1zM1225 401h1v1h-1zM43 402h1v1h-1zM62 402h1v1h-1zM624 402h1v1h-1zM660 402h1v1h-1zM763 402h1v1h-1zM865 402h1v1h-1zM1225 402h1v1h-1zM44 403h1v1h-1zM61 403h1v1h-1zM624 403h1v1h-1zM660 403h1v1h-1zM763 403h1v1h-1zM865 403h1v1h-1zM1226 403h1v1h-1zM45 404h1v1h-1zM61 404h1v1h-1zM624 404h1v1h-1zM659 404h1v1h-1zM764 404h1v1h-1zM864 404h1v1h-1zM1227 404h1v1h-1zM46 405h2v1h-2zM60 405h1v1h-1zM625 405h1v1h-1zM659 405h1v1h-1zM764 405h1v1h-1zM864 405h1v1h-1zM1227 405h1v1h-1zM48 406h1v1h-1zM60 406h1v1h-1zM625 406h1v1h-1zM659 406h1v1h-1zM764 406h1v1h-1zM862 406h2v1h-2zM1228 406h1v1h-1zM49 407h1v1h-1zM58 407h2v1h-2zM626 407h1v1h-1zM658 407h1v1h-1zM765 407h1v1h-1zM861 407h1v1h-1zM1229 407h1v1h-1zM50 408h2v1h-2zM57 408h1v1h-1zM626 408h1v1h-1zM658 408h1v1h-1zM765 408h1v1h-1zM860 408h1v1h-1zM1229 408h1v1h-1zM52 409h5v1h-5zM627 409h1v1h-1zM657 409h1v1h-1zM765 409h1v1h-1zM858 409h2v1h-2zM1230 409h1v1h-1zM627 410h1v1h-1zM657 410h1v1h-1zM766 410h1v1h-1zM857 410h1v1h-1zM1231 410h1v1h-1zM628 411h1v1h-1zM657 411h1v1h-1zM766 411h1v1h-1zM856 411h1v1h-1zM1231 411h1v1h-1zM628 412h1v1h-1zM656 412h1v1h-1zM767 412h1v1h-1zM855 412h1v1h-1zM1232 412h1v1h-1zM629 413h1v1h-1zM656 413h1v1h-1zM767 413h1v1h-1zM854 413h1v1h-1zM1233 413h1v1h-1zM629 414h1v1h-1zM656 414h1v1h-1zM767 414h1v1h-1zM854 414h1v1h-1zM1233 414h1v1h-1zM630 415h1v1h-1zM655 415h1v1h-1zM768 415h1v1h-1zM853 415h1v1h-1zM1234 415h1v1h-1zM630 416h1v1h-1zM655 416h1v1h-1zM768 416h1v1h-1zM850 416h3v1h-3zM1235 416h1v1h-1zM631 417h1v1h-1zM654 417h1v1h-1zM768 417h1v1h-1zM848 417h2v1h-2zM1235 417h1v1h-1zM631 418h1v1h-1zM654 418h1v1h-1zM769 418h1v1h-1zM847 418h1v1h-1zM1236 418h1v1h-1zM632 419h1v1h-1zM654 419h1v1h-1zM769 419h1v1h-1zM846 419h1v1h-1zM1237 419h1v1h-1zM632 420h1v1h-1zM653 420h1v1h-1zM769 420h1v1h-1zM846 420h1v1h-1zM1238 420h2v1h-2zM633 421h1v1h-1zM653 421h1v1h-1zM769 421h1v1h-1zM845 421h1v1h-1zM1240 421h1v1h-1zM633 422h1v1h-1zM652 422h1v1h-1zM770 422h1v1h-1zM844 422h1v1h-1zM1241 422h1v1h-1zM634 423h1v1h-1zM652 423h1v1h-1zM770 423h1v1h-1zM843 423h1v1h-1zM1241 423h1v1h-1zM634 424h1v1h-1zM652 424h1v1h-1zM770 424h1v1h-1zM843 424h1v1h-1zM1242 424h1v1h-1zM635 425h1v1h-1zM651 425h1v1h-1zM770 425h1v1h-1zM842 425h1v1h-1zM1243 425h1v1h-1zM635 426h1v1h-1zM651 426h1v1h-1zM771 426h1v1h-1zM842 426h1v1h-1zM1243 426h1v1h-1zM636 427h1v1h-1zM650 427h1v1h-1zM771 427h1v1h-1zM841 427h1v1h-1zM1244 427h1v1h-1zM636 428h1v1h-1zM650 428h1v1h-1zM771 428h1v1h-1zM841 428h1v1h-1zM1244 428h1v1h-1zM637 429h1v1h-1zM650 429h1v1h-1zM771 429h1v1h-1zM840 429h1v1h-1zM1245 429h1v1h-1zM637 430h1v1h-1zM649 430h1v1h-1zM772 430h1v1h-1zM840 430h1v1h-1zM1245 430h1v1h-1zM638 431h1v1h-1zM649 431h1v1h-1zM772 431h1v1h-1zM839 431h1v1h-1zM1246 431h1v1h-1zM638 432h1v1h-1zM648 432h1v1h-1zM772 432h1v1h-1zM839 432h1v1h-1zM1246 432h1v1h-1zM639 433h1v1h-1zM648 433h1v1h-1zM773 433h1v1h-1zM838 433h1v1h-1zM1247 433h1v1h-1zM639 434h1v1h-1zM647 434h1v1h-1zM773 434h1v1h-1zM838 434h1v1h-1zM1247 434h1v1h-1zM640 435h1v1h-1zM647 435h1v1h-1zM773 435h1v1h-1zM837 435h1v1h-1zM1248 435h1v1h-1zM640 436h1v1h-1zM646 436h1v1h-1zM774 436h1v1h-1zM837 436h1v1h-1zM1248 436h1v1h-1zM641 437h1v1h-1zM645 437h1v1h-1zM774 437h1v1h-1zM836 437h1v1h-1zM1248 437h1v1h-1zM642 438h2v1h-2zM645 438h1v1h-1zM774 438h1v1h-1zM836 438h1v1h-1zM1249 438h1v1h-1zM644 439h1v1h-1zM774 439h1v1h-1zM836 439h1v1h-1zM1249 439h1v1h-1zM775 440h1v1h-1zM835 440h1v1h-1zM1250 440h1v1h-1zM775 441h1v1h-1zM835 441h1v1h-1zM1250 441h1v1h-1zM775 442h1v1h-1zM834 442h1v1h-1zM1251 442h1v1h-1zM776 443h1v1h-1zM834 443h1v1h-1zM1251 443h1v1h-1zM776 444h1v1h-1zM834 444h1v1h-1zM1252 444h1v1h-1zM776 445h1v1h-1zM833 445h1v1h-1zM1252 445h1v1h-1zM777 446h1v1h-1zM833 446h1v1h-1zM1252 446h1v1h-1zM777 447h1v1h-1zM832 447h1v1h-1zM1253 447h1v1h-1zM777 448h1v1h-1zM832 448h1v1h-1zM1253 448h1v1h-1zM778 449h1v1h-1zM831 449h1v1h-1zM1254 449h1v1h-1zM778 450h1v1h-1zM831 450h1v1h-1zM1254 450h1v1h-1zM779 451h1v1h-1zM830 451h1v1h-1zM1254 451h1v1h-1zM779 452h1v1h-1zM830 452h1v1h-1zM1255 452h1v1h-1zM779 453h1v1h-1zM829 453h1v1h-1zM1255 453h1v1h-1zM780 454h1v1h-1zM829 454h1v1h-1zM1256 454h1v1h-1zM780 455h1v1h-1zM828 455h1v1h-1zM1256 455h1v1h-1zM780 456h1v1h-1zM827 456h1v1h-1zM1256 456h1v1h-1zM781 457h1v1h-1zM827 457h1v1h-1zM1257 457h1v1h-1zM781 458h1v1h-1zM826 458h1v1h-1zM1257 458h1v1h-1zM782 459h1v1h-1zM826 459h1v1h-1zM1258 459h1v1h-1zM782 460h1v1h-1zM825 460h1v1h-1zM1258 460h1v1h-1zM782 461h1v1h-1zM825 461h1v1h-1zM1258 461h1v1h-1zM783 462h1v1h-1zM824 462h1v1h-1zM1259 462h1v1h-1zM783 463h1v1h-1zM823 463h1v1h-1zM1259 463h1v1h-1zM784 464h1v1h-1zM823 464h1v1h-1zM1260 464h1v1h-1zM784 465h1v1h-1zM822 465h1v1h-1zM1260 465h1v1h-1zM785 466h1v1h-1zM821 466h1v1h-1zM1261 466h1v1h-1zM785 467h1v1h-1zM821 467h1v1h-1zM1261 467h1v1h-1zM786 468h1v1h-1zM820 468h1v1h-1zM1262 468h1v1h-1zM787 469h1v1h-1zM819 469h1v1h-1zM1262 469h1v1h-1zM787 470h1v1h-1zM818 470h1v1h-1zM1263 470h1v1h-1zM788 471h1v1h-1zM818 471h1v1h-1zM1263 471h1v1h-1zM788 472h1v1h-1zM811 472h3v1h-3zM817 472h1v1h-1zM1264 472h1v1h-1zM789 473h1v1h-1zM809 473h2v1h-2zM814 473h3v1h-3zM1265 473h1v1h-1zM789 474h1v1h-1zM808 474h1v1h-1zM1265 474h1v1h-1zM790 475h1v1h-1zM807 475h1v1h-1zM1266 475h1v1h-1zM790 476h1v1h-1zM806 476h1v1h-1zM1267 476h1v1h-1zM790 477h1v1h-1zM805 477h1v1h-1zM1267 477h1v1h-1zM791 478h1v1h-1zM804 478h1v1h-1zM1268 478h1v1h-1zM791 479h1v1h-1zM803 479h1v1h-1zM1269 479h1v1h-1zM792 480h1v1h-1zM803 480h1v1h-1zM1270 480h1v1h-1zM792 481h2v1h-2zM802 481h1v1h-1zM1271 481h1v1h-1zM794 482h3v1h-3zM801 482h1v1h-1zM1272 482h1v1h-1zM797 483h2v1h-2zM801 483h1v1h-1zM1272 483h1v1h-1zM799 484h2v1h-2zM1273 484h1v1h-1zM1273 485h1v1h-1zM1274 486h1v1h-1zM1274 487h1v1h-1zM1275 488h1v1h-1zM1275 489h1v1h-1zM1276 490h1v1h-1zM1276 491h1v1h-1zM1277 492h1v1h-1zM1277 493h1v1h-1zM1278 494h1v1h-1zM1278 495h1v1h-1zM1279 496h1v1h-1zM1279 497h1v1h-1zM1280 498h1v1h-1zM1281 499h1v1h-1zM1281 500h1v1h-1zM1282 501h1v1h-1zM1282 502h1v1h-1zM1283 503h1v1h-1zM1283 504h1v1h-1zM1284 505h1v1h-1zM1285 506h1v1h-1zM1286 507h1v1h-1zM1286 508h1v1h-1zM1287 509h1v1h-1zM1288 510h1v1h-1zM1289 511h1v1h-1zM1290 512h1v1h-1zM1291 513h1v1h-1zM1292 514h1v1h-1zM1293 515h1v1h-1zM1294 516h1v1h-1zM1294 517h1v1h-1zM1295 518h1v1h-1zM1296 519h1v1h-1zM1297 520h1v1h-1zM1298 521h1v1h-1zM1299 522h1v1h-1zM1300 523h2v1h-2zM1302 524h2v1h-2z" fill="#ff0000" shape-rendering="crispEdges"/>
<path d="M486 132h7v1h-7zM482 133h4v1h-4zM493 133h1v1h-1zM479 134h3v1h-3zM494 134h2v1h-2zM477 135h2v1h-2zM496 135h1v1h-1zM476 136h1v1h-1zM497 136h1v1h-1zM474 137h2v1h-2zM498 137h1v1h-1zM473 138h1v1h-1zM499 138h1v1h-1zM471 139h2v1h-2zM500 139h1v1h-1zM469 140h2v1h-2zM501 140h1v1h-1zM467 141h2v1h-2zM502 141h1v1h-1zM465 142h2v1h-2zM503 142h1v1h-1zM464 143h1v1h-1zM504 143h1v1h-1zM462 144h2v1h-2zM505 144h1v1h-1zM461 145h1v1h-1zM506 145h2v1h-2zM459 146h2v1h-2zM508 146h1v1h-1zM457 147h2v1h-2zM509 147h1v1h-1zM456 148h1v1h-1zM510 148h1v1h-1zM455 149h1v1h-1zM511 149h1v1h-1zM454 150h1v1h-1zM512 150h1v1h-1zM453 151h1v1h-1zM513 151h1v1h-1zM452 152h1v1h-1zM514 152h1v1h-1zM450 153h2v1h-2zM515 153h1v1h-1zM449 154h1v1h-1zM516 154h1v1h-1zM448 155h1v1h-1zM517 155h1v1h-1zM447 156h1v1h-1zM518 156h1v1h-1zM446 157h1v1h-1zM519 157h1v1h-1zM445 158h1v1h-1zM520 158h1v1h-1zM444 159h1v1h-1zM521 159h1v1h-1zM443 160h1v1h-1zM522 160h1v1h-1zM443 161h1v1h-1zM523 161h1v1h-1zM442 162h1v1h-1zM524 162h1v1h-1zM441 163h1v1h-1zM525 163h1v1h-1zM441 164h1v1h-1zM525 164h1v1h-1zM440 165h1v1h-1zM526 165h1v1h-1zM439 166h1v1h-1zM527 166h1v1h-1zM439 167h1v1h-1zM527 167h1v1h-1zM438 168h1v1h-1zM528 168h1v1h-1zM438 169h1v1h-1zM529 169h1v1h-1zM437 170h1v1h-1zM529 170h1v1h-1zM437 171h1v1h-1zM530 171h1v1h-1zM436 172h1v1h-1zM531 172h1v1h-1zM435 173h1v1h-1zM531 173h1v1h-1zM434 174h1v1h-1zM532 174h1v1h-1zM434 175h1v1h-1zM533 175h1v1h-1zM433 176h1v1h-1zM533 176h1v1h-1zM432 177h1v1h-1zM534 177h1v1h-1zM431 178h1v1h-1zM534 178h1v1h-1zM431 179h1v1h-1zM535 179h1v1h-1zM430 180h1v1h-1zM535 180h1v1h-1zM430 181h1v1h-1zM536 181h1v1h-1zM429 182h1v1h-1zM536 182h1v1h-1zM429 183h1v1h-1zM537 183h1v1h-1zM428 184h1v1h-1zM537 184h1v1h-1zM427 185h1v1h-1zM538 185h1v1h-1zM427 186h1v1h-1zM539 186h1v1h-1zM426 187h1v1h-1zM539 187h1v1h-1zM425 188h1v1h-1zM540 188h1v1h-1zM425 189h1v1h-1zM540 189h1v1h-1zM424 190h1v1h-1zM541 190h1v1h-1zM423 191h1v1h-1zM541 191h1v1h-1zM423 192h1v1h-1zM542 192h1v1h-1zM422 193h1v1h-1zM542 193h1v1h-1zM422 194h1v1h-1zM543 194h1v1h-1zM421 195h1v1h-1zM543 195h1v1h-1zM421 196h1v1h-1zM544 196h1v1h-1zM420 197h1v1h-1zM544 197h1v1h-1zM419 198h1v1h-1zM544 198h1v1h-1zM419 199h1v1h-1zM545 199h1v1h-1zM418 200h1v1h-1zM545 200h1v1h-1zM417 201h1v1h-1zM546 201h1v1h-1zM417 202h1v1h-1zM546 202h1v1h-1zM416 203h1v1h-1zM547 203h1v1h-1zM415 204h1v1h-1zM547 204h1v1h-1zM415 205h1v1h-1zM548 205h1v1h-1zM414 206h1v1h-1zM548 206h1v1h-1zM414 207h1v1h-1zM548 207h1v1h-1zM413 208h1v1h-1zM549 208h1v1h-1zM413 209h1v1h-1zM549 209h1v1h-1zM412 210h1v1h-1zM550 210h1v1h-1zM412 211h1v1h-1zM550 211h1v1h-1zM411 212h1v1h-1zM551 212h1v1h-1zM411 213h1v1h-1zM551 213h1v1h-1zM410 214h1v1h-1zM552 214h1v1h-1zM410 215h1v1h-1zM552 215h1v1h-1zM409 216h1v1h-1zM553 216h1v1h-1zM409 217h1v1h-1zM553 217h1v1h-1zM408 218h1v1h-1zM554 218h1v1h-1zM408 219h1v1h-1zM554 219h1v1h-1zM407 220h1v1h-1zM555 220h1v1h-1zM407 221h1v1h-1zM555 221h1v1h-1zM406 222h1v1h-1zM556 222h1v1h-1zM406 223h1v1h-1zM556 223h1v1h-1zM405 224h1v1h-1zM556 224h1v1h-1zM405 225h1v1h-1zM557 225h1v1h-1zM404 226h1v1h-1zM557 226h1v1h-1zM403 227h1v1h-1zM558 227h1v1h-1zM403 228h1v1h-1zM558 228h1v1h-1zM402 229h1v1h-1zM559 229h1v1h-1zM402 230h1v1h-1zM559 230h1v1h-1zM401 231h1v1h-1zM560 231h1v1h-1zM401 232h1v1h-1zM560 232h1v1h-1zM400 233h1v1h-1zM561 233h1v1h-1zM262 234h4v1h-4zM400 234h1v1h-1zM561 234h1v1h-1zM254 235h8v1h-8zM266 235h3v1h-3zM399 235h1v1h-1zM562 235h1v1h-1zM250 236h4v1h-4zM269 236h2v1h-2zM399 236h1v1h-1zM562 236h1v1h-1zM248 237h2v1h-2zM271 237h2v1h-2zM398 237h1v1h-1zM563 237h1v1h-1zM246 238h2v1h-2zM273 238h1v1h-1zM398 238h1v1h-1zM563 238h1v1h-1zM245 239h1v1h-1zM274 239h2v1h-2zM397 239h1v1h-1zM564 239h1v1h-1zM244 240h1v1h-1zM276 240h1v1h-1zM397 240h1v1h-1zM565 240h1v1h-1zM243 241h1v1h-1zM277 241h1v1h-1zM396 241h1v1h-1zM566 241h1v1h-1zM242 242h1v1h-1zM278 242h1v1h-1zM395 242h1v1h-1zM566 242h1v1h-1zM241 243h1v1h-1zM278 243h1v1h-1zM395 243h1v1h-1zM567 243h1v1h-1zM240 244h1v1h-1zM279 244h1v1h-1zM394 244h1v1h-1zM568 244h1v1h-1zM238 245h2v1h-2zM280 245h1v1h-1zM394 245h1v1h-1zM569 245h1v1h-1zM237 246h1v1h-1zM281 246h1v1h-1zM393 246h1v1h-1zM570 246h1v1h-1zM236 247h1v1h-1zM282 247h2v1h-2zM393 247h1v1h-1zM571 247h1v1h-1zM235 248h1v1h-1zM284 248h1v1h-1zM392 248h1v1h-1zM572 248h1v1h-1zM234 249h1v1h-1zM285 249h1v1h-1zM391 249h1v1h-1zM573 249h1v1h-1zM233 250h1v1h-1zM286 250h2v1h-2zM391 250h1v1h-1zM574 250h1v1h-1zM232 251h1v1h-1zM288 251h1v1h-1zM390 251h1v1h-1zM575 251h1v1h-1zM231 252h1v1h-1zM289 252h1v1h-1zM389 252h1v1h-1zM576 252h1v1h-1zM230 253h1v1h-1zM290 253h1v1h-1zM389 253h1v1h-1zM577 253h2v1h-2zM230 254h1v1h-1zM291 254h1v1h-1zM388 254h1v1h-1zM579 254h2v1h-2zM229 255h1v1h-1zM292 255h1v1h-1zM387 255h1v1h-1zM581 255h1v1h-1zM227 256h2v1h-2zM293 256h2v1h-2zM386 256h1v1h-1zM582 256h2v1h-2zM225 257h2v1h-2zM295 257h2v1h-2zM386 257h1v1h-1zM584 257h1v1h-1zM223 258h2v1h-2zM297 258h2v1h-2zM385 258h1v1h-1zM585 258h1v1h-1zM221 259h2v1h-2zM299 259h3v1h-3zM384 259h1v1h-1zM586 259h1v1h-1zM220 260h1v1h-1zM302 260h4v1h-4zM382 260h2v1h-2zM587 260h1v1h-1zM218 261h2v1h-2zM306 261h4v1h-4zM381 261h1v1h-1zM588 261h1v1h-1zM217 262h1v1h-1zM310 262h4v1h-4zM330 262h12v1h-12zM380 262h1v1h-1zM589 262h1v1h-1zM215 263h2v1h-2zM314 263h8v1h-8zM326 263h4v1h-4zM342 263h4v1h-4zM379 263h1v1h-1zM589 263h1v1h-1zM213 264h2v1h-2zM322 264h4v1h-4zM346 264h4v1h-4zM378 264h1v1h-1zM590 264h1v1h-1zM210 265h3v1h-3zM350 265h3v1h-3zM377 265h1v1h-1zM590 265h1v1h-1zM206 266h4v1h-4zM353 266h2v1h-2zM376 266h1v1h-1zM591 266h1v1h-1zM198 267h8v1h-8zM355 267h3v1h-3zM374 267h2v1h-2zM591 267h1v1h-1zM194 268h4v1h-4zM358 268h3v1h-3zM373 268h1v1h-1zM592 268h1v1h-1zM191 269h3v1h-3zM361 269h2v1h-2zM371 269h2v1h-2zM592 269h1v1h-1zM189 270h2v1h-2zM363 270h3v1h-3zM369 270h2v1h-2zM592 270h1v1h-1zM186 271h3v1h-3zM366 271h3v1h-3zM593 271h1v1h-1zM182 272h4v1h-4zM593 272h1v1h-1zM180 273h2v1h-2zM594 273h1v1h-1zM178 274h2v1h-2zM594 274h1v1h-1zM177 275h1v1h-1zM595 275h1v1h-1zM176 276h1v1h-1zM595 276h1v1h-1zM175 277h1v1h-1zM596 277h1v1h-1zM174 278h1v1h-1zM596 278h1v1h-1zM174 279h1v1h-1zM596 279h1v1h-1zM173 280h1v1h-1zM597 280h1v1h-1zM172 281h1v1h-1zM597 281h1v1h-1zM171 282h1v1h-1zM598 282h1v1h-1zM171 283h1v1h-1zM598 283h1v1h-1zM170 284h1v1h-1zM598 284h1v1h-1zM169 285h1v1h-1zM599 285h1v1h-1zM169 286h1v1h-1zM599 286h1v1h-1zM168 287h1v1h-1zM600 287h1v1h-1zM167 288h1v1h-1zM600 288h1v1h-1zM167 289h1v1h-1zM600 289h1v1h-1zM166 290h1v1h-1zM601 290h1v1h-1zM166 291h1v1h-1zM601 291h1v1h-1zM165 292h1v1h-1zM601 292h1v1h-1zM165 293h1v1h-1zM602 293h1v1h-1zM164 294h1v1h-1zM602 294h1v1h-1zM163 295h1v1h-1zM603 295h1v1h-1zM163 296h1v1h-1zM603 296h1v1h-1zM162 297h1v1h-1zM603 297h1v1h-1zM162 298h1v1h-1zM604 298h1v1h-1zM161 299h1v1h-1zM604 299h1v1h-1zM161 300h1v1h-1zM604 300h1v1h-1zM160 301h1v1h-1zM605 301h1v1h-1zM160 302h1v1h-1zM605 302h1v1h-1zM159 303h1v1h-1zM605 303h1v1h-1zM159 304h1v1h-1zM606 304h1v1h-1zM158 305h1v1h-1zM606 305h1v1h-1zM158 306h1v1h-1zM607 306h1v1h-1zM157 307h1v1h-1zM607 307h1v1h-1zM157 308h1v1h-1zM607 308h1v1h-1zM156 309h1v1h-1zM608 309h1v1h-1zM156 310h1v1h-1zM608 310h1v1h-1zM155 311h1v1h-1zM608 311h1v1h-1zM155 312h1v1h-1zM609 312h1v1h-1zM154 313h1v1h-1zM609 313h1v1h-1zM154 314h1v1h-1zM610 314h1v1h-1zM153 315h1v1h-1zM610 315h1v1h-1zM153 316h1v1h-1zM610 316h1v1h-1zM152 317h1v1h-1zM611 317h1v1h-1zM152 318h1v1h-1zM611 318h1v1h-1zM151 319h1v1h-1zM612 319h1v1h-1zM994 319h4v1h-4zM151 320h1v1h-1zM612 320h1v1h-1zM991 320h3v1h-3zM998 320h4v1h-4zM150 321h1v1h-1zM613 321h1v1h-1zM989 321h2v1h-2zM1002 321h3v1h-3zM150 322h1v1h-1zM613 322h1v1h-1zM987 322h2v1h-2zM1005 322h2v1h-2zM1039 322h6v1h-6zM149 323h1v1h-1zM614 323h1v1h-1zM985 323h2v1h-2zM1007 323h3v1h-3zM1037 323h2v1h-2zM1045 323h2v1h-2zM149 324h1v1h-1zM614 324h1v1h-1zM984 324h1v1h-1zM1010 324h4v1h-4zM1035 324h2v1h-2zM1047 324h3v1h-3zM4 325h1v1h-1zM148 325h1v1h-1zM615 325h1v1h-1zM982 325h2v1h-2zM1014 325h3v1h-3zM1033 325h2v1h-2zM1050 325h3v1h-3zM1151 325h3v1h-3zM1178 325h3v1h-3zM5 326h1v1h-1zM147 326h1v1h-1zM615 326h1v1h-1zM981 326h1v1h-1zM1017 326h2v1h-2zM1026 326h7v1h-7zM1053 326h2v1h-2zM1149 326h2v1h-2zM1154 326h3v1h-3zM1174 326h4v1h-4zM1181 326h2v1h-2zM5 327h1v1h-1zM147 327h1v1h-1zM616 327h1v1h-1zM980 327h1v1h-1zM1019 327h7v1h-7zM1055 327h2v1h-2zM1146 327h3v1h-3zM1157 327h2v1h-2zM1171 327h3v1h-3zM1183 327h2v1h-2zM6 328h1v1h-1zM146 328h1v1h-1zM616 328h1v1h-1zM978 328h2v1h-2zM1057 328h1v1h-1zM1143 328h3v1h-3zM1159 328h3v1h-3zM1169 328h2v1h-2zM1185 328h2v1h-2zM7 329h1v1h-1zM146 329h1v1h-1zM617 329h1v1h-1zM977 329h1v1h-1zM1058 329h2v1h-2zM1141 329h2v1h-2zM1162 329h7v1h-7zM1187 329h2v1h-2zM7 330h1v1h-1zM145 330h1v1h-1zM617 330h1v1h-1zM975 330h2v1h-2zM1060 330h2v1h-2zM1140 330h1v1h-1zM1189 330h2v1h-2zM8 331h1v1h-1zM145 331h1v1h-1zM618 331h1v1h-1zM973 331h2v1h-2zM1062 331h4v1h-4zM1138 331h2v1h-2zM1191 331h2v1h-2zM9 332h1v1h-1zM144 332h1v1h-1zM618 332h1v1h-1zM972 332h1v1h-1zM1066 332h4v1h-4zM1078 332h11v1h-11zM1137 332h1v1h-1zM1193 332h1v1h-1zM10 333h2v1h-2zM143 333h1v1h-1zM619 333h1v1h-1zM971 333h1v1h-1zM1070 333h8v1h-8zM1089 333h2v1h-2zM1135 333h2v1h-2zM1194 333h1v1h-1zM12 334h1v1h-1zM142 334h1v1h-1zM619 334h1v1h-1zM970 334h1v1h-1zM1091 334h2v1h-2zM1133 334h2v1h-2zM1195 334h1v1h-1zM13 335h1v1h-1zM141 335h1v1h-1zM620 335h1v1h-1zM969 335h1v1h-1zM1093 335h2v1h-2zM1132 335h1v1h-1zM1196 335h1v1h-1zM14 336h2v1h-2zM140 336h1v1h-1zM620 336h1v1h-1zM967 336h2v1h-2zM1095 336h2v1h-2zM1131 336h1v1h-1zM1197 336h1v1h-1zM16 337h1v1h-1zM139 337h1v1h-1zM621 337h1v1h-1zM965 337h2v1h-2zM1097 337h2v1h-2zM1130 337h1v1h-1zM1198 337h1v1h-1zM17 338h1v1h-1zM138 338h1v1h-1zM621 338h1v1h-1zM962 338h3v1h-3zM1099 338h2v1h-2zM1129 338h1v1h-1zM1199 338h1v1h-1zM18 339h2v1h-2zM137 339h1v1h-1zM622 339h1v1h-1zM959 339h3v1h-3zM1101 339h2v1h-2zM1128 339h1v1h-1zM1200 339h1v1h-1zM20 340h1v1h-1zM136 340h1v1h-1zM622 340h1v1h-1zM957 340h2v1h-2zM1103 340h2v1h-2zM1126 340h2v1h-2zM1201 340h1v1h-1zM21 341h1v1h-1zM135 341h1v1h-1zM623 341h1v1h-1zM954 341h3v1h-3zM1105 341h1v1h-1zM1125 341h1v1h-1zM1202 341h2v1h-2zM22 342h1v1h-1zM134 342h1v1h-1zM623 342h1v1h-1zM952 342h2v1h-2zM1106 342h2v1h-2zM1124 342h1v1h-1zM1204 342h1v1h-1zM23 343h1v1h-1zM133 343h1v1h-1zM624 343h1v1h-1zM951 343h1v1h-1zM1108 343h1v1h-1zM1122 343h2v1h-2zM1205 343h1v1h-1zM24 344h1v1h-1zM132 344h1v1h-1zM625 344h1v1h-1zM950 344h1v1h-1zM1109 344h1v1h-1zM1121 344h1v1h-1zM1206 344h1v1h-1zM25 345h1v1h-1zM131 345h1v1h-1zM625 345h1v1h-1zM949 345h1v1h-1zM1110 345h2v1h-2zM1119 345h2v1h-2zM1207 345h1v1h-1zM26 346h1v1h-1zM130 346h1v1h-1zM626 346h1v1h-1zM948 346h1v1h-1zM1112 346h2v1h-2zM1117 346h2v1h-2zM1208 346h1v1h-1zM27 347h1v1h-1zM129 347h1v1h-1zM627 347h1v1h-1zM947 347h1v1h-1zM1114 347h3v1h-3zM1209 347h1v1h-1zM28 348h1v1h-1zM128 348h1v1h-1zM627 348h1v1h-1zM946 348h1v1h-1zM1210 348h2v1h-2zM29 349h1v1h-1zM127 349h1v1h-1zM628 349h1v1h-1zM946 349h1v1h-1zM1212 349h1v1h-1zM30 350h1v1h-1zM126 350h1v1h-1zM629 350h1v1h-1zM945 350h1v1h-1zM1213 350h1v1h-1zM31 351h1v1h-1zM126 351h1v1h-1zM629 351h1v1h-1zM944 351h1v1h-1zM1214 351h2v1h-2zM32 352h1v1h-1zM125 352h1v1h-1zM630 352h1v1h-1zM943 352h1v1h-1zM1216 352h1v1h-1zM33 353h1v1h-1zM124 353h1v1h-1zM631 353h1v1h-1zM942 353h1v1h-1zM1217 353h2v1h-2zM34 354h1v1h-1zM123 354h1v1h-1zM631 354h1v1h-1zM941 354h1v1h-1zM1219 354h2v1h-2zM34 355h1v1h-1zM122 355h1v1h-1zM632 355h1v1h-1zM940 355h1v1h-1zM1221 355h2v1h-2zM35 356h1v1h-1zM121 356h1v1h-1zM633 356h1v1h-1zM939 356h1v1h-1zM1223 356h2v1h-2zM36 357h1v1h-1zM119 357h2v1h-2zM633 357h1v1h-1zM938 357h1v1h-1zM1225 357h2v1h-2zM37 358h1v1h-1zM117 358h2v1h-2zM634 358h1v1h-1zM938 358h1v1h-1zM1227 358h2v1h-2zM38 359h1v1h-1zM116 359h1v1h-1zM635 359h1v1h-1zM937 359h1v1h-1zM1229 359h2v1h-2zM39 360h1v1h-1zM114 360h2v1h-2zM635 360h1v1h-1zM936 360h1v1h-1zM1231 360h2v1h-2zM40 361h1v1h-1zM113 361h1v1h-1zM636 361h1v1h-1zM935 361h1v1h-1zM1233 361h1v1h-1zM41 362h1v1h-1zM110 362h3v1h-3zM637 362h1v1h-1zM934 362h1v1h-1zM1234 362h1v1h-1zM42 363h2v1h-2zM108 363h2v1h-2zM637 363h1v1h-1zM934 363h1v1h-1zM1235 363h1v1h-1zM44 364h1v1h-1zM106 364h2v1h-2zM638 364h1v1h-1zM933 364h1v1h-1zM1236 364h1v1h-1zM45 365h2v1h-2zM105 365h1v1h-1zM638 365h1v1h-1zM932 365h1v1h-1zM1237 365h1v1h-1zM47 366h2v1h-2zM102 366h3v1h-3zM639 366h1v1h-1zM931 366h1v1h-1zM1238 366h2v1h-2zM49 367h1v1h-1zM98 367h4v1h-4zM639 367h1v1h-1zM930 367h1v1h-1zM1240 367h1v1h-1zM50 368h2v1h-2zM90 368h8v1h-8zM640 368h1v1h-1zM930 368h1v1h-1zM1241 368h1v1h-1zM52 369h1v1h-1zM82 369h8v1h-8zM641 369h1v1h-1zM929 369h1v1h-1zM1241 369h1v1h-1zM53 370h1v1h-1zM75 370h7v1h-7zM642 370h2v1h-2zM928 370h1v1h-1zM1242 370h1v1h-1zM54 371h2v1h-2zM73 371h2v1h-2zM644 371h1v1h-1zM743 371h2v1h-2zM926 371h2v1h-2zM1243 371h1v1h-1zM56 372h6v1h-6zM66 372h7v1h-7zM645 372h1v1h-1zM741 372h2v1h-2zM745 372h1v1h-1zM925 372h1v1h-1zM1243 372h1v1h-1zM62 373h4v1h-4zM646 373h2v1h-2zM739 373h2v1h-2zM746 373h1v1h-1zM924 373h1v1h-1zM1244 373h1v1h-1zM648 374h2v1h-2zM737 374h2v1h-2zM746 374h1v1h-1zM922 374h2v1h-2zM1245 374h1v1h-1zM650 375h4v1h-4zM736 375h1v1h-1zM747 375h1v1h-1zM921 375h1v1h-1zM1245 375h1v1h-1zM654 376h12v1h-12zM735 376h1v1h-1zM748 376h1v1h-1zM919 376h2v1h-2zM1246 376h1v1h-1zM666 377h4v1h-4zM734 377h1v1h-1zM749 377h2v1h-2zM917 377h2v1h-2zM1246 377h1v1h-1zM670 378h3v1h-3zM734 378h1v1h-1zM751 378h2v1h-2zM916 378h1v1h-1zM1247 378h1v1h-1zM673 379h2v1h-2zM733 379h1v1h-1zM753 379h1v1h-1zM914 379h2v1h-2zM1247 379h1v1h-1zM675 380h3v1h-3zM732 380h1v1h-1zM754 380h1v1h-1zM913 380h1v1h-1zM1248 380h1v1h-1zM678 381h3v1h-3zM731 381h1v1h-1zM755 381h1v1h-1zM912 381h1v1h-1zM1249 381h1v1h-1zM681 382h2v1h-2zM730 382h1v1h-1zM756 382h1v1h-1zM911 382h1v1h-1zM1249 382h1v1h-1zM683 383h2v1h-2zM729 383h1v1h-1zM757 383h1v1h-1zM910 383h1v1h-1zM1250 383h1v1h-1zM685 384h2v1h-2zM728 384h1v1h-1zM758 384h2v1h-2zM909 384h1v1h-1zM1250 384h1v1h-1zM687 385h2v1h-2zM727 385h1v1h-1zM760 385h1v1h-1zM908 385h1v1h-1zM1251 385h1v1h-1zM689 386h1v1h-1zM727 386h1v1h-1zM761 386h1v1h-1zM906 386h2v1h-2zM1251 386h1v1h-1zM690 387h1v1h-1zM726 387h1v1h-1zM761 387h1v1h-1zM905 387h1v1h-1zM1252 387h1v1h-1zM690 388h1v1h-1zM725 388h1v1h-1zM762 388h1v1h-1zM904 388h1v1h-1zM1252 388h1v1h-1zM691 389h1v1h-1zM725 389h1v1h-1zM762 389h1v1h-1zM903 389h1v1h-1zM1252 389h1v1h-1zM692 390h1v1h-1zM724 390h1v1h-1zM763 390h1v1h-1zM902 390h1v1h-1zM1253 390h1v1h-1zM693 391h1v1h-1zM723 391h1v1h-1zM763 391h1v1h-1zM902 391h1v1h-1zM1253 391h1v1h-1zM694 392h1v1h-1zM723 392h1v1h-1zM764 392h1v1h-1zM901 392h1v1h-1zM1254 392h1v1h-1zM694 393h1v1h-1zM722 393h1v1h-1zM765 393h1v1h-1zM900 393h1v1h-1zM1254 393h1v1h-1zM695 394h1v1h-1zM721 394h1v1h-1zM766 394h1v1h-1zM899 394h1v1h-1zM1255 394h1v1h-1zM696 395h1v1h-1zM721 395h1v1h-1zM766 395h1v1h-1zM899 395h1v1h-1zM1255 395h1v1h-1zM697 396h1v1h-1zM720 396h1v1h-1zM767 396h1v1h-1zM898 396h1v1h-1zM1256 396h1v1h-1zM698 397h1v1h-1zM719 397h1v1h-1zM768 397h1v1h-1zM898 397h1v1h-1zM1256 397h1v1h-1zM698 398h1v1h-1zM718 398h1v1h-1zM769 398h1v1h-1zM897 398h1v1h-1zM1256 398h1v1h-1zM699 399h1v1h-1zM718 399h1v1h-1zM769 399h1v1h-1zM897 399h1v1h-1zM1257 399h1v1h-1zM700 400h1v1h-1zM717 400h1v1h-1zM770 400h1v1h-1zM896 400h1v1h-1zM1257 400h1v1h-1zM701 401h1v1h-1zM716 401h1v1h-1zM770 401h1v1h-1zM895 401h1v1h-1zM1258 401h1v1h-1zM702 402h1v1h-1zM715 402h1v1h-1zM771 402h1v1h-1zM894 402h1v1h-1zM1258 402h1v1h-1zM703 403h1v1h-1zM714 403h1v1h-1zM771 403h1v1h-1zM894 403h1v1h-1zM1258 403h1v1h-1zM704 404h1v1h-1zM713 404h1v1h-1zM772 404h1v1h-1zM893 404h1v1h-1zM1259 404h1v1h-1zM705 405h1v1h-1zM711 405h2v1h-2zM772 405h1v1h-1zM892 405h1v1h-1zM1259 405h1v1h-1zM706 406h2v1h-2zM709 406h2v1h-2zM773 406h1v1h-1zM891 406h1v1h-1zM1260 406h1v1h-1zM708 407h1v1h-1zM774 407h1v1h-1zM891 407h1v1h-1zM1260 407h1v1h-1zM774 408h1v1h-1zM890 408h1v1h-1zM1261 408h1v1h-1zM775 409h1v1h-1zM890 409h1v1h-1zM1261 409h1v1h-1zM776 410h1v1h-1zM889 410h1v1h-1zM1262 410h1v1h-1zM777 411h1v1h-1zM889 411h1v1h-1zM1262 411h1v1h-1zM778 412h1v1h-1zM888 412h1v1h-1zM1263 412h1v1h-1zM778 413h1v1h-1zM887 413h1v1h-1zM1263 413h1v1h-1zM779 414h1v1h-1zM886 414h1v1h-1zM1264 414h1v1h-1zM780 415h1v1h-1zM886 415h1v1h-1zM1264 415h1v1h-1zM781 416h1v1h-1zM885 416h1v1h-1zM1264 416h1v1h-1zM782 417h2v1h-2zM884 417h1v1h-1zM1265 417h1v1h-1zM784 418h1v1h-1zM883 418h1v1h-1zM1265 418h1v1h-1zM785 419h2v1h-2zM883 419h1v1h-1zM1266 419h1v1h-1zM787 420h2v1h-2zM882 420h1v1h-1zM1266 420h1v1h-1zM789 421h2v1h-2zM881 421h1v1h-1zM1267 421h1v1h-1zM791 422h3v1h-3zM881 422h1v1h-1zM1267 422h1v1h-1zM794 423h3v1h-3zM880 423h1v1h-1zM1268 423h1v1h-1zM797 424h1v1h-1zM879 424h1v1h-1zM1268 424h1v1h-1zM798 425h2v1h-2zM878 425h1v1h-1zM1269 425h1v1h-1zM800 426h2v1h-2zM877 426h1v1h-1zM1269 426h1v1h-1zM802 427h4v1h-4zM876 427h1v1h-1zM1270 427h1v1h-1zM806 428h3v1h-3zM875 428h1v1h-1zM1270 428h1v1h-1zM809 429h2v1h-2zM875 429h1v1h-1zM1271 429h1v1h-1zM811 430h2v1h-2zM874 430h1v1h-1zM1271 430h1v1h-1zM813 431h1v1h-1zM874 431h1v1h-1zM1272 431h1v1h-1zM814 432h2v1h-2zM873 432h1v1h-1zM1272 432h1v1h-1zM816 433h2v1h-2zM873 433h1v1h-1zM1273 433h1v1h-1zM818 434h4v1h-4zM872 434h1v1h-1zM1273 434h1v1h-1zM822 435h4v1h-4zM870 435h2v1h-2zM1274 435h1v1h-1zM826 436h3v1h-3zM869 436h1v1h-1zM1274 436h1v1h-1zM829 437h2v1h-2zM868 437h1v1h-1zM1275 437h1v1h-1zM831 438h3v1h-3zM867 438h1v1h-1zM1275 438h1v1h-1zM834 439h4v1h-4zM867 439h1v1h-1zM1276 439h1v1h-1zM838 440h8v1h-8zM866 440h1v1h-1zM1277 440h1v1h-1zM846 441h3v1h-3zM865 441h1v1h-1zM1278 441h1v1h-1zM849 442h1v1h-1zM865 442h1v1h-1zM1279 442h1v1h-1zM850 443h2v1h-2zM862 443h3v1h-3zM1280 443h1v1h-1zM852 444h1v1h-1zM859 444h3v1h-3zM1281 444h1v1h-1zM853 445h2v1h-2zM857 445h2v1h-2zM1281 445h1v1h-1zM855 446h2v1h-2zM1282 446h1v1h-1zM1283 447h1v1h-1zM1283 448h1v1h-1zM1284 449h1v1h-1zM1285 450h1v1h-1zM1286 451h1v1h-1zM1287 452h1v1h-1zM1288 453h1v1h-1zM1289 454h1v1h-1zM1289 455h1v1h-1zM1290 456h1v1h-1zM1291 457h1v1h-1zM1291 458h1v1h-1zM1292 459h1v1h-1zM1293 460h1v1h-1zM1294 461h1v1h-1zM1294 462h1v1h-1zM1295 463h1v1h-1zM1296 464h1v1h-1zM1297 465h1v1h-1zM1298 466h1v1h-1zM1298 467h1v1h-1zM1299 468h1v1h-1zM1300 469h1v1h-1zM1301 470h1v1h-1zM1302 471h1v1h-1zM1303 472h1v1h-1z" fill="#0000c8" shape-rendering="crispEdges"/>
<g shape-rendering="crispEdges">
<rect x="4" y="527" width="1636" height="2" fill="#0000ff"/>
<rect x="4" y="154" width="1636" height="2" fill="#ff0000"/>
<rect x="1634" y="152" width="6" height="6" fill="#ff0000"/>
<rect x="1636" y="154" width="2" height="2" fill="#fff"/>
<rect x="3" y="152" width="6" height="6" fill="#ff0000"/>
<rect x="5" y="154" width="2" height="2" fill="#fff"/>
<rect x="4" y="279" width="1636" height="2" fill="#ff0000"/>
<rect x="1634" y="277" width="6" height="6" fill="#ff0000"/>
<rect x="1636" y="279" width="2" height="2" fill="#fff"/>
<rect x="3" y="277" width="6" height="6" fill="#ff0000"/>
<rect x="5" y="279" width="2" height="2" fill="#fff"/>
<rect x="4" y="412" width="1636" height="2" fill="#00ff00"/>
<rect x="1634" y="410" width="6" height="6" fill="#00ff00"/>
<rect x="1636" y="412" width="2" height="2" fill="#fff"/>
<rect x="3" y="410" width="6" height="6" fill="#00ff00"/>
<rect x="5" y="412" width="2" height="2" fill="#fff"/>
</g>
</g>
<g shape-rendering="crispEdges">
<rect x="1641" y="27" width="2" height="1" fill="#000"/>
<rect x="1641" y="60" width="2" height="1" fill="#000"/>
<rect x="1641" y="93" width="2" height="1" fill="#000"/>
<rect x="1641" y="126" width="2" height="1" fill="#000"/>
<rect x="1641" y="159" width="2" height="1" fill="#000"/>
<rect x="1641" y="192" width="2" height="1" fill="#000"/>
<rect x="1641" y="225" width="2" height="1" fill="#000"/>
<rect x="1641" y="258" width="2" height="1" fill="#000"/>
<rect x="1641" y="291" width="2" height="1" fill="#000"/>
<rect x="1641" y="324" width="2" height="1" fill="#000"/>
<rect x="1641" y="357" width="2" height="1" fill="#000"/>
<rect x="1641" y="390" width="2" height="1" fill="#000"/>
<rect x="1641" y="423" width="2" height="1" fill="#000"/>
<rect x="1641" y="456" width="2" height="1" fill="#000"/>
<rect x="1641" y="489" width="2" height="1" fill="#000"/>
<rect x="1641" y="522" width="2" height="1" fill="#000"/>
<rect x="1641" y="555" width="2" height="1" fill="#000"/>
<rect x="1641" y="588" width="2" height="1" fill="#000"/>
</g>
<text x="1646" y="31" font-size="9.5" fill="#000" stroke="#000" stroke-width="0.3" textLength="33" lengthAdjust="spacingAndGlyphs">1.02650</text>
<text x="1646" y="64" font-size="9.5" fill="#000" stroke="#000" stroke-width="0.3" textLength="33" lengthAdjust="spacingAndGlyphs">1.02280</text>
<text x="1646" y="97" font-size="9.5" fill="#000" stroke="#000" stroke-width="0.3" textLength="33" lengthAdjust="spacingAndGlyphs">1.01910</text>
<text x="1646" y="130" font-size="9.5" fill="#000" stroke="#000" stroke-width="0.3" textLength="33" lengthAdjust="spacingAndGlyphs">1.01540</text>
<text x="1646" y="163" font-size="9.5" fill="#000" stroke="#000" stroke-width="0.3" textLength="33" lengthAdjust="spacingAndGlyphs">1.01170</text>
<text x="1646" y="196" font-size="9.5" fill="#000" stroke="#000" stroke-width="0.3" textLength="33" lengthAdjust="spacingAndGlyphs">1.00790</text>
<text x="1646" y="229" font-size="9.5" fill="#000" stroke="#000" stroke-width="0.3" textLength="33" lengthAdjust="spacingAndGlyphs">1.00420</text>
<text x="1646" y="262" font-size="9.5" fill="#000" stroke="#000" stroke-width="0.3" textLength="33" lengthAdjust="spacingAndGlyphs">1.00050</text>
<text x="1646" y="295" font-size="9.5" fill="#000" stroke="#000" stroke-width="0.3" textLength="33" lengthAdjust="spacingAndGlyphs">0.99680</text>
<text x="1646" y="328" font-size="9.5" fill="#000" stroke="#000" stroke-width="0.3" textLength="33" lengthAdjust="spacingAndGlyphs">0.99300</text>
<text x="1646" y="361" font-size="9.5" fill="#000" stroke="#000" stroke-width="0.3" textLength="33" lengthAdjust="spacingAndGlyphs">0.98930</text>
<text x="1646" y="394" font-size="9.5" fill="#000" stroke="#000" stroke-width="0.3" textLength="33" lengthAdjust="spacingAndGlyphs">0.98560</text>
<text x="1646" y="427" font-size="9.5" fill="#000" stroke="#000" stroke-width="0.3" textLength="33" lengthAdjust="spacingAndGlyphs">0.98190</text>
<text x="1646" y="460" font-size="9.5" fill="#000" stroke="#000" stroke-width="0.3" textLength="33" lengthAdjust="spacingAndGlyphs">0.97820</text>
<text x="1646" y="493" font-size="9.5" fill="#000" stroke="#000" stroke-width="0.3" textLength="33" lengthAdjust="spacingAndGlyphs">0.97440</text>
<text x="1646" y="526" font-size="9.5" fill="#000" stroke="#000" stroke-width="0.3" textLength="33" lengthAdjust="spacingAndGlyphs">0.97070</text>
<text x="1646" y="559" font-size="9.5" fill="#000" stroke="#000" stroke-width="0.3" textLength="33" lengthAdjust="spacingAndGlyphs">0.96700</text>
<text x="1646" y="592" font-size="9.5" fill="#000" stroke="#000" stroke-width="0.3" textLength="33" lengthAdjust="spacingAndGlyphs">0.96330</text>
<rect x="1642" y="149" width="40" height="11" fill="#ff0000" shape-rendering="crispEdges"/>
<text x="1646" y="158" font-size="9.5" fill="#fff" stroke="#fff" stroke-width="0.15" textLength="33" lengthAdjust="spacingAndGlyphs">1.01207</text>
<rect x="1642" y="274" width="40" height="11" fill="#ff0000" shape-rendering="crispEdges"/>
<text x="1646" y="283" font-size="9.5" fill="#fff" stroke="#fff" stroke-width="0.15" textLength="33" lengthAdjust="spacingAndGlyphs">0.99800</text>
<rect x="1642" y="407" width="40" height="11" fill="#00ff00" shape-rendering="crispEdges"/>
<text x="1646" y="416" font-size="9.5" fill="#fff" stroke="#fff" stroke-width="0.15" textLength="33" lengthAdjust="spacingAndGlyphs">0.98303</text>
<rect x="1642" y="515" width="40" height="8" fill="#000000" shape-rendering="crispEdges"/>
<text x="1646" y="524" font-size="9.5" fill="#fff" stroke="#fff" stroke-width="0.15" textLength="33" lengthAdjust="spacingAndGlyphs" clip-path="url(#bidclip)">0.97091</text>
<rect x="1642" y="522" width="40" height="11" fill="#0000ff" shape-rendering="crispEdges"/>
<text x="1646" y="531" font-size="9.5" fill="#fff" stroke="#fff" stroke-width="0.15" textLength="33" lengthAdjust="spacingAndGlyphs">0.97009</text>
<defs><clipPath id="bidclip"><rect x="1642" y="515" width="40" height="7"/></clipPath></defs>
<polygon points="7,31 14,31 10.5,35" fill="#000"/>
<text transform="translate(19.3,36) scale(1.031,1)" x="0" y="0" font-size="9.5" fill="#000" stroke="#000" stroke-width="0.3" >USDCHF,Daily</text>
<text transform="translate(90,36) scale(0.967,1)" x="0" y="0" font-size="9.5" fill="#000" stroke="#000" stroke-width="0.3" >0.97077 0.97122 0.96933 0.97091</text>
<g shape-rendering="crispEdges">
<line x1="5" y1="625.5" x2="1640" y2="625.5" stroke="#c0c0c0" stroke-width="1" stroke-dasharray="3,3"/>
<line x1="5" y1="666.5" x2="1640" y2="666.5" stroke="#c0c0c0" stroke-width="1" stroke-dasharray="3,3"/>
</g>
<g clip-path="url(#cr)"><path d="M392 614h1v1h-1zM391 615h2v1h-2zM391 616h1v1h-1zM393 616h1v1h-1zM376 617h2v1h-2zM390 617h1v1h-1zM393 617h1v1h-1zM375 618h1v1h-1zM378 618h3v1h-3zM389 618h1v1h-1zM394 618h1v1h-1zM375 619h1v1h-1zM381 619h1v1h-1zM389 619h1v1h-1zM394 619h1v1h-1zM374 620h1v1h-1zM382 620h2v1h-2zM386 620h3v1h-3zM394 620h1v1h-1zM373 621h1v1h-1zM384 621h2v1h-2zM395 621h1v1h-1zM373 622h1v1h-1zM395 622h1v1h-1zM399 622h2v1h-2zM372 623h1v1h-1zM396 623h3v1h-3zM401 623h1v1h-1zM371 624h1v1h-1zM396 624h1v1h-1zM402 624h2v1h-2zM410 624h7v1h-7zM244 625h1v1h-1zM371 625h1v1h-1zM404 625h6v1h-6zM416 625h1v1h-1zM152 626h6v1h-6zM243 626h2v1h-2zM370 626h1v1h-1zM416 626h1v1h-1zM151 627h1v1h-1zM158 627h4v1h-4zM243 627h1v1h-1zM245 627h1v1h-1zM369 627h1v1h-1zM417 627h1v1h-1zM150 628h1v1h-1zM162 628h3v1h-3zM232 628h1v1h-1zM242 628h1v1h-1zM245 628h1v1h-1zM369 628h1v1h-1zM417 628h1v1h-1zM149 629h1v1h-1zM165 629h1v1h-1zM231 629h1v1h-1zM233 629h2v1h-2zM241 629h1v1h-1zM246 629h1v1h-1zM368 629h1v1h-1zM417 629h1v1h-1zM148 630h1v1h-1zM166 630h1v1h-1zM231 630h1v1h-1zM235 630h3v1h-3zM241 630h1v1h-1zM246 630h1v1h-1zM367 630h1v1h-1zM417 630h1v1h-1zM440 630h1v1h-1zM147 631h1v1h-1zM166 631h1v1h-1zM230 631h1v1h-1zM238 631h3v1h-3zM247 631h1v1h-1zM366 631h1v1h-1zM418 631h1v1h-1zM439 631h1v1h-1zM441 631h1v1h-1zM147 632h1v1h-1zM167 632h1v1h-1zM230 632h1v1h-1zM247 632h1v1h-1zM366 632h1v1h-1zM418 632h1v1h-1zM438 632h1v1h-1zM441 632h1v1h-1zM1150 632h3v1h-3zM76 633h2v1h-2zM130 633h4v1h-4zM146 633h1v1h-1zM168 633h1v1h-1zM229 633h1v1h-1zM248 633h1v1h-1zM365 633h1v1h-1zM418 633h1v1h-1zM438 633h1v1h-1zM442 633h1v1h-1zM900 633h1v1h-1zM940 633h1v1h-1zM1138 633h4v1h-4zM1146 633h4v1h-4zM1152 633h1v1h-1zM74 634h2v1h-2zM78 634h3v1h-3zM108 634h1v1h-1zM128 634h2v1h-2zM134 634h4v1h-4zM145 634h1v1h-1zM169 634h1v1h-1zM229 634h1v1h-1zM248 634h1v1h-1zM364 634h1v1h-1zM418 634h1v1h-1zM424 634h2v1h-2zM437 634h1v1h-1zM442 634h1v1h-1zM838 634h4v1h-4zM876 634h1v1h-1zM898 634h2v1h-2zM901 634h1v1h-1zM940 634h2v1h-2zM1079 634h2v1h-2zM1135 634h3v1h-3zM1142 634h4v1h-4zM1152 634h1v1h-1zM66 635h4v1h-4zM73 635h1v1h-1zM81 635h1v1h-1zM107 635h2v1h-2zM127 635h1v1h-1zM138 635h4v1h-4zM145 635h1v1h-1zM170 635h2v1h-2zM226 635h3v1h-3zM249 635h1v1h-1zM362 635h2v1h-2zM419 635h1v1h-1zM423 635h1v1h-1zM426 635h4v1h-4zM434 635h3v1h-3zM443 635h1v1h-1zM718 635h3v1h-3zM836 635h2v1h-2zM842 635h3v1h-3zM874 635h2v1h-2zM877 635h1v1h-1zM897 635h1v1h-1zM902 635h1v1h-1zM939 635h1v1h-1zM941 635h1v1h-1zM991 635h2v1h-2zM1077 635h2v1h-2zM1081 635h1v1h-1zM1128 635h2v1h-2zM1133 635h2v1h-2zM1153 635h1v1h-1zM64 636h2v1h-2zM70 636h3v1h-3zM82 636h2v1h-2zM106 636h1v1h-1zM109 636h1v1h-1zM126 636h1v1h-1zM142 636h3v1h-3zM172 636h1v1h-1zM224 636h2v1h-2zM249 636h1v1h-1zM351 636h2v1h-2zM361 636h1v1h-1zM419 636h1v1h-1zM423 636h1v1h-1zM430 636h4v1h-4zM443 636h1v1h-1zM716 636h2v1h-2zM721 636h1v1h-1zM835 636h1v1h-1zM845 636h1v1h-1zM868 636h2v1h-2zM873 636h1v1h-1zM877 636h1v1h-1zM894 636h3v1h-3zM902 636h1v1h-1zM939 636h1v1h-1zM942 636h1v1h-1zM948 636h5v1h-5zM982 636h4v1h-4zM989 636h2v1h-2zM993 636h1v1h-1zM1076 636h1v1h-1zM1081 636h1v1h-1zM1126 636h2v1h-2zM1130 636h3v1h-3zM1153 636h1v1h-1zM63 637h1v1h-1zM84 637h2v1h-2zM106 637h1v1h-1zM109 637h1v1h-1zM125 637h1v1h-1zM173 637h1v1h-1zM224 637h1v1h-1zM250 637h1v1h-1zM349 637h2v1h-2zM353 637h1v1h-1zM359 637h2v1h-2zM419 637h1v1h-1zM422 637h1v1h-1zM444 637h1v1h-1zM715 637h1v1h-1zM722 637h1v1h-1zM736 637h1v1h-1zM834 637h1v1h-1zM846 637h1v1h-1zM867 637h1v1h-1zM870 637h3v1h-3zM878 637h1v1h-1zM890 637h4v1h-4zM903 637h1v1h-1zM906 637h3v1h-3zM939 637h1v1h-1zM942 637h1v1h-1zM947 637h1v1h-1zM953 637h1v1h-1zM980 637h2v1h-2zM986 637h3v1h-3zM993 637h1v1h-1zM1074 637h2v1h-2zM1082 637h1v1h-1zM1125 637h1v1h-1zM1153 637h1v1h-1zM62 638h1v1h-1zM86 638h3v1h-3zM105 638h1v1h-1zM109 638h1v1h-1zM124 638h1v1h-1zM174 638h1v1h-1zM223 638h1v1h-1zM250 638h1v1h-1zM348 638h1v1h-1zM354 638h2v1h-2zM357 638h2v1h-2zM419 638h1v1h-1zM422 638h1v1h-1zM444 638h1v1h-1zM651 638h2v1h-2zM714 638h1v1h-1zM722 638h1v1h-1zM735 638h2v1h-2zM833 638h1v1h-1zM846 638h1v1h-1zM866 638h1v1h-1zM878 638h1v1h-1zM887 638h3v1h-3zM904 638h2v1h-2zM909 638h1v1h-1zM938 638h1v1h-1zM943 638h1v1h-1zM946 638h1v1h-1zM954 638h2v1h-2zM978 638h2v1h-2zM994 638h1v1h-1zM1035 638h2v1h-2zM1073 638h1v1h-1zM1082 638h1v1h-1zM1124 638h1v1h-1zM1153 638h1v1h-1zM62 639h1v1h-1zM89 639h1v1h-1zM104 639h1v1h-1zM110 639h1v1h-1zM122 639h2v1h-2zM174 639h1v1h-1zM223 639h1v1h-1zM251 639h1v1h-1zM347 639h1v1h-1zM356 639h1v1h-1zM420 639h2v1h-2zM445 639h1v1h-1zM649 639h2v1h-2zM653 639h2v1h-2zM714 639h1v1h-1zM723 639h1v1h-1zM734 639h1v1h-1zM736 639h1v1h-1zM832 639h1v1h-1zM847 639h1v1h-1zM865 639h1v1h-1zM879 639h1v1h-1zM885 639h2v1h-2zM910 639h2v1h-2zM928 639h1v1h-1zM938 639h1v1h-1zM943 639h1v1h-1zM945 639h1v1h-1zM956 639h2v1h-2zM977 639h1v1h-1zM994 639h1v1h-1zM1033 639h2v1h-2zM1037 639h1v1h-1zM1072 639h1v1h-1zM1083 639h1v1h-1zM1124 639h1v1h-1zM1154 639h1v1h-1zM61 640h1v1h-1zM90 640h2v1h-2zM103 640h1v1h-1zM110 640h1v1h-1zM121 640h1v1h-1zM175 640h1v1h-1zM222 640h1v1h-1zM251 640h1v1h-1zM346 640h1v1h-1zM420 640h2v1h-2zM445 640h1v1h-1zM644 640h5v1h-5zM655 640h2v1h-2zM713 640h1v1h-1zM724 640h2v1h-2zM734 640h1v1h-1zM737 640h1v1h-1zM831 640h1v1h-1zM848 640h1v1h-1zM862 640h3v1h-3zM879 640h1v1h-1zM882 640h3v1h-3zM912 640h1v1h-1zM926 640h2v1h-2zM929 640h2v1h-2zM937 640h1v1h-1zM944 640h1v1h-1zM958 640h4v1h-4zM974 640h3v1h-3zM995 640h1v1h-1zM1030 640h3v1h-3zM1038 640h1v1h-1zM1071 640h1v1h-1zM1083 640h1v1h-1zM1123 640h1v1h-1zM1154 640h1v1h-1zM60 641h1v1h-1zM92 641h2v1h-2zM103 641h1v1h-1zM111 641h1v1h-1zM118 641h3v1h-3zM176 641h1v1h-1zM222 641h1v1h-1zM252 641h1v1h-1zM330 641h3v1h-3zM345 641h1v1h-1zM420 641h1v1h-1zM446 641h1v1h-1zM644 641h1v1h-1zM657 641h1v1h-1zM712 641h1v1h-1zM726 641h4v1h-4zM733 641h1v1h-1zM737 641h1v1h-1zM831 641h1v1h-1zM849 641h1v1h-1zM856 641h6v1h-6zM880 641h2v1h-2zM913 641h1v1h-1zM925 641h1v1h-1zM931 641h2v1h-2zM937 641h1v1h-1zM962 641h4v1h-4zM970 641h4v1h-4zM995 641h1v1h-1zM1028 641h2v1h-2zM1038 641h1v1h-1zM1070 641h1v1h-1zM1084 641h2v1h-2zM1123 641h1v1h-1zM1154 641h1v1h-1zM59 642h1v1h-1zM94 642h3v1h-3zM102 642h1v1h-1zM111 642h1v1h-1zM116 642h2v1h-2zM177 642h1v1h-1zM221 642h1v1h-1zM252 642h5v1h-5zM328 642h2v1h-2zM333 642h2v1h-2zM343 642h2v1h-2zM446 642h1v1h-1zM643 642h1v1h-1zM658 642h1v1h-1zM711 642h1v1h-1zM730 642h3v1h-3zM737 642h1v1h-1zM807 642h2v1h-2zM830 642h1v1h-1zM849 642h1v1h-1zM855 642h1v1h-1zM914 642h1v1h-1zM924 642h1v1h-1zM933 642h1v1h-1zM937 642h1v1h-1zM966 642h4v1h-4zM996 642h1v1h-1zM1026 642h2v1h-2zM1039 642h1v1h-1zM1069 642h1v1h-1zM1086 642h3v1h-3zM1122 642h1v1h-1zM1154 642h1v1h-1zM58 643h1v1h-1zM97 643h1v1h-1zM101 643h1v1h-1zM111 643h1v1h-1zM114 643h2v1h-2zM178 643h1v1h-1zM199 643h2v1h-2zM221 643h1v1h-1zM257 643h1v1h-1zM327 643h1v1h-1zM335 643h3v1h-3zM341 643h2v1h-2zM446 643h1v1h-1zM643 643h1v1h-1zM658 643h1v1h-1zM711 643h1v1h-1zM737 643h1v1h-1zM805 643h2v1h-2zM808 643h1v1h-1zM829 643h1v1h-1zM850 643h1v1h-1zM855 643h1v1h-1zM915 643h1v1h-1zM923 643h1v1h-1zM934 643h3v1h-3zM996 643h1v1h-1zM1025 643h1v1h-1zM1040 643h1v1h-1zM1066 643h3v1h-3zM1088 643h1v1h-1zM1122 643h1v1h-1zM1155 643h1v1h-1zM58 644h1v1h-1zM98 644h2v1h-2zM101 644h1v1h-1zM112 644h2v1h-2zM178 644h1v1h-1zM190 644h4v1h-4zM197 644h2v1h-2zM201 644h1v1h-1zM220 644h1v1h-1zM258 644h1v1h-1zM327 644h1v1h-1zM338 644h3v1h-3zM447 644h1v1h-1zM642 644h1v1h-1zM659 644h1v1h-1zM680 644h1v1h-1zM710 644h1v1h-1zM738 644h1v1h-1zM804 644h1v1h-1zM809 644h1v1h-1zM824 644h2v1h-2zM829 644h1v1h-1zM850 644h1v1h-1zM854 644h1v1h-1zM916 644h1v1h-1zM923 644h1v1h-1zM936 644h1v1h-1zM997 644h1v1h-1zM1024 644h1v1h-1zM1041 644h1v1h-1zM1064 644h2v1h-2zM1089 644h1v1h-1zM1116 644h1v1h-1zM1121 644h1v1h-1zM1155 644h1v1h-1zM57 645h1v1h-1zM100 645h1v1h-1zM112 645h1v1h-1zM179 645h1v1h-1zM186 645h4v1h-4zM194 645h3v1h-3zM201 645h1v1h-1zM216 645h5v1h-5zM258 645h1v1h-1zM316 645h5v1h-5zM326 645h1v1h-1zM447 645h1v1h-1zM642 645h1v1h-1zM660 645h2v1h-2zM679 645h1v1h-1zM681 645h1v1h-1zM710 645h1v1h-1zM738 645h1v1h-1zM796 645h1v1h-1zM802 645h2v1h-2zM809 645h1v1h-1zM822 645h2v1h-2zM826 645h3v1h-3zM851 645h1v1h-1zM853 645h1v1h-1zM917 645h1v1h-1zM922 645h1v1h-1zM997 645h1v1h-1zM1023 645h1v1h-1zM1041 645h1v1h-1zM1064 645h1v1h-1zM1089 645h1v1h-1zM1115 645h1v1h-1zM1117 645h2v1h-2zM1121 645h1v1h-1zM1155 645h1v1h-1zM56 646h1v1h-1zM180 646h6v1h-6zM202 646h1v1h-1zM215 646h1v1h-1zM259 646h1v1h-1zM315 646h1v1h-1zM321 646h1v1h-1zM326 646h1v1h-1zM448 646h1v1h-1zM572 646h5v1h-5zM583 646h2v1h-2zM641 646h1v1h-1zM662 646h3v1h-3zM679 646h1v1h-1zM682 646h2v1h-2zM709 646h1v1h-1zM738 646h1v1h-1zM788 646h1v1h-1zM794 646h2v1h-2zM797 646h2v1h-2zM801 646h1v1h-1zM810 646h1v1h-1zM821 646h1v1h-1zM851 646h1v1h-1zM853 646h1v1h-1zM918 646h1v1h-1zM921 646h1v1h-1zM997 646h1v1h-1zM1022 646h1v1h-1zM1042 646h1v1h-1zM1063 646h1v1h-1zM1090 646h1v1h-1zM1114 646h1v1h-1zM1119 646h2v1h-2zM1155 646h1v1h-1zM56 647h1v1h-1zM203 647h1v1h-1zM214 647h1v1h-1zM260 647h5v1h-5zM315 647h1v1h-1zM322 647h1v1h-1zM325 647h1v1h-1zM448 647h1v1h-1zM456 647h1v1h-1zM512 647h1v1h-1zM572 647h1v1h-1zM577 647h2v1h-2zM581 647h2v1h-2zM585 647h1v1h-1zM634 647h3v1h-3zM641 647h1v1h-1zM665 647h1v1h-1zM678 647h1v1h-1zM684 647h2v1h-2zM709 647h1v1h-1zM738 647h1v1h-1zM787 647h1v1h-1zM789 647h2v1h-2zM793 647h1v1h-1zM799 647h2v1h-2zM810 647h1v1h-1zM820 647h1v1h-1zM852 647h1v1h-1zM919 647h1v1h-1zM921 647h1v1h-1zM997 647h1v1h-1zM1021 647h1v1h-1zM1043 647h1v1h-1zM1063 647h1v1h-1zM1090 647h1v1h-1zM1114 647h1v1h-1zM1156 647h1v1h-1zM14 648h3v1h-3zM55 648h1v1h-1zM203 648h1v1h-1zM213 648h1v1h-1zM265 648h1v1h-1zM314 648h1v1h-1zM323 648h1v1h-1zM325 648h1v1h-1zM449 648h1v1h-1zM454 648h3v1h-3zM474 648h7v1h-7zM488 648h1v1h-1zM512 648h2v1h-2zM519 648h2v1h-2zM571 648h1v1h-1zM579 648h2v1h-2zM585 648h1v1h-1zM628 648h6v1h-6zM637 648h2v1h-2zM640 648h1v1h-1zM665 648h1v1h-1zM678 648h1v1h-1zM686 648h3v1h-3zM706 648h3v1h-3zM739 648h1v1h-1zM786 648h1v1h-1zM791 648h2v1h-2zM810 648h1v1h-1zM819 648h1v1h-1zM920 648h1v1h-1zM998 648h1v1h-1zM1020 648h1v1h-1zM1043 648h1v1h-1zM1063 648h1v1h-1zM1091 648h1v1h-1zM1113 648h1v1h-1zM1156 648h1v1h-1zM12 649h2v1h-2zM17 649h1v1h-1zM48 649h1v1h-1zM55 649h1v1h-1zM204 649h1v1h-1zM212 649h1v1h-1zM266 649h1v1h-1zM314 649h1v1h-1zM324 649h1v1h-1zM450 649h2v1h-2zM453 649h1v1h-1zM457 649h1v1h-1zM472 649h2v1h-2zM481 649h1v1h-1zM487 649h1v1h-1zM489 649h1v1h-1zM511 649h1v1h-1zM514 649h2v1h-2zM517 649h2v1h-2zM521 649h1v1h-1zM571 649h1v1h-1zM586 649h1v1h-1zM628 649h1v1h-1zM639 649h2v1h-2zM666 649h1v1h-1zM677 649h1v1h-1zM689 649h1v1h-1zM704 649h2v1h-2zM739 649h1v1h-1zM785 649h1v1h-1zM811 649h1v1h-1zM818 649h1v1h-1zM998 649h1v1h-1zM1018 649h2v1h-2zM1044 649h1v1h-1zM1062 649h1v1h-1zM1091 649h1v1h-1zM1112 649h1v1h-1zM1156 649h1v1h-1zM1172 649h1v1h-1zM12 650h1v1h-1zM18 650h1v1h-1zM46 650h2v1h-2zM49 650h1v1h-1zM54 650h1v1h-1zM205 650h1v1h-1zM211 650h1v1h-1zM267 650h1v1h-1zM313 650h1v1h-1zM452 650h1v1h-1zM457 650h1v1h-1zM470 650h2v1h-2zM482 650h1v1h-1zM486 650h1v1h-1zM490 650h2v1h-2zM511 650h1v1h-1zM516 650h1v1h-1zM521 650h1v1h-1zM570 650h1v1h-1zM587 650h1v1h-1zM628 650h1v1h-1zM667 650h1v1h-1zM677 650h1v1h-1zM689 650h1v1h-1zM703 650h1v1h-1zM739 650h1v1h-1zM784 650h1v1h-1zM811 650h1v1h-1zM818 650h1v1h-1zM998 650h1v1h-1zM1017 650h1v1h-1zM1045 650h1v1h-1zM1062 650h1v1h-1zM1092 650h1v1h-1zM1100 650h5v1h-5zM1111 650h1v1h-1zM1156 650h1v1h-1zM1171 650h1v1h-1zM1173 650h2v1h-2zM11 651h1v1h-1zM18 651h1v1h-1zM45 651h1v1h-1zM50 651h1v1h-1zM54 651h1v1h-1zM205 651h1v1h-1zM211 651h1v1h-1zM268 651h2v1h-2zM308 651h2v1h-2zM313 651h1v1h-1zM458 651h1v1h-1zM469 651h1v1h-1zM482 651h1v1h-1zM486 651h1v1h-1zM492 651h1v1h-1zM510 651h1v1h-1zM522 651h1v1h-1zM570 651h1v1h-1zM587 651h1v1h-1zM627 651h1v1h-1zM667 651h1v1h-1zM674 651h3v1h-3zM690 651h1v1h-1zM703 651h1v1h-1zM739 651h1v1h-1zM783 651h1v1h-1zM812 651h1v1h-1zM817 651h1v1h-1zM998 651h1v1h-1zM1016 651h1v1h-1zM1045 651h1v1h-1zM1061 651h1v1h-1zM1092 651h1v1h-1zM1098 651h2v1h-2zM1105 651h1v1h-1zM1110 651h1v1h-1zM1157 651h1v1h-1zM1171 651h1v1h-1zM1175 651h2v1h-2zM11 652h1v1h-1zM19 652h1v1h-1zM22 652h3v1h-3zM44 652h1v1h-1zM50 652h1v1h-1zM53 652h1v1h-1zM206 652h1v1h-1zM210 652h1v1h-1zM270 652h3v1h-3zM306 652h2v1h-2zM310 652h3v1h-3zM458 652h1v1h-1zM464 652h5v1h-5zM483 652h1v1h-1zM485 652h1v1h-1zM493 652h1v1h-1zM510 652h1v1h-1zM522 652h1v1h-1zM569 652h1v1h-1zM588 652h1v1h-1zM627 652h1v1h-1zM668 652h6v1h-6zM691 652h1v1h-1zM702 652h1v1h-1zM740 652h1v1h-1zM782 652h1v1h-1zM812 652h5v1h-5zM999 652h1v1h-1zM1015 652h1v1h-1zM1046 652h1v1h-1zM1061 652h1v1h-1zM1093 652h2v1h-2zM1097 652h1v1h-1zM1106 652h1v1h-1zM1110 652h1v1h-1zM1157 652h1v1h-1zM1170 652h1v1h-1zM1177 652h1v1h-1zM1290 652h4v1h-4zM11 653h1v1h-1zM20 653h2v1h-2zM25 653h1v1h-1zM43 653h1v1h-1zM51 653h1v1h-1zM53 653h1v1h-1zM207 653h1v1h-1zM209 653h1v1h-1zM273 653h1v1h-1zM305 653h1v1h-1zM459 653h1v1h-1zM463 653h1v1h-1zM484 653h1v1h-1zM493 653h1v1h-1zM509 653h1v1h-1zM523 653h1v1h-1zM569 653h1v1h-1zM588 653h1v1h-1zM627 653h1v1h-1zM691 653h1v1h-1zM701 653h1v1h-1zM740 653h1v1h-1zM776 653h2v1h-2zM781 653h1v1h-1zM999 653h1v1h-1zM1014 653h1v1h-1zM1046 653h1v1h-1zM1061 653h1v1h-1zM1095 653h2v1h-2zM1107 653h1v1h-1zM1109 653h1v1h-1zM1158 653h1v1h-1zM1169 653h1v1h-1zM1178 653h2v1h-2zM1288 653h2v1h-2zM1294 653h3v1h-3zM11 654h1v1h-1zM25 654h1v1h-1zM42 654h1v1h-1zM52 654h1v1h-1zM207 654h1v1h-1zM209 654h1v1h-1zM274 654h1v1h-1zM303 654h2v1h-2zM459 654h1v1h-1zM462 654h1v1h-1zM494 654h1v1h-1zM509 654h1v1h-1zM523 654h1v1h-1zM568 654h1v1h-1zM589 654h1v1h-1zM627 654h1v1h-1zM692 654h6v1h-6zM701 654h1v1h-1zM740 654h5v1h-5zM775 654h1v1h-1zM778 654h3v1h-3zM999 654h1v1h-1zM1014 654h1v1h-1zM1047 654h1v1h-1zM1060 654h1v1h-1zM1108 654h1v1h-1zM1158 654h1v1h-1zM1164 654h2v1h-2zM1169 654h1v1h-1zM1180 654h1v1h-1zM1223 654h3v1h-3zM1240 654h1v1h-1zM1287 654h1v1h-1zM1297 654h1v1h-1zM10 655h1v1h-1zM26 655h1v1h-1zM41 655h1v1h-1zM208 655h1v1h-1zM274 655h1v1h-1zM301 655h2v1h-2zM460 655h2v1h-2zM494 655h1v1h-1zM508 655h1v1h-1zM524 655h1v1h-1zM564 655h5v1h-5zM589 655h1v1h-1zM626 655h1v1h-1zM698 655h3v1h-3zM744 655h1v1h-1zM752 655h1v1h-1zM760 655h1v1h-1zM775 655h1v1h-1zM999 655h1v1h-1zM1013 655h1v1h-1zM1047 655h1v1h-1zM1059 655h2v1h-2zM1158 655h1v1h-1zM1163 655h1v1h-1zM1166 655h3v1h-3zM1181 655h1v1h-1zM1190 655h3v1h-3zM1221 655h2v1h-2zM1226 655h3v1h-3zM1239 655h1v1h-1zM1241 655h1v1h-1zM1286 655h1v1h-1zM1298 655h2v1h-2zM1302 655h2v1h-2zM10 656h1v1h-1zM27 656h1v1h-1zM40 656h1v1h-1zM275 656h1v1h-1zM298 656h3v1h-3zM460 656h1v1h-1zM495 656h1v1h-1zM507 656h1v1h-1zM525 656h1v1h-1zM563 656h1v1h-1zM589 656h1v1h-1zM626 656h1v1h-1zM745 656h1v1h-1zM752 656h2v1h-2zM759 656h1v1h-1zM761 656h1v1h-1zM774 656h1v1h-1zM1000 656h1v1h-1zM1012 656h1v1h-1zM1048 656h2v1h-2zM1057 656h2v1h-2zM1159 656h1v1h-1zM1162 656h1v1h-1zM1182 656h2v1h-2zM1186 656h4v1h-4zM1193 656h1v1h-1zM1220 656h1v1h-1zM1229 656h2v1h-2zM1238 656h1v1h-1zM1241 656h1v1h-1zM1280 656h1v1h-1zM1286 656h1v1h-1zM1300 656h2v1h-2zM10 657h1v1h-1zM27 657h1v1h-1zM39 657h1v1h-1zM276 657h1v1h-1zM296 657h2v1h-2zM495 657h1v1h-1zM507 657h1v1h-1zM526 657h2v1h-2zM562 657h1v1h-1zM589 657h1v1h-1zM626 657h1v1h-1zM745 657h1v1h-1zM751 657h1v1h-1zM753 657h1v1h-1zM759 657h1v1h-1zM762 657h2v1h-2zM766 657h3v1h-3zM773 657h1v1h-1zM1000 657h1v1h-1zM1011 657h1v1h-1zM1050 657h7v1h-7zM1159 657h1v1h-1zM1162 657h1v1h-1zM1184 657h2v1h-2zM1193 657h1v1h-1zM1200 657h2v1h-2zM1219 657h1v1h-1zM1231 657h3v1h-3zM1237 657h1v1h-1zM1242 657h1v1h-1zM1280 657h3v1h-3zM1285 657h1v1h-1zM4 658h1v1h-1zM9 658h1v1h-1zM28 658h5v1h-5zM39 658h1v1h-1zM277 658h1v1h-1zM295 658h1v1h-1zM496 658h1v1h-1zM506 658h1v1h-1zM528 658h2v1h-2zM561 658h1v1h-1zM590 658h1v1h-1zM626 658h1v1h-1zM746 658h1v1h-1zM751 658h1v1h-1zM754 658h1v1h-1zM758 658h1v1h-1zM764 658h2v1h-2zM769 658h2v1h-2zM773 658h1v1h-1zM1001 658h2v1h-2zM1010 658h1v1h-1zM1160 658h2v1h-2zM1194 658h1v1h-1zM1199 658h1v1h-1zM1202 658h3v1h-3zM1219 658h1v1h-1zM1234 658h3v1h-3zM1242 658h1v1h-1zM1279 658h1v1h-1zM1283 658h2v1h-2zM5 659h1v1h-1zM9 659h1v1h-1zM33 659h1v1h-1zM38 659h1v1h-1zM277 659h1v1h-1zM286 659h3v1h-3zM295 659h1v1h-1zM497 659h2v1h-2zM505 659h1v1h-1zM530 659h3v1h-3zM560 659h1v1h-1zM590 659h1v1h-1zM626 659h1v1h-1zM746 659h1v1h-1zM750 659h1v1h-1zM755 659h1v1h-1zM757 659h1v1h-1zM771 659h2v1h-2zM1003 659h3v1h-3zM1009 659h1v1h-1zM1160 659h1v1h-1zM1195 659h1v1h-1zM1198 659h1v1h-1zM1205 659h1v1h-1zM1212 659h1v1h-1zM1218 659h1v1h-1zM1243 659h1v1h-1zM1272 659h1v1h-1zM1279 659h1v1h-1zM6 660h1v1h-1zM9 660h1v1h-1zM34 660h1v1h-1zM37 660h1v1h-1zM278 660h1v1h-1zM284 660h2v1h-2zM289 660h1v1h-1zM294 660h1v1h-1zM499 660h3v1h-3zM505 660h1v1h-1zM533 660h1v1h-1zM559 660h1v1h-1zM590 660h1v1h-1zM625 660h1v1h-1zM746 660h1v1h-1zM750 660h1v1h-1zM755 660h1v1h-1zM757 660h1v1h-1zM1006 660h3v1h-3zM1195 660h1v1h-1zM1197 660h1v1h-1zM1205 660h1v1h-1zM1211 660h1v1h-1zM1213 660h1v1h-1zM1218 660h1v1h-1zM1243 660h1v1h-1zM1270 660h2v1h-2zM1273 660h1v1h-1zM1278 660h1v1h-1zM6 661h1v1h-1zM9 661h1v1h-1zM35 661h1v1h-1zM37 661h1v1h-1zM278 661h1v1h-1zM283 661h1v1h-1zM290 661h1v1h-1zM293 661h1v1h-1zM502 661h3v1h-3zM533 661h1v1h-1zM558 661h1v1h-1zM591 661h1v1h-1zM625 661h1v1h-1zM747 661h1v1h-1zM749 661h1v1h-1zM756 661h1v1h-1zM1196 661h1v1h-1zM1206 661h1v1h-1zM1210 661h1v1h-1zM1214 661h1v1h-1zM1217 661h1v1h-1zM1244 661h1v1h-1zM1269 661h1v1h-1zM1274 661h1v1h-1zM1278 661h1v1h-1zM7 662h2v1h-2zM36 662h1v1h-1zM279 662h1v1h-1zM282 662h1v1h-1zM291 662h1v1h-1zM293 662h1v1h-1zM534 662h1v1h-1zM558 662h1v1h-1zM591 662h1v1h-1zM625 662h1v1h-1zM747 662h1v1h-1zM749 662h1v1h-1zM1207 662h1v1h-1zM1210 662h1v1h-1zM1215 662h1v1h-1zM1217 662h1v1h-1zM1244 662h1v1h-1zM1268 662h1v1h-1zM1274 662h1v1h-1zM1277 662h1v1h-1zM8 663h1v1h-1zM279 663h1v1h-1zM281 663h1v1h-1zM292 663h1v1h-1zM535 663h1v1h-1zM557 663h1v1h-1zM591 663h1v1h-1zM625 663h1v1h-1zM748 663h1v1h-1zM1207 663h1v1h-1zM1209 663h1v1h-1zM1216 663h1v1h-1zM1245 663h1v1h-1zM1267 663h1v1h-1zM1275 663h1v1h-1zM1277 663h1v1h-1zM280 664h1v1h-1zM535 664h1v1h-1zM556 664h1v1h-1zM591 664h1v1h-1zM614 664h4v1h-4zM624 664h1v1h-1zM748 664h1v1h-1zM1208 664h1v1h-1zM1246 664h2v1h-2zM1266 664h1v1h-1zM1276 664h1v1h-1zM536 665h1v1h-1zM556 665h1v1h-1zM592 665h1v1h-1zM612 665h2v1h-2zM618 665h4v1h-4zM624 665h1v1h-1zM1248 665h1v1h-1zM1265 665h1v1h-1zM537 666h2v1h-2zM555 666h1v1h-1zM592 666h1v1h-1zM611 666h1v1h-1zM622 666h3v1h-3zM1249 666h1v1h-1zM1264 666h1v1h-1zM539 667h2v1h-2zM555 667h1v1h-1zM593 667h1v1h-1zM611 667h1v1h-1zM1250 667h1v1h-1zM1263 667h1v1h-1zM541 668h1v1h-1zM554 668h1v1h-1zM594 668h2v1h-2zM610 668h1v1h-1zM1251 668h1v1h-1zM1262 668h1v1h-1zM542 669h2v1h-2zM554 669h1v1h-1zM596 669h2v1h-2zM610 669h1v1h-1zM1252 669h2v1h-2zM1261 669h1v1h-1zM544 670h2v1h-2zM553 670h1v1h-1zM598 670h3v1h-3zM609 670h1v1h-1zM1254 670h7v1h-7zM546 671h4v1h-4zM553 671h1v1h-1zM601 671h1v1h-1zM609 671h1v1h-1zM550 672h3v1h-3zM602 672h2v1h-2zM606 672h3v1h-3zM604 673h2v1h-2z" fill="#1e90ff" shape-rendering="crispEdges"/></g>
<text transform="translate(8,607) scale(0.975,1)" x="0" y="0" font-size="9.5" fill="#000" stroke="#000" stroke-width="0.3" >RSI(14) 40.2309</text>
<rect x="1641" y="595" width="2" height="1" fill="#000" shape-rendering="crispEdges"/>
<rect x="1641" y="625" width="2" height="1" fill="#000" shape-rendering="crispEdges"/>
<rect x="1641" y="666" width="2" height="1" fill="#000" shape-rendering="crispEdges"/>
<rect x="1641" y="697" width="2" height="1" fill="#000" shape-rendering="crispEdges"/>
<text transform="translate(1644,604) scale(0.9,1)" x="0" y="0" font-size="9.5" fill="#000" stroke="#000" stroke-width="0.3" >100</text>
<text transform="translate(1644,629) scale(0.9,1)" x="0" y="0" font-size="9.5" fill="#000" stroke="#000" stroke-width="0.3" >70</text>
<text transform="translate(1644,670) scale(0.9,1)" x="0" y="0" font-size="9.5" fill="#000" stroke="#000" stroke-width="0.3" >30</text>
<text transform="translate(1644,694) scale(0.9,1)" x="0" y="0" font-size="9.5" fill="#000" stroke="#000" stroke-width="0.3" >0</text>
<g shape-rendering="crispEdges" fill="#c0c0c0" clip-path="url(#cd)">
<rect x="4" y="745" width="1" height="19"/>
<rect x="8" y="745" width="1" height="23"/>
<rect x="12" y="745" width="1" height="21"/>
<rect x="16" y="745" width="1" height="18"/>
<rect x="20" y="745" width="1" height="19"/>
<rect x="24" y="745" width="1" height="18"/>
<rect x="28" y="745" width="1" height="20"/>
<rect x="32" y="745" width="1" height="22"/>
<rect x="36" y="745" width="1" height="26"/>
<rect x="40" y="745" width="1" height="26"/>
<rect x="44" y="745" width="1" height="25"/>
<rect x="48" y="745" width="1" height="23"/>
<rect x="52" y="745" width="1" height="23"/>
<rect x="56" y="745" width="1" height="20"/>
<rect x="60" y="745" width="1" height="14"/>
<rect x="64" y="745" width="1" height="8"/>
<rect x="68" y="745" width="1" height="2"/>
<rect x="72" y="742" width="1" height="4"/>
<rect x="76" y="737" width="1" height="9"/>
<rect x="80" y="733" width="1" height="13"/>
<rect x="84" y="731" width="1" height="15"/>
<rect x="88" y="731" width="1" height="15"/>
<rect x="92" y="731" width="1" height="15"/>
<rect x="96" y="732" width="1" height="14"/>
<rect x="100" y="734" width="1" height="12"/>
<rect x="104" y="733" width="1" height="13"/>
<rect x="108" y="731" width="1" height="15"/>
<rect x="112" y="733" width="1" height="13"/>
<rect x="116" y="733" width="1" height="13"/>
<rect x="120" y="733" width="1" height="13"/>
<rect x="124" y="732" width="1" height="14"/>
<rect x="128" y="730" width="1" height="16"/>
<rect x="132" y="727" width="1" height="19"/>
<rect x="136" y="726" width="1" height="20"/>
<rect x="140" y="725" width="1" height="21"/>
<rect x="144" y="725" width="1" height="21"/>
<rect x="148" y="723" width="1" height="23"/>
<rect x="152" y="720" width="1" height="26"/>
<rect x="156" y="717" width="1" height="29"/>
<rect x="160" y="716" width="1" height="30"/>
<rect x="164" y="715" width="1" height="31"/>
<rect x="168" y="716" width="1" height="30"/>
<rect x="172" y="718" width="1" height="28"/>
<rect x="176" y="721" width="1" height="25"/>
<rect x="180" y="725" width="1" height="21"/>
<rect x="184" y="728" width="1" height="18"/>
<rect x="188" y="731" width="1" height="15"/>
<rect x="192" y="733" width="1" height="13"/>
<rect x="196" y="734" width="1" height="12"/>
<rect x="200" y="736" width="1" height="10"/>
<rect x="204" y="738" width="1" height="8"/>
<rect x="208" y="741" width="1" height="5"/>
<rect x="212" y="743" width="1" height="3"/>
<rect x="216" y="743" width="1" height="3"/>
<rect x="220" y="743" width="1" height="3"/>
<rect x="224" y="741" width="1" height="5"/>
<rect x="228" y="739" width="1" height="7"/>
<rect x="232" y="735" width="1" height="11"/>
<rect x="236" y="733" width="1" height="13"/>
<rect x="240" y="731" width="1" height="15"/>
<rect x="244" y="728" width="1" height="18"/>
<rect x="248" y="727" width="1" height="19"/>
<rect x="252" y="729" width="1" height="17"/>
<rect x="256" y="730" width="1" height="16"/>
<rect x="260" y="733" width="1" height="13"/>
<rect x="264" y="735" width="1" height="11"/>
<rect x="268" y="738" width="1" height="8"/>
<rect x="272" y="741" width="1" height="5"/>
<rect x="276" y="745" width="1" height="1"/>
<rect x="280" y="745" width="1" height="6"/>
<rect x="284" y="745" width="1" height="10"/>
<rect x="288" y="745" width="1" height="12"/>
<rect x="292" y="745" width="1" height="16"/>
<rect x="296" y="745" width="1" height="17"/>
<rect x="300" y="745" width="1" height="17"/>
<rect x="304" y="745" width="1" height="17"/>
<rect x="308" y="745" width="1" height="16"/>
<rect x="312" y="745" width="1" height="15"/>
<rect x="316" y="745" width="1" height="13"/>
<rect x="320" y="745" width="1" height="11"/>
<rect x="324" y="745" width="1" height="10"/>
<rect x="328" y="745" width="1" height="8"/>
<rect x="332" y="745" width="1" height="6"/>
<rect x="336" y="745" width="1" height="4"/>
<rect x="340" y="745" width="1" height="3"/>
<rect x="344" y="745" width="1" height="2"/>
<rect x="348" y="744" width="1" height="2"/>
<rect x="352" y="742" width="1" height="4"/>
<rect x="356" y="741" width="1" height="5"/>
<rect x="360" y="740" width="1" height="6"/>
<rect x="364" y="738" width="1" height="8"/>
<rect x="368" y="735" width="1" height="11"/>
<rect x="372" y="732" width="1" height="14"/>
<rect x="376" y="725" width="1" height="21"/>
<rect x="380" y="721" width="1" height="25"/>
<rect x="384" y="718" width="1" height="28"/>
<rect x="388" y="716" width="1" height="30"/>
<rect x="392" y="710" width="1" height="36"/>
<rect x="396" y="709" width="1" height="37"/>
<rect x="400" y="707" width="1" height="39"/>
<rect x="404" y="706" width="1" height="40"/>
<rect x="408" y="706" width="1" height="40"/>
<rect x="412" y="706" width="1" height="40"/>
<rect x="416" y="707" width="1" height="39"/>
<rect x="420" y="711" width="1" height="35"/>
<rect x="424" y="712" width="1" height="34"/>
<rect x="428" y="714" width="1" height="32"/>
<rect x="432" y="716" width="1" height="30"/>
<rect x="436" y="717" width="1" height="29"/>
<rect x="440" y="717" width="1" height="29"/>
<rect x="444" y="718" width="1" height="28"/>
<rect x="448" y="723" width="1" height="23"/>
<rect x="452" y="728" width="1" height="18"/>
<rect x="456" y="731" width="1" height="15"/>
<rect x="460" y="738" width="1" height="8"/>
<rect x="464" y="741" width="1" height="5"/>
<rect x="468" y="744" width="1" height="2"/>
<rect x="472" y="745" width="1" height="2"/>
<rect x="476" y="745" width="1" height="2"/>
<rect x="480" y="745" width="1" height="3"/>
<rect x="484" y="745" width="1" height="5"/>
<rect x="488" y="745" width="1" height="5"/>
<rect x="492" y="745" width="1" height="6"/>
<rect x="496" y="745" width="1" height="10"/>
<rect x="500" y="745" width="1" height="14"/>
<rect x="504" y="745" width="1" height="17"/>
<rect x="508" y="745" width="1" height="18"/>
<rect x="512" y="745" width="1" height="15"/>
<rect x="516" y="745" width="1" height="15"/>
<rect x="520" y="745" width="1" height="14"/>
<rect x="524" y="745" width="1" height="15"/>
<rect x="528" y="745" width="1" height="17"/>
<rect x="532" y="745" width="1" height="20"/>
<rect x="536" y="745" width="1" height="25"/>
<rect x="540" y="745" width="1" height="29"/>
<rect x="544" y="745" width="1" height="35"/>
<rect x="548" y="745" width="1" height="39"/>
<rect x="552" y="745" width="1" height="43"/>
<rect x="556" y="745" width="1" height="43"/>
<rect x="560" y="745" width="1" height="41"/>
<rect x="564" y="745" width="1" height="38"/>
<rect x="568" y="745" width="1" height="36"/>
<rect x="572" y="745" width="1" height="30"/>
<rect x="576" y="745" width="1" height="26"/>
<rect x="580" y="745" width="1" height="23"/>
<rect x="584" y="745" width="1" height="19"/>
<rect x="588" y="745" width="1" height="18"/>
<rect x="592" y="745" width="1" height="26"/>
<rect x="596" y="745" width="1" height="33"/>
<rect x="600" y="745" width="1" height="39"/>
<rect x="604" y="745" width="1" height="47"/>
<rect x="608" y="745" width="1" height="52"/>
<rect x="612" y="745" width="1" height="53"/>
<rect x="616" y="745" width="1" height="53"/>
<rect x="620" y="745" width="1" height="53"/>
<rect x="624" y="745" width="1" height="53"/>
<rect x="628" y="745" width="1" height="45"/>
<rect x="632" y="745" width="1" height="39"/>
<rect x="636" y="745" width="1" height="34"/>
<rect x="640" y="745" width="1" height="30"/>
<rect x="644" y="745" width="1" height="23"/>
<rect x="648" y="745" width="1" height="17"/>
<rect x="652" y="745" width="1" height="11"/>
<rect x="656" y="745" width="1" height="7"/>
<rect x="660" y="745" width="1" height="6"/>
<rect x="664" y="745" width="1" height="5"/>
<rect x="668" y="745" width="1" height="7"/>
<rect x="672" y="745" width="1" height="8"/>
<rect x="676" y="745" width="1" height="9"/>
<rect x="680" y="745" width="1" height="7"/>
<rect x="684" y="745" width="1" height="7"/>
<rect x="688" y="745" width="1" height="6"/>
<rect x="692" y="745" width="1" height="9"/>
<rect x="696" y="745" width="1" height="10"/>
<rect x="700" y="745" width="1" height="12"/>
<rect x="704" y="745" width="1" height="11"/>
<rect x="708" y="745" width="1" height="10"/>
<rect x="712" y="745" width="1" height="7"/>
<rect x="716" y="745" width="1" height="2"/>
<rect x="720" y="742" width="1" height="4"/>
<rect x="724" y="740" width="1" height="6"/>
<rect x="728" y="739" width="1" height="7"/>
<rect x="732" y="739" width="1" height="7"/>
<rect x="736" y="737" width="1" height="9"/>
<rect x="740" y="742" width="1" height="4"/>
<rect x="744" y="745" width="1" height="2"/>
<rect x="748" y="745" width="1" height="11"/>
<rect x="752" y="745" width="1" height="14"/>
<rect x="756" y="745" width="1" height="21"/>
<rect x="760" y="745" width="1" height="24"/>
<rect x="764" y="745" width="1" height="28"/>
<rect x="768" y="745" width="1" height="30"/>
<rect x="772" y="745" width="1" height="33"/>
<rect x="776" y="745" width="1" height="32"/>
<rect x="780" y="745" width="1" height="32"/>
<rect x="784" y="745" width="1" height="29"/>
<rect x="788" y="745" width="1" height="25"/>
<rect x="792" y="745" width="1" height="23"/>
<rect x="796" y="745" width="1" height="19"/>
<rect x="800" y="745" width="1" height="17"/>
<rect x="804" y="745" width="1" height="13"/>
<rect x="808" y="745" width="1" height="9"/>
<rect x="812" y="745" width="1" height="11"/>
<rect x="816" y="745" width="1" height="13"/>
<rect x="820" y="745" width="1" height="12"/>
<rect x="824" y="745" width="1" height="9"/>
<rect x="828" y="745" width="1" height="7"/>
<rect x="832" y="745" width="1" height="3"/>
<rect x="836" y="741" width="1" height="5"/>
<rect x="840" y="736" width="1" height="10"/>
<rect x="844" y="732" width="1" height="14"/>
<rect x="848" y="731" width="1" height="15"/>
<rect x="852" y="734" width="1" height="12"/>
<rect x="856" y="733" width="1" height="13"/>
<rect x="860" y="733" width="1" height="13"/>
<rect x="864" y="732" width="1" height="14"/>
<rect x="868" y="730" width="1" height="16"/>
<rect x="872" y="728" width="1" height="18"/>
<rect x="876" y="726" width="1" height="20"/>
<rect x="880" y="726" width="1" height="20"/>
<rect x="884" y="727" width="1" height="19"/>
<rect x="888" y="726" width="1" height="20"/>
<rect x="892" y="726" width="1" height="20"/>
<rect x="896" y="725" width="1" height="21"/>
<rect x="900" y="724" width="1" height="22"/>
<rect x="904" y="724" width="1" height="22"/>
<rect x="908" y="724" width="1" height="22"/>
<rect x="912" y="726" width="1" height="20"/>
<rect x="916" y="728" width="1" height="18"/>
<rect x="920" y="732" width="1" height="14"/>
<rect x="924" y="732" width="1" height="14"/>
<rect x="928" y="732" width="1" height="14"/>
<rect x="932" y="732" width="1" height="14"/>
<rect x="936" y="734" width="1" height="12"/>
<rect x="940" y="731" width="1" height="15"/>
<rect x="944" y="731" width="1" height="15"/>
<rect x="948" y="729" width="1" height="17"/>
<rect x="952" y="727" width="1" height="19"/>
<rect x="956" y="727" width="1" height="19"/>
<rect x="960" y="728" width="1" height="18"/>
<rect x="964" y="729" width="1" height="17"/>
<rect x="968" y="731" width="1" height="15"/>
<rect x="972" y="731" width="1" height="15"/>
<rect x="976" y="732" width="1" height="14"/>
<rect x="980" y="731" width="1" height="15"/>
<rect x="984" y="731" width="1" height="15"/>
<rect x="988" y="731" width="1" height="15"/>
<rect x="992" y="730" width="1" height="16"/>
<rect x="996" y="732" width="1" height="14"/>
<rect x="1000" y="738" width="1" height="8"/>
<rect x="1004" y="744" width="1" height="2"/>
<rect x="1008" y="745" width="1" height="4"/>
<rect x="1012" y="745" width="1" height="7"/>
<rect x="1016" y="745" width="1" height="8"/>
<rect x="1020" y="745" width="1" height="8"/>
<rect x="1024" y="745" width="1" height="6"/>
<rect x="1028" y="745" width="1" height="4"/>
<rect x="1032" y="745" width="1" height="2"/>
<rect x="1036" y="743" width="1" height="3"/>
<rect x="1040" y="743" width="1" height="3"/>
<rect x="1044" y="744" width="1" height="2"/>
<rect x="1048" y="745" width="1" height="4"/>
<rect x="1052" y="745" width="1" height="7"/>
<rect x="1056" y="745" width="1" height="9"/>
<rect x="1060" y="745" width="1" height="11"/>
<rect x="1064" y="745" width="1" height="9"/>
<rect x="1068" y="745" width="1" height="6"/>
<rect x="1072" y="745" width="1" height="3"/>
<rect x="1076" y="744" width="1" height="2"/>
<rect x="1080" y="741" width="1" height="5"/>
<rect x="1084" y="740" width="1" height="6"/>
<rect x="1088" y="740" width="1" height="6"/>
<rect x="1092" y="742" width="1" height="4"/>
<rect x="1096" y="745" width="1" height="1"/>
<rect x="1100" y="745" width="1" height="2"/>
<rect x="1104" y="745" width="1" height="3"/>
<rect x="1108" y="745" width="1" height="5"/>
<rect x="1112" y="745" width="1" height="6"/>
<rect x="1116" y="745" width="1" height="4"/>
<rect x="1120" y="745" width="1" height="4"/>
<rect x="1124" y="745" width="1" height="1"/>
<rect x="1128" y="741" width="1" height="5"/>
<rect x="1132" y="739" width="1" height="7"/>
<rect x="1136" y="736" width="1" height="10"/>
<rect x="1140" y="734" width="1" height="12"/>
<rect x="1144" y="733" width="1" height="13"/>
<rect x="1148" y="731" width="1" height="15"/>
<rect x="1152" y="730" width="1" height="16"/>
<rect x="1156" y="733" width="1" height="13"/>
<rect x="1160" y="740" width="1" height="6"/>
<rect x="1164" y="744" width="1" height="2"/>
<rect x="1168" y="745" width="1" height="3"/>
<rect x="1172" y="745" width="1" height="4"/>
<rect x="1176" y="745" width="1" height="5"/>
<rect x="1180" y="745" width="1" height="7"/>
<rect x="1184" y="745" width="1" height="10"/>
<rect x="1188" y="745" width="1" height="12"/>
<rect x="1192" y="745" width="1" height="13"/>
<rect x="1196" y="745" width="1" height="16"/>
<rect x="1200" y="745" width="1" height="17"/>
<rect x="1204" y="745" width="1" height="18"/>
<rect x="1208" y="745" width="1" height="22"/>
<rect x="1212" y="745" width="1" height="23"/>
<rect x="1216" y="745" width="1" height="25"/>
<rect x="1220" y="745" width="1" height="25"/>
<rect x="1224" y="745" width="1" height="24"/>
<rect x="1228" y="745" width="1" height="23"/>
<rect x="1232" y="745" width="1" height="23"/>
<rect x="1236" y="745" width="1" height="24"/>
<rect x="1240" y="745" width="1" height="23"/>
<rect x="1244" y="745" width="1" height="25"/>
<rect x="1248" y="745" width="1" height="28"/>
<rect x="1252" y="745" width="1" height="32"/>
<rect x="1256" y="745" width="1" height="36"/>
<rect x="1260" y="745" width="1" height="38"/>
<rect x="1264" y="745" width="1" height="39"/>
<rect x="1268" y="745" width="1" height="39"/>
<rect x="1272" y="745" width="1" height="37"/>
<rect x="1276" y="745" width="1" height="37"/>
<rect x="1280" y="745" width="1" height="35"/>
<rect x="1284" y="745" width="1" height="34"/>
<rect x="1288" y="745" width="1" height="31"/>
<rect x="1292" y="745" width="1" height="28"/>
<rect x="1296" y="745" width="1" height="26"/>
<rect x="1300" y="745" width="1" height="26"/>
<rect x="1304" y="745" width="1" height="24"/>
</g>
<g clip-path="url(#cd)"><path d="M424 708h2v1h-2zM418 709h3v1h-3zM426 709h1v1h-1zM430 709h3v1h-3zM413 710h2v1h-2zM412 711h1v1h-1zM436 711h2v1h-2zM438 712h1v1h-1zM408 713h1v1h-1zM442 713h3v1h-3zM406 714h2v1h-2zM448 715h1v1h-1zM449 716h2v1h-2zM402 717h1v1h-1zM401 718h1v1h-1zM174 719h1v1h-1zM178 719h3v1h-3zM400 719h1v1h-1zM454 719h2v1h-2zM172 720h2v1h-2zM184 720h2v1h-2zM456 720h1v1h-1zM166 721h3v1h-3zM186 721h1v1h-1zM162 722h1v1h-1zM190 722h1v1h-1zM160 723h2v1h-2zM191 723h2v1h-2zM396 723h1v1h-1zM460 723h1v1h-1zM394 724h2v1h-2zM461 724h1v1h-1zM155 725h2v1h-2zM196 725h1v1h-1zM462 725h1v1h-1zM906 725h2v1h-2zM911 725h3v1h-3zM154 726h1v1h-1zM197 726h2v1h-2zM899 726h3v1h-3zM905 726h1v1h-1zM917 726h3v1h-3zM150 727h1v1h-1zM894 727h2v1h-2zM923 727h3v1h-3zM148 728h2v1h-2zM202 728h1v1h-1zM390 728h1v1h-1zM466 728h2v1h-2zM893 728h1v1h-1zM929 728h3v1h-3zM142 729h3v1h-3zM203 729h2v1h-2zM389 729h1v1h-1zM468 729h1v1h-1zM887 729h3v1h-3zM935 729h3v1h-3zM971 729h3v1h-3zM977 729h1v1h-1zM138 730h1v1h-1zM388 730h1v1h-1zM881 730h3v1h-3zM941 730h1v1h-1zM959 730h3v1h-3zM965 730h3v1h-3zM978 730h2v1h-2zM983 730h3v1h-3zM989 730h1v1h-1zM136 731h2v1h-2zM262 731h3v1h-3zM875 731h3v1h-3zM942 731h2v1h-2zM947 731h3v1h-3zM953 731h3v1h-3zM990 731h2v1h-2zM995 731h3v1h-3zM112 732h3v1h-3zM118 732h3v1h-3zM126 732h1v1h-1zM130 732h3v1h-3zM208 732h1v1h-1zM258 732h1v1h-1zM268 732h2v1h-2zM472 732h1v1h-1zM871 732h1v1h-1zM1001 732h1v1h-1zM106 733h3v1h-3zM124 733h2v1h-2zM209 733h2v1h-2zM256 733h2v1h-2zM270 733h1v1h-1zM383 733h2v1h-2zM473 733h1v1h-1zM869 733h2v1h-2zM1002 733h2v1h-2zM102 734h1v1h-1zM250 734h3v1h-3zM274 734h3v1h-3zM382 734h1v1h-1zM474 734h1v1h-1zM100 735h2v1h-2zM214 735h1v1h-1zM864 735h2v1h-2zM1007 735h2v1h-2zM1158 735h2v1h-2zM215 736h2v1h-2zM245 736h2v1h-2zM378 736h1v1h-1zM863 736h1v1h-1zM1009 736h1v1h-1zM1157 736h1v1h-1zM1163 736h3v1h-3zM96 737h1v1h-1zM244 737h1v1h-1zM280 737h1v1h-1zM377 737h1v1h-1zM478 737h2v1h-2zM1151 737h3v1h-3zM1169 737h2v1h-2zM94 738h2v1h-2zM220 738h2v1h-2zM281 738h1v1h-1zM376 738h1v1h-1zM480 738h1v1h-1zM859 738h1v1h-1zM1013 738h1v1h-1zM1171 738h1v1h-1zM222 739h1v1h-1zM234 739h1v1h-1zM238 739h3v1h-3zM282 739h1v1h-1zM857 739h2v1h-2zM1014 739h2v1h-2zM1175 739h2v1h-2zM226 740h3v1h-3zM232 740h2v1h-2zM1146 740h2v1h-2zM1177 740h1v1h-1zM370 741h3v1h-3zM484 741h1v1h-1zM853 741h1v1h-1zM1145 741h1v1h-1zM90 742h1v1h-1zM286 742h2v1h-2zM485 742h1v1h-1zM744 742h2v1h-2zM852 742h1v1h-1zM1019 742h2v1h-2zM1181 742h1v1h-1zM89 743h1v1h-1zM288 743h1v1h-1zM365 743h2v1h-2zM486 743h1v1h-1zM739 743h2v1h-2zM746 743h1v1h-1zM851 743h1v1h-1zM1021 743h1v1h-1zM1139 743h3v1h-3zM1182 743h2v1h-2zM88 744h1v1h-1zM364 744h1v1h-1zM738 744h1v1h-1zM750 744h3v1h-3zM1098 744h2v1h-2zM1103 744h3v1h-3zM1109 744h1v1h-1zM490 745h1v1h-1zM1025 745h2v1h-2zM1097 745h1v1h-1zM1110 745h2v1h-2zM1115 745h3v1h-3zM1134 745h2v1h-2zM292 746h1v1h-1zM358 746h3v1h-3zM491 746h2v1h-2zM733 746h2v1h-2zM846 746h2v1h-2zM1027 746h1v1h-1zM1091 746h3v1h-3zM1121 746h1v1h-1zM1133 746h1v1h-1zM1187 746h1v1h-1zM293 747h1v1h-1zM496 747h1v1h-1zM732 747h1v1h-1zM756 747h1v1h-1zM845 747h1v1h-1zM1049 747h3v1h-3zM1055 747h3v1h-3zM1086 747h2v1h-2zM1122 747h2v1h-2zM1127 747h3v1h-3zM1188 747h1v1h-1zM84 748h1v1h-1zM294 748h1v1h-1zM353 748h2v1h-2zM497 748h2v1h-2zM757 748h1v1h-1zM1031 748h3v1h-3zM1037 748h3v1h-3zM1043 748h3v1h-3zM1061 748h3v1h-3zM1085 748h1v1h-1zM1189 748h1v1h-1zM83 749h1v1h-1zM352 749h1v1h-1zM726 749h3v1h-3zM758 749h1v1h-1zM841 749h1v1h-1zM1067 749h3v1h-3zM1073 749h1v1h-1zM1079 749h3v1h-3zM82 750h1v1h-1zM347 750h2v1h-2zM502 750h1v1h-1zM722 750h1v1h-1zM839 750h2v1h-2zM1074 750h2v1h-2zM1193 750h1v1h-1zM298 751h2v1h-2zM346 751h1v1h-1zM503 751h2v1h-2zM684 751h3v1h-3zM690 751h3v1h-3zM720 751h2v1h-2zM1194 751h2v1h-2zM300 752h1v1h-1zM342 752h1v1h-1zM679 752h2v1h-2zM696 752h3v1h-3zM714 752h3v1h-3zM762 752h2v1h-2zM340 753h2v1h-2zM508 753h2v1h-2zM678 753h1v1h-1zM702 753h3v1h-3zM708 753h3v1h-3zM764 753h1v1h-1zM834 753h2v1h-2zM78 754h1v1h-1zM304 754h1v1h-1zM510 754h1v1h-1zM833 754h1v1h-1zM1199 754h3v1h-3zM77 755h1v1h-1zM305 755h2v1h-2zM334 755h3v1h-3zM514 755h1v1h-1zM674 755h1v1h-1zM76 756h1v1h-1zM515 756h2v1h-2zM673 756h1v1h-1zM827 756h3v1h-3zM1205 756h2v1h-2zM310 757h1v1h-1zM329 757h2v1h-2zM520 757h2v1h-2zM672 757h1v1h-1zM768 757h1v1h-1zM1207 757h1v1h-1zM4 758h2v1h-2zM311 758h2v1h-2zM322 758h3v1h-3zM328 758h1v1h-1zM522 758h1v1h-1zM769 758h1v1h-1zM823 758h1v1h-1zM6 759h1v1h-1zM72 759h1v1h-1zM316 759h3v1h-3zM526 759h3v1h-3zM668 759h1v1h-1zM770 759h1v1h-1zM821 759h2v1h-2zM1211 759h2v1h-2zM10 760h3v1h-3zM70 760h2v1h-2zM532 760h2v1h-2zM667 760h1v1h-1zM1213 760h1v1h-1zM16 761h2v1h-2zM534 761h1v1h-1zM666 761h1v1h-1zM817 761h1v1h-1zM18 762h1v1h-1zM22 762h3v1h-3zM538 762h1v1h-1zM815 762h2v1h-2zM1217 762h2v1h-2zM28 763h2v1h-2zM66 763h1v1h-1zM539 763h2v1h-2zM773 763h1v1h-1zM1219 763h1v1h-1zM30 764h1v1h-1zM65 764h1v1h-1zM774 764h1v1h-1zM811 764h1v1h-1zM1223 764h3v1h-3zM34 765h3v1h-3zM40 765h2v1h-2zM64 765h1v1h-1zM544 765h1v1h-1zM662 765h1v1h-1zM775 765h1v1h-1zM809 765h2v1h-2zM1229 765h1v1h-1zM42 766h1v1h-1zM46 766h3v1h-3zM52 766h2v1h-2zM58 766h3v1h-3zM545 766h2v1h-2zM662 766h1v1h-1zM1230 766h2v1h-2zM54 767h1v1h-1zM661 767h1v1h-1zM1235 767h3v1h-3zM1241 767h1v1h-1zM779 768h1v1h-1zM805 768h1v1h-1zM1242 768h2v1h-2zM1247 768h3v1h-3zM550 769h2v1h-2zM780 769h1v1h-1zM803 769h2v1h-2zM1253 769h1v1h-1zM552 770h1v1h-1zM781 770h1v1h-1zM1254 770h2v1h-2zM658 771h1v1h-1zM785 771h1v1h-1zM798 771h2v1h-2zM594 772h1v1h-1zM598 772h3v1h-3zM657 772h1v1h-1zM786 772h2v1h-2zM791 772h3v1h-3zM797 772h1v1h-1zM1259 772h2v1h-2zM592 773h2v1h-2zM604 773h1v1h-1zM656 773h1v1h-1zM1261 773h1v1h-1zM556 774h1v1h-1zM605 774h2v1h-2zM1265 774h1v1h-1zM557 775h2v1h-2zM587 775h2v1h-2zM1266 775h2v1h-2zM1303 775h1v1h-1zM586 776h1v1h-1zM1301 776h2v1h-2zM610 777h2v1h-2zM653 777h1v1h-1zM1271 777h3v1h-3zM562 778h2v1h-2zM582 778h1v1h-1zM612 778h1v1h-1zM652 778h1v1h-1zM1295 778h3v1h-3zM564 779h1v1h-1zM581 779h1v1h-1zM651 779h1v1h-1zM1277 779h2v1h-2zM1290 779h2v1h-2zM580 780h1v1h-1zM1279 780h1v1h-1zM1283 780h3v1h-3zM1289 780h1v1h-1zM568 781h3v1h-3zM574 781h3v1h-3zM616 782h1v1h-1zM617 783h1v1h-1zM648 783h1v1h-1zM618 784h1v1h-1zM647 784h1v1h-1zM646 785h1v1h-1zM622 787h1v1h-1zM623 788h1v1h-1zM642 788h1v1h-1zM624 789h1v1h-1zM641 789h1v1h-1zM640 790h1v1h-1zM628 791h2v1h-2zM630 792h1v1h-1zM634 792h3v1h-3z" fill="#ff0000" shape-rendering="crispEdges"/></g>
<text transform="translate(8,712) scale(0.982,1)" x="0" y="0" font-size="9.5" fill="#000" stroke="#000" stroke-width="0.3" >MACD(12,26,9) -0.003203 -0.004094</text>
<rect x="1641" y="745" width="2" height="1" fill="#000" shape-rendering="crispEdges"/>
<text transform="translate(1644,711) scale(0.95,1)" x="0" y="0" font-size="9.5" fill="#000" stroke="#000" stroke-width="0.3" >0.005986</text>
<text transform="translate(1644,749) scale(0.95,1)" x="0" y="0" font-size="9.5" fill="#000" stroke="#000" stroke-width="0.3" >0.00</text>
<text transform="translate(1644,800) scale(0.95,1)" x="0" y="0" font-size="9.5" fill="#000" stroke="#000" stroke-width="0.3" >-0.007737</text>
<rect x="4" y="803" width="1" height="3" fill="#000" shape-rendering="crispEdges"/>
<text transform="translate(3.3,815) scale(0.963,1)" x="0" y="0" font-size="9.5" fill="#000" stroke="#000" stroke-width="0.3" >31 Dec 2018</text>
<rect x="68" y="803" width="1" height="3" fill="#000" shape-rendering="crispEdges"/>
<text transform="translate(67.3,815) scale(0.963,1)" x="0" y="0" font-size="9.5" fill="#000" stroke="#000" stroke-width="0.3" >18 Jan 2019</text>
<rect x="132" y="803" width="1" height="3" fill="#000" shape-rendering="crispEdges"/>
<text transform="translate(131.3,815) scale(0.963,1)" x="0" y="0" font-size="9.5" fill="#000" stroke="#000" stroke-width="0.3" >6 Feb 2019</text>
<rect x="196" y="803" width="1" height="3" fill="#000" shape-rendering="crispEdges"/>
<text transform="translate(195.3,815) scale(0.963,1)" x="0" y="0" font-size="9.5" fill="#000" stroke="#000" stroke-width="0.3" >25 Feb 2019</text>
<rect x="260" y="803" width="1" height="3" fill="#000" shape-rendering="crispEdges"/>
<text transform="translate(259.3,815) scale(0.963,1)" x="0" y="0" font-size="9.5" fill="#000" stroke="#000" stroke-width="0.3" >15 Mar 2019</text>
<rect x="324" y="803" width="1" height="3" fill="#000" shape-rendering="crispEdges"/>
<text transform="translate(323.3,815) scale(0.963,1)" x="0" y="0" font-size="9.5" fill="#000" stroke="#000" stroke-width="0.3" >3 Apr 2019</text>
<rect x="388" y="803" width="1" height="3" fill="#000" shape-rendering="crispEdges"/>
<text transform="translate(387.3,815) scale(0.963,1)" x="0" y="0" font-size="9.5" fill="#000" stroke="#000" stroke-width="0.3" >22 Apr 2019</text>
<rect x="452" y="803" width="1" height="3" fill="#000" shape-rendering="crispEdges"/>
<text transform="translate(451.3,815) scale(0.963,1)" x="0" y="0" font-size="9.5" fill="#000" stroke="#000" stroke-width="0.3" >10 May 2019</text>
<rect x="516" y="803" width="1" height="3" fill="#000" shape-rendering="crispEdges"/>
<text transform="translate(515.3,815) scale(0.963,1)" x="0" y="0" font-size="9.5" fill="#000" stroke="#000" stroke-width="0.3" >29 May 2019</text>
<rect x="580" y="803" width="1" height="3" fill="#000" shape-rendering="crispEdges"/>
<text transform="translate(579.3,815) scale(0.963,1)" x="0" y="0" font-size="9.5" fill="#000" stroke="#000" stroke-width="0.3" >17 Jun 2019</text>
<rect x="644" y="803" width="1" height="3" fill="#000" shape-rendering="crispEdges"/>
<text transform="translate(643.3,815) scale(0.963,1)" x="0" y="0" font-size="9.5" fill="#000" stroke="#000" stroke-width="0.3" >5 Jul 2019</text>
<rect x="708" y="803" width="1" height="3" fill="#000" shape-rendering="crispEdges"/>
<text transform="translate(707.3,815) scale(0.963,1)" x="0" y="0" font-size="9.5" fill="#000" stroke="#000" stroke-width="0.3" >24 Jul 2019</text>
<rect x="772" y="803" width="1" height="3" fill="#000" shape-rendering="crispEdges"/>
<text transform="translate(771.3,815) scale(0.963,1)" x="0" y="0" font-size="9.5" fill="#000" stroke="#000" stroke-width="0.3" >12 Aug 2019</text>
<rect x="836" y="803" width="1" height="3" fill="#000" shape-rendering="crispEdges"/>
<text transform="translate(835.3,815) scale(0.963,1)" x="0" y="0" font-size="9.5" fill="#000" stroke="#000" stroke-width="0.3" >30 Aug 2019</text>
<rect x="900" y="803" width="1" height="3" fill="#000" shape-rendering="crispEdges"/>
<text transform="translate(899.3,815) scale(0.963,1)" x="0" y="0" font-size="9.5" fill="#000" stroke="#000" stroke-width="0.3" >18 Sep 2019</text>
<rect x="964" y="803" width="1" height="3" fill="#000" shape-rendering="crispEdges"/>
<text transform="translate(963.3,815) scale(0.963,1)" x="0" y="0" font-size="9.5" fill="#000" stroke="#000" stroke-width="0.3" >7 Oct 2019</text>
<rect x="1028" y="803" width="1" height="3" fill="#000" shape-rendering="crispEdges"/>
<text transform="translate(1027.3,815) scale(0.963,1)" x="0" y="0" font-size="9.5" fill="#000" stroke="#000" stroke-width="0.3" >25 Oct 2019</text>
<rect x="1092" y="803" width="1" height="3" fill="#000" shape-rendering="crispEdges"/>
<text transform="translate(1091.3,815) scale(0.963,1)" x="0" y="0" font-size="9.5" fill="#000" stroke="#000" stroke-width="0.3" >13 Nov 2019</text>
<rect x="1156" y="803" width="1" height="3" fill="#000" shape-rendering="crispEdges"/>
<text transform="translate(1155.3,815) scale(0.963,1)" x="0" y="0" font-size="9.5" fill="#000" stroke="#000" stroke-width="0.3" >2 Dec 2019</text>
<rect x="1220" y="803" width="1" height="3" fill="#000" shape-rendering="crispEdges"/>
<text transform="translate(1219.3,815) scale(0.963,1)" x="0" y="0" font-size="9.5" fill="#000" stroke="#000" stroke-width="0.3" >20 Dec 2019</text>
<rect x="1284" y="803" width="1" height="3" fill="#000" shape-rendering="crispEdges"/>
<text transform="translate(1283.3,815) scale(0.963,1)" x="0" y="0" font-size="9.5" fill="#000" stroke="#000" stroke-width="0.3" >8 Jan 2020</text>
<g shape-rendering="crispEdges">
<rect x="0" y="823" width="1682" height="1" fill="#e3e3e3"/>
<rect x="0" y="825" width="1682" height="20" fill="#f0f0f0"/>
<rect x="0" y="825" width="1682" height="1" fill="#000"/>
<rect x="0" y="825" width="1" height="20" fill="#646464"/>
<rect x="110" y="824" width="98" height="19" fill="#fff"/>
<rect x="109" y="825" width="1" height="19" fill="#000"/>
<rect x="208" y="825" width="1" height="19" fill="#000"/>
<rect x="109" y="843" width="100" height="1" fill="#000"/>
<rect x="109" y="844" width="100" height="1" fill="#c8c8c8"/>
<rect x="313" y="828" width="1" height="14" fill="#707070"/>
<rect x="417" y="828" width="1" height="14" fill="#707070"/>
<rect x="521" y="828" width="1" height="14" fill="#707070"/>
</g>
<text x="17" y="839.5" font-size="12" fill="#6a6a6a" stroke="#6a6a6a" stroke-width="0.1" textLength="80.0" lengthAdjust="spacingAndGlyphs">EURUSD,Daily</text>
<text x="119.7" y="839.5" font-size="12" fill="#000" stroke="#000" stroke-width="0.1" textLength="78.6" lengthAdjust="spacingAndGlyphs">USDCHF,Daily</text>
<text x="220.3" y="839.5" font-size="12" fill="#6a6a6a" stroke="#6a6a6a" stroke-width="0.1" textLength="81.4" lengthAdjust="spacingAndGlyphs">AUDUSD,Daily</text>
<text x="324" y="839.5" font-size="12" fill="#6a6a6a" stroke="#6a6a6a" stroke-width="0.1" textLength="81.0" lengthAdjust="spacingAndGlyphs">USDCAD,Daily</text>
<text x="427.5" y="839.5" font-size="12" fill="#6a6a6a" stroke="#6a6a6a" stroke-width="0.1" textLength="82.5" lengthAdjust="spacingAndGlyphs">USDCNH,Daily</text>
<polygon points="1659,830.5 1659,837.5 1655.5,834" fill="#a0a0a0"/>
<polygon points="1675,830.5 1675,837.5 1678.5,834" fill="#a0a0a0"/>
</svg>
</body></html>
